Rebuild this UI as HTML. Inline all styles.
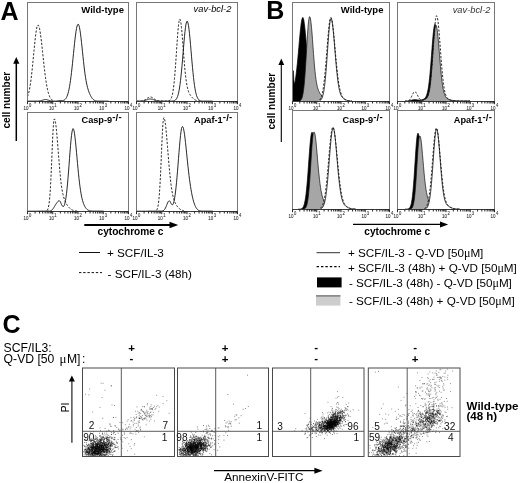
<!DOCTYPE html>
<html><head><meta charset="utf-8"><title>Figure</title><style>html,body{margin:0;padding:0;background:#fff}</style></head><body>
<svg width="520" height="483" viewBox="0 0 520 483" style="display:block;filter:grayscale(1)">
<rect width="520" height="483" fill="#fff"/>
<defs><filter id="sb" x="-5%" y="-5%" width="110%" height="110%"><feGaussianBlur stdDeviation="0.32"/></filter></defs>
<text x="0.5" y="19.7" font-family="Liberation Sans, sans-serif" font-size="25" font-weight="bold" fill="#000">A</text>
<path d="M27.5 96.7 L28.0 95.4 L28.5 93.7 L29.0 91.7 L29.5 89.4 L30.0 86.6 L30.5 83.3 L31.0 79.7 L31.5 75.6 L32.0 71.1 L32.5 66.3 L33.0 61.2 L33.5 56.0 L34.0 50.7 L34.5 45.6 L35.0 40.8 L35.5 36.3 L36.0 32.4 L36.5 29.3 L37.0 26.9 L37.5 25.4 L38.0 25.0 L38.5 25.3 L39.0 26.5 L39.5 28.4 L40.0 31.0 L40.5 34.2 L41.0 38.0 L41.5 42.1 L42.0 46.5 L42.5 51.2 L43.0 55.9 L43.5 60.6 L44.0 65.1 L44.5 69.5 L45.0 73.7 L45.5 77.5 L46.0 81.1 L46.5 84.2 L47.0 87.0 L47.5 89.5 L48.0 91.7 L48.5 93.5 L49.0 95.0 L49.5 96.3 L50.0 97.4 L50.5 98.2 L51.0 98.9 L51.5 99.4 L52.0 99.9 L52.5 100.2 L53.0 100.4 L53.5 100.6 L54.0 100.8" fill="none" stroke="#111" stroke-width="0.9" stroke-dasharray="2.2 1.6" stroke-linejoin="round"/>
<path d="M27.5 101.1 L28.0 101.1 L28.5 101.1 L29.0 101.1 L29.5 101.1 L30.0 101.1 L30.5 101.1 L31.0 101.1 L31.5 101.1 L32.0 101.1 L32.5 101.1 L33.0 101.1 L33.5 101.1 L34.0 101.1 L34.5 101.1 L35.0 101.1 L35.5 101.1 L36.0 101.1 L36.5 101.1 L37.0 101.1 L37.5 101.1 L38.0 101.1 L38.5 101.0 L39.0 101.0 L39.5 100.9 L40.0 100.9 L40.5 100.8 L41.0 100.6 L41.5 100.5 L42.0 100.3 L42.5 100.2 L43.0 100.0 L43.5 99.9 L44.0 99.7 L44.5 99.6 L45.0 99.6 L45.5 99.5 L46.0 99.6 L46.5 99.6 L47.0 99.7 L47.5 99.9 L48.0 100.0 L48.5 100.2 L49.0 100.3 L49.5 100.5 L50.0 100.6 L50.5 100.8 L51.0 100.9 L51.5 100.9 L52.0 101.0 L52.5 101.0 L53.0 101.1 L53.5 101.1 L54.0 101.1 L54.5 101.1 L55.0 101.1 L55.5 101.1 L56.0 101.1 L56.5 101.0 L57.0 101.0 L57.5 100.9 L58.0 100.8 L58.5 100.7 L59.0 100.6 L59.5 100.5 L60.0 100.5 L60.5 100.5 L61.0 100.5 L61.5 100.5 L62.0 100.6 L62.5 100.6 L63.0 100.5 L63.5 100.4 L64.0 100.2 L64.5 99.9 L65.0 99.5 L65.5 99.0 L66.0 98.3 L66.5 97.5 L67.0 96.4 L67.5 95.1 L68.0 93.5 L68.5 91.6 L69.0 89.3 L69.5 86.7 L70.0 83.7 L70.5 80.3 L71.0 76.5 L71.5 72.4 L72.0 68.0 L72.5 63.3 L73.0 58.4 L73.5 53.5 L74.0 48.5 L74.5 43.7 L75.0 39.2 L75.5 35.1 L76.0 31.5 L76.5 28.5 L77.0 26.2 L77.5 24.8 L78.0 24.2 L78.5 24.4 L79.0 25.6 L79.5 27.6 L80.0 30.4 L80.5 33.8 L81.0 37.8 L81.5 42.3 L82.0 47.0 L82.5 51.8 L83.0 56.7 L83.5 61.4 L84.0 65.9 L84.5 70.0 L85.0 73.9 L85.5 77.3 L86.0 80.3 L86.5 83.0 L87.0 85.3 L87.5 87.3 L88.0 89.1 L88.5 90.7 L89.0 92.1 L89.5 93.3 L90.0 94.5 L90.5 95.5 L91.0 96.5 L91.5 97.3 L92.0 98.1 L92.5 98.7 L93.0 99.3 L93.5 99.7 L94.0 100.1 L94.5 100.4 L95.0 100.6 L95.5 100.8 L96.0 100.9 L96.5 101.0 L97.0 101.1 L97.5 101.1 L98.0 101.1 L98.5 101.1 L99.0 101.1 L99.5 101.1 L100.0 101.1 L100.5 101.1 L101.0 101.1 L101.5 101.1 L102.0 101.1 L102.5 101.1 L103.0 101.1 L103.5 101.1 L104.0 101.1 L104.5 101.1 L105.0 101.1 L105.5 101.1 L106.0 101.1 L106.5 101.1 L107.0 101.1 L107.5 101.1 L108.0 101.1 L108.5 101.1" fill="none" stroke="#111" stroke-width="0.9" stroke-linejoin="round"/>
<path d="M136.5 101.1 L137.0 101.1 L137.5 101.1 L138.0 101.1 L138.5 101.1 L139.0 101.1 L139.5 101.1 L140.0 101.1 L140.5 101.1 L141.0 101.0 L141.5 101.0 L142.0 100.9 L142.5 100.8 L143.0 100.7 L143.5 100.5 L144.0 100.3 L144.5 100.1 L145.0 99.8 L145.5 99.5 L146.0 99.2 L146.5 98.8 L147.0 98.5 L147.5 98.1 L148.0 97.8 L148.5 97.5 L149.0 97.2 L149.5 97.1 L150.0 97.0 L150.5 97.0 L151.0 97.0 L151.5 97.2 L152.0 97.4 L152.5 97.7 L153.0 98.0 L153.5 98.4 L154.0 98.7 L154.5 99.1 L155.0 99.4 L155.5 99.8 L156.0 100.0 L156.5 100.3 L157.0 100.5 L157.5 100.6 L158.0 100.8 L158.5 100.9 L159.0 101.0 L159.5 101.0 L160.0 101.1 L160.5 101.1 L161.0 101.1 L161.5 101.1 L162.0 101.1 L162.5 101.1 L163.0 101.1 L163.5 101.1 L164.0 101.1 L164.5 101.1 L165.0 101.1 L165.5 101.1 L166.0 101.1 L166.5 101.1 L167.0 101.1 L167.5 101.1 L168.0 101.0 L168.5 100.9 L169.0 100.8 L169.5 100.5 L170.0 100.2 L170.5 99.6 L171.0 98.8 L171.5 97.7 L172.0 96.1 L172.5 94.1 L173.0 91.3 L173.5 87.9 L174.0 83.7 L174.5 78.6 L175.0 72.7 L175.5 66.1 L176.0 58.9 L176.5 51.4 L177.0 43.9 L177.5 36.8 L178.0 30.5 L178.5 25.2 L179.0 21.5 L179.5 19.4 L180.0 19.1 L180.5 20.5 L181.0 23.4 L181.5 27.7 L182.0 33.0 L182.5 39.1 L183.0 45.7 L183.5 52.3 L184.0 58.8 L184.5 64.8 L185.0 70.3 L185.5 75.1 L186.0 79.3 L186.5 82.7 L187.0 85.6 L187.5 87.9 L188.0 89.9 L188.5 91.5 L189.0 92.7 L189.5 93.8 L190.0 94.7 L190.5 95.4 L191.0 96.1 L191.5 96.8 L192.0 97.3 L192.5 97.8 L193.0 98.3 L193.5 98.8 L194.0 99.2 L194.5 99.5 L195.0 99.8 L195.5 100.1 L196.0 100.3 L196.5 100.5 L197.0 100.7 L197.5 100.8 L198.0 100.9 L198.5 101.0 L199.0 101.0 L199.5 101.1 L200.0 101.1" fill="none" stroke="#111" stroke-width="0.9" stroke-dasharray="2.2 1.6" stroke-linejoin="round"/>
<path d="M136.5 101.1 L137.0 101.1 L137.5 101.1 L138.0 101.1 L138.5 101.1 L139.0 101.1 L139.5 101.1 L140.0 101.1 L140.5 101.1 L141.0 101.1 L141.5 101.1 L142.0 101.0 L142.5 101.0 L143.0 100.9 L143.5 100.8 L144.0 100.7 L144.5 100.6 L145.0 100.5 L145.5 100.3 L146.0 100.1 L146.5 99.9 L147.0 99.7 L147.5 99.6 L148.0 99.4 L148.5 99.2 L149.0 99.1 L149.5 99.0 L150.0 99.0 L150.5 99.0 L151.0 99.0 L151.5 99.1 L152.0 99.2 L152.5 99.3 L153.0 99.5 L153.5 99.7 L154.0 99.9 L154.5 100.1 L155.0 100.3 L155.5 100.4 L156.0 100.6 L156.5 100.7 L157.0 100.8 L157.5 100.9 L158.0 101.0 L158.5 101.0 L159.0 101.0 L159.5 101.1 L160.0 101.1 L160.5 101.1 L161.0 101.1 L161.5 101.1 L162.0 101.1 L162.5 101.1 L163.0 101.1 L163.5 101.1 L164.0 101.1 L164.5 101.1 L165.0 101.1 L165.5 101.1 L166.0 101.1 L166.5 101.1 L167.0 101.1 L167.5 101.1 L168.0 101.1 L168.5 101.1 L169.0 101.1 L169.5 101.1 L170.0 101.1 L170.5 101.1 L171.0 101.1 L171.5 101.1 L172.0 101.1 L172.5 101.0 L173.0 101.0 L173.5 100.9 L174.0 100.8 L174.5 100.6 L175.0 100.3 L175.5 100.0 L176.0 99.4 L176.5 98.8 L177.0 97.8 L177.5 96.7 L178.0 95.1 L178.5 93.2 L179.0 90.9 L179.5 88.0 L180.0 84.6 L180.5 80.6 L181.0 76.1 L181.5 71.1 L182.0 65.7 L182.5 59.9 L183.0 53.8 L183.5 47.8 L184.0 41.9 L184.5 36.4 L185.0 31.4 L185.5 27.3 L186.0 24.1 L186.5 22.0 L187.0 21.2 L187.5 21.5 L188.0 23.1 L188.5 25.7 L189.0 29.3 L189.5 33.7 L190.0 38.9 L190.5 44.4 L191.0 50.3 L191.5 56.2 L192.0 62.0 L192.5 67.5 L193.0 72.7 L193.5 77.5 L194.0 81.7 L194.5 85.5 L195.0 88.7 L195.5 91.3 L196.0 93.6 L196.5 95.4 L197.0 96.8 L197.5 97.9 L198.0 98.8 L198.5 99.5 L199.0 100.0 L199.5 100.3 L200.0 100.6 L200.5 100.8 L201.0 100.9 L201.5 101.0 L202.0 101.0 L202.5 101.1 L203.0 101.1 L203.5 101.1 L204.0 101.1 L204.5 101.1 L205.0 101.1 L205.5 101.1 L206.0 101.1 L206.5 101.1 L207.0 101.1 L207.5 101.1 L208.0 101.1 L208.5 101.1 L209.0 101.1 L209.5 101.1 L210.0 101.1 L210.5 101.1 L211.0 101.1 L211.5 101.1 L212.0 101.1 L212.5 101.1" fill="none" stroke="#111" stroke-width="0.9" stroke-linejoin="round"/>
<path d="M47.0 210.5 L47.5 209.9 L48.0 208.8 L48.5 207.0 L49.0 204.1 L49.5 200.0 L50.0 194.1 L50.5 186.4 L51.0 176.8 L51.5 165.7 L52.0 153.8 L52.5 142.0 L53.0 131.7 L53.5 123.9 L54.0 119.6 L54.5 118.9 L55.0 119.9 L55.5 122.3 L56.0 126.0 L56.5 130.7 L57.0 136.1 L57.5 142.1 L58.0 148.4 L58.5 154.7 L59.0 160.9 L59.5 166.9 L60.0 172.6 L60.5 177.7 L61.0 182.3 L61.5 186.1 L62.0 189.4 L62.5 192.2 L63.0 194.5 L63.5 196.5 L64.0 198.2 L64.5 199.6 L65.0 200.9 L65.5 202.0 L66.0 203.0 L66.5 203.9 L67.0 204.8 L67.5 205.5 L68.0 206.2 L68.5 206.9 L69.0 207.5 L69.5 208.0 L70.0 208.5 L70.5 208.9 L71.0 209.3 L71.5 209.6 L72.0 209.9 L72.5 210.1 L73.0 210.3 L73.5 210.5 L74.0 210.6 L74.5 210.7 L75.0 210.8 L75.5 210.9 L76.0 210.9 L76.5 211.0 L77.0 211.0 L77.5 211.1 L78.0 211.1" fill="none" stroke="#111" stroke-width="0.9" stroke-dasharray="2.2 1.6" stroke-linejoin="round"/>
<path d="M27.5 211.2 L28.0 211.2 L28.5 211.2 L29.0 211.2 L29.5 211.2 L30.0 211.2 L30.5 211.2 L31.0 211.2 L31.5 211.2 L32.0 211.2 L32.5 211.2 L33.0 211.2 L33.5 211.2 L34.0 211.2 L34.5 211.2 L35.0 211.2 L35.5 211.2 L36.0 211.2 L36.5 211.2 L37.0 211.2 L37.5 211.2 L38.0 211.1 L38.5 211.1 L39.0 211.1 L39.5 211.1 L40.0 211.1 L40.5 211.1 L41.0 211.1 L41.5 211.1 L42.0 211.1 L42.5 211.1 L43.0 211.1 L43.5 211.1 L44.0 211.1 L44.5 211.1 L45.0 211.1 L45.5 211.1 L46.0 211.1 L46.5 211.1 L47.0 211.1 L47.5 211.1 L48.0 211.1 L48.5 211.1 L49.0 211.1 L49.5 211.1 L50.0 211.0 L50.5 210.9 L51.0 210.7 L51.5 210.4 L52.0 210.0 L52.5 209.4 L53.0 208.8 L53.5 208.1 L54.0 207.3 L54.5 206.4 L55.0 205.6 L55.5 204.8 L56.0 204.0 L56.5 203.3 L57.0 202.6 L57.5 201.9 L58.0 201.3 L58.5 200.9 L59.0 200.7 L59.5 200.8 L60.0 201.3 L60.5 202.2 L61.0 203.3 L61.5 204.4 L62.0 205.4 L62.5 206.2 L63.0 206.6 L63.5 206.5 L64.0 205.9 L64.5 204.7 L65.0 202.9 L65.5 200.5 L66.0 197.4 L66.5 193.6 L67.0 189.1 L67.5 184.0 L68.0 178.2 L68.5 172.0 L69.0 165.4 L69.5 158.7 L70.0 152.1 L70.5 145.8 L71.0 140.2 L71.5 135.5 L72.0 131.9 L72.5 129.5 L73.0 128.6 L73.5 129.1 L74.0 130.7 L74.5 133.5 L75.0 137.3 L75.5 141.8 L76.0 146.9 L76.5 152.3 L77.0 157.8 L77.5 163.4 L78.0 168.7 L78.5 173.8 L79.0 178.5 L79.5 182.8 L80.0 186.8 L80.5 190.3 L81.0 193.4 L81.5 196.1 L82.0 198.4 L82.5 200.3 L83.0 202.0 L83.5 203.5 L84.0 204.8 L84.5 205.8 L85.0 206.8 L85.5 207.6 L86.0 208.2 L86.5 208.8 L87.0 209.3 L87.5 209.7 L88.0 210.0 L88.5 210.3 L89.0 210.5 L89.5 210.7 L90.0 210.8 L90.5 210.9 L91.0 211.0 L91.5 211.0 L92.0 211.1 L92.5 211.1 L93.0 211.1 L93.5 211.1 L94.0 211.1 L94.5 211.1 L95.0 211.1 L95.5 211.1 L96.0 211.1 L96.5 211.1 L97.0 211.1 L97.5 211.1 L98.0 211.1 L98.5 211.1 L99.0 211.1 L99.5 211.1 L100.0 211.1 L100.5 211.1 L101.0 211.1 L101.5 211.1 L102.0 211.1 L102.5 211.1 L103.0 211.1 L103.5 211.1" fill="none" stroke="#111" stroke-width="0.9" stroke-linejoin="round"/>
<path d="M156.5 210.2 L157.0 209.5 L157.5 208.2 L158.0 206.1 L158.5 203.0 L159.0 198.6 L159.5 192.5 L160.0 184.6 L160.5 175.0 L161.0 164.0 L161.5 152.3 L162.0 140.8 L162.5 130.7 L163.0 122.9 L163.5 118.4 L164.0 117.6 L164.5 118.7 L165.0 121.1 L165.5 124.7 L166.0 129.3 L166.5 134.7 L167.0 140.6 L167.5 146.8 L168.0 153.0 L168.5 159.1 L169.0 164.9 L169.5 170.4 L170.0 175.4 L170.5 180.0 L171.0 184.2 L171.5 188.0 L172.0 191.1 L172.5 193.9 L173.0 196.2 L173.5 198.1 L174.0 199.8 L174.5 201.2 L175.0 202.4 L175.5 203.4 L176.0 204.4 L176.5 205.2 L177.0 206.0 L177.5 206.7 L178.0 207.3 L178.5 207.8 L179.0 208.3 L179.5 208.8 L180.0 209.2 L180.5 209.5 L181.0 209.8 L181.5 210.0 L182.0 210.3 L182.5 210.4 L183.0 210.6 L183.5 210.7 L184.0 210.8" fill="none" stroke="#111" stroke-width="0.9" stroke-dasharray="2.2 1.6" stroke-linejoin="round"/>
<path d="M136.5 211.2 L137.0 211.2 L137.5 211.2 L138.0 211.2 L138.5 211.2 L139.0 211.2 L139.5 211.2 L140.0 211.2 L140.5 211.2 L141.0 211.2 L141.5 211.2 L142.0 211.2 L142.5 211.2 L143.0 211.2 L143.5 211.2 L144.0 211.2 L144.5 211.2 L145.0 211.2 L145.5 211.2 L146.0 211.2 L146.5 211.2 L147.0 211.2 L147.5 211.2 L148.0 211.2 L148.5 211.1 L149.0 211.1 L149.5 211.1 L150.0 211.1 L150.5 211.1 L151.0 211.1 L151.5 211.1 L152.0 211.1 L152.5 211.1 L153.0 211.1 L153.5 211.1 L154.0 211.1 L154.5 211.1 L155.0 211.1 L155.5 211.1 L156.0 211.1 L156.5 211.1 L157.0 211.1 L157.5 211.1 L158.0 211.1 L158.5 211.1 L159.0 211.1 L159.5 211.1 L160.0 211.1 L160.5 211.1 L161.0 211.1 L161.5 211.1 L162.0 211.0 L162.5 210.9 L163.0 210.8 L163.5 210.5 L164.0 210.1 L164.5 209.6 L165.0 208.8 L165.5 207.9 L166.0 206.8 L166.5 205.6 L167.0 204.3 L167.5 203.1 L168.0 202.0 L168.5 201.3 L169.0 200.8 L169.5 200.9 L170.0 201.4 L170.5 202.3 L171.0 203.3 L171.5 204.2 L172.0 204.8 L172.5 204.8 L173.0 204.3 L173.5 203.2 L174.0 201.3 L174.5 198.9 L175.0 195.8 L175.5 192.0 L176.0 187.6 L176.5 182.7 L177.0 177.2 L177.5 171.2 L178.0 165.0 L178.5 158.6 L179.0 152.3 L179.5 146.2 L180.0 140.6 L180.5 135.6 L181.0 131.6 L181.5 128.7 L182.0 127.0 L182.5 126.5 L183.0 127.2 L183.5 128.7 L184.0 131.1 L184.5 134.3 L185.0 138.2 L185.5 142.5 L186.0 147.2 L186.5 152.1 L187.0 157.0 L187.5 161.9 L188.0 166.6 L188.5 171.1 L189.0 175.4 L189.5 179.3 L190.0 182.9 L190.5 186.3 L191.0 189.4 L191.5 192.3 L192.0 194.9 L192.5 197.2 L193.0 199.3 L193.5 201.1 L194.0 202.8 L194.5 204.2 L195.0 205.5 L195.5 206.6 L196.0 207.6 L196.5 208.3 L197.0 209.0 L197.5 209.5 L198.0 209.9 L198.5 210.3 L199.0 210.5 L199.5 210.7 L200.0 210.8 L200.5 210.9 L201.0 211.0 L201.5 211.1 L202.0 211.1 L202.5 211.1 L203.0 211.1 L203.5 211.1 L204.0 211.1 L204.5 211.1 L205.0 211.1 L205.5 211.1 L206.0 211.1 L206.5 211.1 L207.0 211.1 L207.5 211.1 L208.0 211.1 L208.5 211.1 L209.0 211.1 L209.5 211.1 L210.0 211.1 L210.5 211.1 L211.0 211.1 L211.5 211.1 L212.0 211.1 L212.5 211.1" fill="none" stroke="#111" stroke-width="0.9" stroke-linejoin="round"/>
<rect x="27.5" y="2.5" width="101.0" height="99.0" fill="none" stroke="#777" stroke-width="1"/>
<path d="M27.5 101.5 H128.5" stroke="#333" stroke-width="0.9" fill="none"/>
<path d="M27.50 101.5 v2.7M35.10 101.5 v2.0M39.55 101.5 v2.0M42.70 101.5 v2.0M45.15 101.5 v2.0M47.15 101.5 v2.0M48.84 101.5 v2.0M50.30 101.5 v2.0M51.59 101.5 v2.0M52.75 101.5 v2.7M60.35 101.5 v2.0M64.80 101.5 v2.0M67.95 101.5 v2.0M70.40 101.5 v2.0M72.40 101.5 v2.0M74.09 101.5 v2.0M75.55 101.5 v2.0M76.84 101.5 v2.0M78.00 101.5 v2.7M85.60 101.5 v2.0M90.05 101.5 v2.0M93.20 101.5 v2.0M95.65 101.5 v2.0M97.65 101.5 v2.0M99.34 101.5 v2.0M100.80 101.5 v2.0M102.09 101.5 v2.0M103.25 101.5 v2.7M110.85 101.5 v2.0M115.30 101.5 v2.0M118.45 101.5 v2.0M120.90 101.5 v2.0M122.90 101.5 v2.0M124.59 101.5 v2.0M126.05 101.5 v2.0M127.34 101.5 v2.0M128.5 101.5 v2.7" stroke="#111" stroke-width="0.9" fill="none"/>
<text x="23.6" y="109.6" font-family="Liberation Sans, sans-serif" font-size="5.3" textLength="5.0" lengthAdjust="spacingAndGlyphs" fill="#333" stroke="#333" stroke-width="0.1">10</text>
<text x="29.0" y="106.7" font-family="Liberation Sans, sans-serif" font-size="4.8" textLength="2.3" lengthAdjust="spacingAndGlyphs" fill="#333" stroke="#333" stroke-width="0.1">0</text>
<text x="48.9" y="109.6" font-family="Liberation Sans, sans-serif" font-size="5.3" textLength="5.0" lengthAdjust="spacingAndGlyphs" fill="#333" stroke="#333" stroke-width="0.1">10</text>
<text x="54.2" y="106.7" font-family="Liberation Sans, sans-serif" font-size="4.8" textLength="2.3" lengthAdjust="spacingAndGlyphs" fill="#333" stroke="#333" stroke-width="0.1">1</text>
<text x="74.1" y="109.6" font-family="Liberation Sans, sans-serif" font-size="5.3" textLength="5.0" lengthAdjust="spacingAndGlyphs" fill="#333" stroke="#333" stroke-width="0.1">10</text>
<text x="79.5" y="106.7" font-family="Liberation Sans, sans-serif" font-size="4.8" textLength="2.3" lengthAdjust="spacingAndGlyphs" fill="#333" stroke="#333" stroke-width="0.1">2</text>
<text x="99.3" y="109.6" font-family="Liberation Sans, sans-serif" font-size="5.3" textLength="5.0" lengthAdjust="spacingAndGlyphs" fill="#333" stroke="#333" stroke-width="0.1">10</text>
<text x="104.8" y="106.7" font-family="Liberation Sans, sans-serif" font-size="4.8" textLength="2.3" lengthAdjust="spacingAndGlyphs" fill="#333" stroke="#333" stroke-width="0.1">3</text>
<text x="124.6" y="109.6" font-family="Liberation Sans, sans-serif" font-size="5.3" textLength="5.0" lengthAdjust="spacingAndGlyphs" fill="#333" stroke="#333" stroke-width="0.1">10</text>
<text x="130.0" y="106.7" font-family="Liberation Sans, sans-serif" font-size="4.8" textLength="2.3" lengthAdjust="spacingAndGlyphs" fill="#333" stroke="#333" stroke-width="0.1">4</text>
<rect x="136.5" y="2.5" width="101.0" height="99.0" fill="none" stroke="#777" stroke-width="1"/>
<path d="M136.5 101.5 H237.5" stroke="#333" stroke-width="0.9" fill="none"/>
<path d="M136.50 101.5 v2.7M144.10 101.5 v2.0M148.55 101.5 v2.0M151.70 101.5 v2.0M154.15 101.5 v2.0M156.15 101.5 v2.0M157.84 101.5 v2.0M159.30 101.5 v2.0M160.59 101.5 v2.0M161.75 101.5 v2.7M169.35 101.5 v2.0M173.80 101.5 v2.0M176.95 101.5 v2.0M179.40 101.5 v2.0M181.40 101.5 v2.0M183.09 101.5 v2.0M184.55 101.5 v2.0M185.84 101.5 v2.0M187.00 101.5 v2.7M194.60 101.5 v2.0M199.05 101.5 v2.0M202.20 101.5 v2.0M204.65 101.5 v2.0M206.65 101.5 v2.0M208.34 101.5 v2.0M209.80 101.5 v2.0M211.09 101.5 v2.0M212.25 101.5 v2.7M219.85 101.5 v2.0M224.30 101.5 v2.0M227.45 101.5 v2.0M229.90 101.5 v2.0M231.90 101.5 v2.0M233.59 101.5 v2.0M235.05 101.5 v2.0M236.34 101.5 v2.0M237.5 101.5 v2.7" stroke="#111" stroke-width="0.9" fill="none"/>
<text x="132.6" y="109.6" font-family="Liberation Sans, sans-serif" font-size="5.3" textLength="5.0" lengthAdjust="spacingAndGlyphs" fill="#333" stroke="#333" stroke-width="0.1">10</text>
<text x="138.0" y="106.7" font-family="Liberation Sans, sans-serif" font-size="4.8" textLength="2.3" lengthAdjust="spacingAndGlyphs" fill="#333" stroke="#333" stroke-width="0.1">0</text>
<text x="157.8" y="109.6" font-family="Liberation Sans, sans-serif" font-size="5.3" textLength="5.0" lengthAdjust="spacingAndGlyphs" fill="#333" stroke="#333" stroke-width="0.1">10</text>
<text x="163.2" y="106.7" font-family="Liberation Sans, sans-serif" font-size="4.8" textLength="2.3" lengthAdjust="spacingAndGlyphs" fill="#333" stroke="#333" stroke-width="0.1">1</text>
<text x="183.1" y="109.6" font-family="Liberation Sans, sans-serif" font-size="5.3" textLength="5.0" lengthAdjust="spacingAndGlyphs" fill="#333" stroke="#333" stroke-width="0.1">10</text>
<text x="188.5" y="106.7" font-family="Liberation Sans, sans-serif" font-size="4.8" textLength="2.3" lengthAdjust="spacingAndGlyphs" fill="#333" stroke="#333" stroke-width="0.1">2</text>
<text x="208.3" y="109.6" font-family="Liberation Sans, sans-serif" font-size="5.3" textLength="5.0" lengthAdjust="spacingAndGlyphs" fill="#333" stroke="#333" stroke-width="0.1">10</text>
<text x="213.8" y="106.7" font-family="Liberation Sans, sans-serif" font-size="4.8" textLength="2.3" lengthAdjust="spacingAndGlyphs" fill="#333" stroke="#333" stroke-width="0.1">3</text>
<text x="233.6" y="109.6" font-family="Liberation Sans, sans-serif" font-size="5.3" textLength="5.0" lengthAdjust="spacingAndGlyphs" fill="#333" stroke="#333" stroke-width="0.1">10</text>
<text x="239.0" y="106.7" font-family="Liberation Sans, sans-serif" font-size="4.8" textLength="2.3" lengthAdjust="spacingAndGlyphs" fill="#333" stroke="#333" stroke-width="0.1">4</text>
<rect x="27.5" y="112.5" width="101.0" height="99.0" fill="none" stroke="#777" stroke-width="1"/>
<path d="M27.5 211.5 H128.5" stroke="#333" stroke-width="0.9" fill="none"/>
<path d="M27.50 211.5 v2.7M35.10 211.5 v2.0M39.55 211.5 v2.0M42.70 211.5 v2.0M45.15 211.5 v2.0M47.15 211.5 v2.0M48.84 211.5 v2.0M50.30 211.5 v2.0M51.59 211.5 v2.0M52.75 211.5 v2.7M60.35 211.5 v2.0M64.80 211.5 v2.0M67.95 211.5 v2.0M70.40 211.5 v2.0M72.40 211.5 v2.0M74.09 211.5 v2.0M75.55 211.5 v2.0M76.84 211.5 v2.0M78.00 211.5 v2.7M85.60 211.5 v2.0M90.05 211.5 v2.0M93.20 211.5 v2.0M95.65 211.5 v2.0M97.65 211.5 v2.0M99.34 211.5 v2.0M100.80 211.5 v2.0M102.09 211.5 v2.0M103.25 211.5 v2.7M110.85 211.5 v2.0M115.30 211.5 v2.0M118.45 211.5 v2.0M120.90 211.5 v2.0M122.90 211.5 v2.0M124.59 211.5 v2.0M126.05 211.5 v2.0M127.34 211.5 v2.0M128.5 211.5 v2.7" stroke="#111" stroke-width="0.9" fill="none"/>
<text x="23.6" y="219.6" font-family="Liberation Sans, sans-serif" font-size="5.3" textLength="5.0" lengthAdjust="spacingAndGlyphs" fill="#333" stroke="#333" stroke-width="0.1">10</text>
<text x="29.0" y="216.7" font-family="Liberation Sans, sans-serif" font-size="4.8" textLength="2.3" lengthAdjust="spacingAndGlyphs" fill="#333" stroke="#333" stroke-width="0.1">0</text>
<text x="48.9" y="219.6" font-family="Liberation Sans, sans-serif" font-size="5.3" textLength="5.0" lengthAdjust="spacingAndGlyphs" fill="#333" stroke="#333" stroke-width="0.1">10</text>
<text x="54.2" y="216.7" font-family="Liberation Sans, sans-serif" font-size="4.8" textLength="2.3" lengthAdjust="spacingAndGlyphs" fill="#333" stroke="#333" stroke-width="0.1">1</text>
<text x="74.1" y="219.6" font-family="Liberation Sans, sans-serif" font-size="5.3" textLength="5.0" lengthAdjust="spacingAndGlyphs" fill="#333" stroke="#333" stroke-width="0.1">10</text>
<text x="79.5" y="216.7" font-family="Liberation Sans, sans-serif" font-size="4.8" textLength="2.3" lengthAdjust="spacingAndGlyphs" fill="#333" stroke="#333" stroke-width="0.1">2</text>
<text x="99.3" y="219.6" font-family="Liberation Sans, sans-serif" font-size="5.3" textLength="5.0" lengthAdjust="spacingAndGlyphs" fill="#333" stroke="#333" stroke-width="0.1">10</text>
<text x="104.8" y="216.7" font-family="Liberation Sans, sans-serif" font-size="4.8" textLength="2.3" lengthAdjust="spacingAndGlyphs" fill="#333" stroke="#333" stroke-width="0.1">3</text>
<text x="124.6" y="219.6" font-family="Liberation Sans, sans-serif" font-size="5.3" textLength="5.0" lengthAdjust="spacingAndGlyphs" fill="#333" stroke="#333" stroke-width="0.1">10</text>
<text x="130.0" y="216.7" font-family="Liberation Sans, sans-serif" font-size="4.8" textLength="2.3" lengthAdjust="spacingAndGlyphs" fill="#333" stroke="#333" stroke-width="0.1">4</text>
<rect x="136.5" y="112.5" width="101.0" height="99.0" fill="none" stroke="#777" stroke-width="1"/>
<path d="M136.5 211.5 H237.5" stroke="#333" stroke-width="0.9" fill="none"/>
<path d="M136.50 211.5 v2.7M144.10 211.5 v2.0M148.55 211.5 v2.0M151.70 211.5 v2.0M154.15 211.5 v2.0M156.15 211.5 v2.0M157.84 211.5 v2.0M159.30 211.5 v2.0M160.59 211.5 v2.0M161.75 211.5 v2.7M169.35 211.5 v2.0M173.80 211.5 v2.0M176.95 211.5 v2.0M179.40 211.5 v2.0M181.40 211.5 v2.0M183.09 211.5 v2.0M184.55 211.5 v2.0M185.84 211.5 v2.0M187.00 211.5 v2.7M194.60 211.5 v2.0M199.05 211.5 v2.0M202.20 211.5 v2.0M204.65 211.5 v2.0M206.65 211.5 v2.0M208.34 211.5 v2.0M209.80 211.5 v2.0M211.09 211.5 v2.0M212.25 211.5 v2.7M219.85 211.5 v2.0M224.30 211.5 v2.0M227.45 211.5 v2.0M229.90 211.5 v2.0M231.90 211.5 v2.0M233.59 211.5 v2.0M235.05 211.5 v2.0M236.34 211.5 v2.0M237.5 211.5 v2.7" stroke="#111" stroke-width="0.9" fill="none"/>
<text x="132.6" y="219.6" font-family="Liberation Sans, sans-serif" font-size="5.3" textLength="5.0" lengthAdjust="spacingAndGlyphs" fill="#333" stroke="#333" stroke-width="0.1">10</text>
<text x="138.0" y="216.7" font-family="Liberation Sans, sans-serif" font-size="4.8" textLength="2.3" lengthAdjust="spacingAndGlyphs" fill="#333" stroke="#333" stroke-width="0.1">0</text>
<text x="157.8" y="219.6" font-family="Liberation Sans, sans-serif" font-size="5.3" textLength="5.0" lengthAdjust="spacingAndGlyphs" fill="#333" stroke="#333" stroke-width="0.1">10</text>
<text x="163.2" y="216.7" font-family="Liberation Sans, sans-serif" font-size="4.8" textLength="2.3" lengthAdjust="spacingAndGlyphs" fill="#333" stroke="#333" stroke-width="0.1">1</text>
<text x="183.1" y="219.6" font-family="Liberation Sans, sans-serif" font-size="5.3" textLength="5.0" lengthAdjust="spacingAndGlyphs" fill="#333" stroke="#333" stroke-width="0.1">10</text>
<text x="188.5" y="216.7" font-family="Liberation Sans, sans-serif" font-size="4.8" textLength="2.3" lengthAdjust="spacingAndGlyphs" fill="#333" stroke="#333" stroke-width="0.1">2</text>
<text x="208.3" y="219.6" font-family="Liberation Sans, sans-serif" font-size="5.3" textLength="5.0" lengthAdjust="spacingAndGlyphs" fill="#333" stroke="#333" stroke-width="0.1">10</text>
<text x="213.8" y="216.7" font-family="Liberation Sans, sans-serif" font-size="4.8" textLength="2.3" lengthAdjust="spacingAndGlyphs" fill="#333" stroke="#333" stroke-width="0.1">3</text>
<text x="233.6" y="219.6" font-family="Liberation Sans, sans-serif" font-size="5.3" textLength="5.0" lengthAdjust="spacingAndGlyphs" fill="#333" stroke="#333" stroke-width="0.1">10</text>
<text x="239.0" y="216.7" font-family="Liberation Sans, sans-serif" font-size="4.8" textLength="2.3" lengthAdjust="spacingAndGlyphs" fill="#333" stroke="#333" stroke-width="0.1">4</text>
<text x="81.3" y="12.5" font-family="Liberation Sans, sans-serif" font-size="9.5" font-weight="bold" font-style="normal" text-anchor="start" fill="#000">Wild-type</text>
<text x="193.6" y="12.4" font-family="Liberation Sans, sans-serif" font-size="9.3" font-weight="normal" font-style="italic" text-anchor="start" fill="#000">vav-bcl-2</text>
<text x="81.5" y="123" font-family="Liberation Sans, sans-serif" font-size="9.2" font-weight="bold" fill="#000">Casp-9<tspan font-size="9.6" letter-spacing="0.25"><tspan dy="-3.2">-</tspan><tspan dy="1.1">/</tspan><tspan dy="-1.1">-</tspan></tspan></text>
<text x="194.1" y="123" font-family="Liberation Sans, sans-serif" font-size="9.2" font-weight="bold" fill="#000">Apaf-1<tspan font-size="9.6" letter-spacing="0.25"><tspan dy="-3.2">-</tspan><tspan dy="1.1">/</tspan><tspan dy="-1.1">-</tspan></tspan></text>
<path d="M16.3 141 V62" stroke="#000" stroke-width="1.5" fill="none"/>
<path d="M16.3 57 L19.4 63.8 L13.2 63.8 Z" fill="#000"/>
<text transform="translate(9.9 128.6) rotate(-90)" font-family="Liberation Sans, sans-serif" font-size="10.15" font-weight="bold" fill="#000">cell number</text>
<path d="M84.3 225 H172" stroke="#000" stroke-width="1.8" fill="none"/>
<path d="M178.3 225 L169.5 221.7 L169.5 228.3 Z" fill="#000"/>
<text x="97.5" y="235.2" font-family="Liberation Sans, sans-serif" font-size="10.15" font-weight="bold" font-style="normal" text-anchor="start" fill="#000">cytochrome c</text>
<path d="M79 252.5 H100" stroke="#111" stroke-width="1" fill="none"/>
<path d="M79 272.6 H102" stroke="#111" stroke-width="1" stroke-dasharray="2.4 1.8" fill="none"/>
<text x="107" y="256.5" font-family="Liberation Sans, sans-serif" font-size="11.7" font-weight="normal" font-style="normal" text-anchor="start" fill="#000">+ SCF/IL-3</text>
<text x="107.5" y="277.5" font-family="Liberation Sans, sans-serif" font-size="11.7" font-weight="normal" font-style="normal" text-anchor="start" fill="#000">- SCF/IL-3 (48h)</text>
<text x="266.3" y="19" font-family="Liberation Sans, sans-serif" font-size="25" font-weight="bold" fill="#000">B</text>
<path d="M292.8 72.2 L293.3 70.7 L293.8 79.5 L294.3 84.2 L294.8 83.1 L295.3 80.3 L295.8 76.8 L296.3 72.9 L296.8 68.6 L297.3 63.9 L297.8 58.7 L298.3 53.3 L298.8 47.6 L299.3 41.9 L299.8 36.3 L300.3 31.1 L300.8 26.5 L301.3 22.6 L301.8 19.7 L302.3 18.0 L302.8 17.4 L303.3 18.2 L303.8 20.1 L304.3 23.3 L304.8 27.4 L305.3 32.4 L305.8 38.1 L306.3 44.2 L306.8 50.5 L307.3 56.8 L307.8 62.9 L308.3 68.7 L308.8 74.0 L309.3 78.9 L309.8 83.1 L310.3 86.8 L310.8 89.8 L311.3 92.4 L311.8 94.5 L311.8 101.2 L292.8 101.2 Z" fill="#000" stroke="none"/>
<path d="M292.8 72.2 L293.3 70.7 L293.8 79.5 L294.3 84.2 L294.8 83.1 L295.3 80.3 L295.8 76.8 L296.3 72.9 L296.8 68.6 L297.3 63.9 L297.8 58.7 L298.3 53.3 L298.8 47.6 L299.3 41.9 L299.8 36.3 L300.3 31.1 L300.8 26.5 L301.3 22.6 L301.8 19.7 L302.3 18.0 L302.8 17.4 L303.3 18.2 L303.8 20.1 L304.3 23.3 L304.8 27.4 L305.3 32.4 L305.8 38.1 L306.3 44.2 L306.8 50.5 L307.3 56.8 L307.8 62.9 L308.3 68.7 L308.8 74.0 L309.3 78.9 L309.8 83.1 L310.3 86.8 L310.8 89.8 L311.3 92.4 L311.8 94.5" fill="none" stroke="#000" stroke-width="0.7"/>
<path d="M300.0 100.7 L300.5 100.4 L301.0 99.8 L301.5 99.0 L302.0 97.9 L302.5 96.1 L303.0 93.7 L303.5 90.5 L304.0 86.3 L304.5 81.1 L305.0 74.8 L305.5 67.5 L306.0 59.5 L306.5 51.0 L307.0 42.4 L307.5 34.4 L308.0 27.4 L308.5 21.8 L309.0 18.2 L309.5 16.7 L310.0 17.0 L310.5 19.0 L311.0 22.4 L311.5 27.2 L312.0 33.0 L312.5 39.6 L313.0 46.5 L313.5 53.5 L314.0 60.0 L314.5 66.0 L315.0 71.2 L315.5 75.7 L316.0 79.5 L316.5 82.7 L317.0 85.3 L317.5 87.4 L318.0 89.1 L318.5 90.5 L319.0 91.6 L319.5 92.6 L320.0 93.5 L320.5 94.2 L321.0 94.9 L321.5 95.5 L322.0 96.1 L322.5 96.7 L323.0 97.2 L323.5 97.6 L324.0 98.0 L324.5 98.4 L325.0 98.8 L325.5 99.1 L326.0 99.4 L326.5 99.6 L327.0 99.9 L327.5 100.1 L328.0 100.2 L328.5 100.4 L329.0 100.5 L329.5 100.6 L330.0 100.7 L330.5 100.8 L331.0 100.9 L331.5 100.9 L332.0 101.0 L332.5 101.0 L333.0 101.0 L333.5 101.1 L334.0 101.1 L334.5 101.1 L335.0 101.1 L335.5 101.1 L336.0 101.1 L336.5 101.1 L337.0 101.1 L337.5 101.1 L338.0 101.1 L338.5 101.1 L339.0 101.1 L339.5 101.1 L340.0 101.1 L340.5 101.1 L341.0 101.1 L341.5 101.1 L342.0 101.1 L342.5 101.1 L343.0 101.1 L343.5 101.1 L344.0 101.1 L344.5 101.1 L345.0 101.1 L345.5 101.1 L346.0 101.1 L346.0 101.2 L300.0 101.2 Z" fill="#a6a6a6" stroke="none"/>
<path d="M300.0 100.7 L300.5 100.4 L301.0 99.8 L301.5 99.0 L302.0 97.9 L302.5 96.1 L303.0 93.7 L303.5 90.5 L304.0 86.3 L304.5 81.1 L305.0 74.8 L305.5 67.5 L306.0 59.5 L306.5 51.0 L307.0 42.4 L307.5 34.4 L308.0 27.4 L308.5 21.8 L309.0 18.2 L309.5 16.7 L310.0 17.0 L310.5 19.0 L311.0 22.4 L311.5 27.2 L312.0 33.0 L312.5 39.6 L313.0 46.5 L313.5 53.5 L314.0 60.0 L314.5 66.0 L315.0 71.2 L315.5 75.7 L316.0 79.5 L316.5 82.7 L317.0 85.3 L317.5 87.4 L318.0 89.1 L318.5 90.5 L319.0 91.6 L319.5 92.6 L320.0 93.5 L320.5 94.2 L321.0 94.9 L321.5 95.5 L322.0 96.1 L322.5 96.7 L323.0 97.2 L323.5 97.6 L324.0 98.0 L324.5 98.4 L325.0 98.8 L325.5 99.1 L326.0 99.4 L326.5 99.6 L327.0 99.9 L327.5 100.1 L328.0 100.2 L328.5 100.4 L329.0 100.5 L329.5 100.6 L330.0 100.7 L330.5 100.8 L331.0 100.9 L331.5 100.9 L332.0 101.0 L332.5 101.0 L333.0 101.0 L333.5 101.1 L334.0 101.1 L334.5 101.1 L335.0 101.1 L335.5 101.1 L336.0 101.1 L336.5 101.1 L337.0 101.1 L337.5 101.1 L338.0 101.1 L338.5 101.1 L339.0 101.1 L339.5 101.1 L340.0 101.1 L340.5 101.1 L341.0 101.1 L341.5 101.1 L342.0 101.1 L342.5 101.1 L343.0 101.1 L343.5 101.1 L344.0 101.1 L344.5 101.1 L345.0 101.1 L345.5 101.1 L346.0 101.1" fill="none" stroke="#111" stroke-width="0.7"/>
<path d="M320.0 100.6 L320.5 100.2 L321.0 99.8 L321.5 99.1 L322.0 98.1 L322.5 96.8 L323.0 95.1 L323.5 92.8 L324.0 90.0 L324.5 86.4 L325.0 82.2 L325.5 77.1 L326.0 71.4 L326.5 65.0 L327.0 58.2 L327.5 51.1 L328.0 44.0 L328.5 37.2 L329.0 31.0 L329.5 25.8 L330.0 21.8 L330.5 19.3 L331.0 18.4 L331.5 19.0 L332.0 20.9 L332.5 24.1 L333.0 28.3 L333.5 33.4 L334.0 39.1 L334.5 45.1 L335.0 51.3 L335.5 57.4 L336.0 63.2 L336.5 68.7 L337.0 73.6 L337.5 78.1 L338.0 82.0 L338.5 85.4 L339.0 88.2 L339.5 90.6 L340.0 92.5 L340.5 94.0 L341.0 95.2 L341.5 96.2 L342.0 97.0 L342.5 97.6 L343.0 98.2 L343.5 98.6 L344.0 99.0 L344.5 99.3 L345.0 99.6 L345.5 99.8 L346.0 100.0 L346.5 100.2 L347.0 100.3 L347.5 100.5 L348.0 100.6 L348.5 100.7 L349.0 100.8 L349.5 100.9 L350.0 100.9 L350.5 101.0 L351.0 101.0 L351.5 101.0 L352.0 101.1 L352.0 101.2 L320.0 101.2 Z" fill="#fff" stroke="none"/>
<path d="M320.0 100.6 L320.5 100.2 L321.0 99.8 L321.5 99.1 L322.0 98.1 L322.5 96.8 L323.0 95.1 L323.5 92.8 L324.0 90.0 L324.5 86.4 L325.0 82.2 L325.5 77.1 L326.0 71.4 L326.5 65.0 L327.0 58.2 L327.5 51.1 L328.0 44.0 L328.5 37.2 L329.0 31.0 L329.5 25.8 L330.0 21.8 L330.5 19.3 L331.0 18.4 L331.5 19.0 L332.0 20.9 L332.5 24.1 L333.0 28.3 L333.5 33.4 L334.0 39.1 L334.5 45.1 L335.0 51.3 L335.5 57.4 L336.0 63.2 L336.5 68.7 L337.0 73.6 L337.5 78.1 L338.0 82.0 L338.5 85.4 L339.0 88.2 L339.5 90.6 L340.0 92.5 L340.5 94.0 L341.0 95.2 L341.5 96.2 L342.0 97.0 L342.5 97.6 L343.0 98.2 L343.5 98.6 L344.0 99.0 L344.5 99.3 L345.0 99.6 L345.5 99.8 L346.0 100.0 L346.5 100.2 L347.0 100.3 L347.5 100.5 L348.0 100.6 L348.5 100.7 L349.0 100.8 L349.5 100.9 L350.0 100.9 L350.5 101.0 L351.0 101.0 L351.5 101.0 L352.0 101.1" fill="none" stroke="#111" stroke-width="0.8" stroke-linejoin="round"/>
<path d="M319.4 100.0 L319.9 99.5 L320.4 98.8 L320.9 97.8 L321.4 96.6 L321.9 95.0 L322.4 92.9 L322.9 90.4 L323.4 87.3 L323.9 83.7 L324.4 79.4 L324.9 74.6 L325.4 69.1 L325.9 63.2 L326.4 57.0 L326.9 50.5 L327.4 44.0 L327.9 37.8 L328.4 32.0 L328.9 27.0 L329.4 22.8 L329.9 19.7 L330.4 17.9 L330.9 17.4 L331.4 18.1 L331.9 20.0 L332.4 22.8 L332.9 26.5 L333.4 31.0 L333.9 36.0 L334.4 41.4 L334.9 47.0 L335.4 52.6 L335.9 58.1 L336.4 63.4 L336.9 68.3 L337.4 72.9 L337.9 77.1 L338.4 80.9 L338.9 84.2 L339.4 87.0 L339.9 89.4 L340.4 91.5 L340.9 93.1 L341.4 94.5 L341.9 95.7 L342.4 96.6 L342.9 97.4 L343.4 98.0 L343.9 98.5 L344.4 98.9 L344.9 99.3 L345.4 99.6 L345.9 99.9 L346.4 100.1 L346.9 100.3 L347.4 100.4 L347.9 100.6 L348.4 100.7 L348.9 100.8 L349.4 100.8 L349.9 100.9 L350.4 101.0 L350.9 101.0 L351.4 101.0 L351.9 101.1" fill="none" stroke="#111" stroke-width="0.9" stroke-dasharray="2.2 1.6" stroke-linejoin="round"/>
<path d="M405.0 101.1 L405.5 101.1 L406.0 101.1 L406.5 101.0 L407.0 101.0 L407.5 101.0 L408.0 100.9 L408.5 100.8 L409.0 100.7 L409.5 100.6 L410.0 100.5 L410.5 100.4 L411.0 100.3 L411.5 100.2 L412.0 100.0 L412.5 99.9 L413.0 99.8 L413.5 99.7 L414.0 99.7 L414.5 99.6 L415.0 99.6 L415.5 99.7 L416.0 99.7 L416.5 99.7 L417.0 99.8 L417.5 99.9 L418.0 99.9 L418.5 100.0 L419.0 100.0 L419.5 100.0 L420.0 100.0 L420.5 100.0 L421.0 100.0 L421.5 99.9 L422.0 99.8 L422.5 99.6 L423.0 99.4 L423.5 99.2 L424.0 98.9 L424.5 98.5 L425.0 98.0 L425.5 97.4 L426.0 96.6 L426.5 95.4 L427.0 94.0 L427.5 92.1 L428.0 89.8 L428.5 86.8 L429.0 83.1 L429.5 78.8 L430.0 73.7 L430.5 68.0 L431.0 61.8 L431.5 55.2 L432.0 48.6 L432.5 42.1 L433.0 36.2 L433.5 31.2 L434.0 27.4 L434.5 25.0 L435.0 24.2 L435.5 25.0 L436.0 27.4 L436.5 31.3 L437.0 36.3 L437.5 42.3 L438.0 48.7 L438.5 55.4 L439.0 62.0 L439.5 68.2 L440.0 73.9 L440.5 78.9 L441.0 83.2 L441.5 86.9 L442.0 89.8 L442.5 92.1 L443.0 94.0 L443.5 95.4 L444.0 96.5 L444.5 97.3 L445.0 97.9 L445.5 98.4 L446.0 98.7 L446.5 99.0 L447.0 99.3 L447.5 99.5 L448.0 99.7 L448.5 99.8 L449.0 100.0 L449.5 100.1 L450.0 100.2 L450.5 100.3 L451.0 100.4 L451.5 100.5 L452.0 100.6 L452.5 100.7 L453.0 100.7 L453.5 100.8 L454.0 100.8 L454.5 100.9 L455.0 100.9 L455.5 101.0 L456.0 101.0 L456.5 101.0 L457.0 101.0 L457.5 101.1 L458.0 101.1 L458.5 101.1 L459.0 101.1 L459.5 101.1 L460.0 101.1 L460.5 101.1 L461.0 101.1 L461.5 101.1 L462.0 101.1 L462.5 101.1 L463.0 101.1 L463.5 101.1 L464.0 101.1 L464.5 101.1 L465.0 101.1 L465.5 101.1 L466.0 101.1 L466.5 101.1 L467.0 101.1 L467.5 101.1 L468.0 101.1 L468.5 101.1 L469.0 101.1 L469.5 101.1 L470.0 101.1 L470.0 101.2 L405.0 101.2 Z" fill="#000" stroke="none"/>
<path d="M405.0 101.1 L405.5 101.1 L406.0 101.1 L406.5 101.0 L407.0 101.0 L407.5 101.0 L408.0 100.9 L408.5 100.8 L409.0 100.7 L409.5 100.6 L410.0 100.5 L410.5 100.4 L411.0 100.3 L411.5 100.2 L412.0 100.0 L412.5 99.9 L413.0 99.8 L413.5 99.7 L414.0 99.7 L414.5 99.6 L415.0 99.6 L415.5 99.7 L416.0 99.7 L416.5 99.7 L417.0 99.8 L417.5 99.9 L418.0 99.9 L418.5 100.0 L419.0 100.0 L419.5 100.0 L420.0 100.0 L420.5 100.0 L421.0 100.0 L421.5 99.9 L422.0 99.8 L422.5 99.6 L423.0 99.4 L423.5 99.2 L424.0 98.9 L424.5 98.5 L425.0 98.0 L425.5 97.4 L426.0 96.6 L426.5 95.4 L427.0 94.0 L427.5 92.1 L428.0 89.8 L428.5 86.8 L429.0 83.1 L429.5 78.8 L430.0 73.7 L430.5 68.0 L431.0 61.8 L431.5 55.2 L432.0 48.6 L432.5 42.1 L433.0 36.2 L433.5 31.2 L434.0 27.4 L434.5 25.0 L435.0 24.2 L435.5 25.0 L436.0 27.4 L436.5 31.3 L437.0 36.3 L437.5 42.3 L438.0 48.7 L438.5 55.4 L439.0 62.0 L439.5 68.2 L440.0 73.9 L440.5 78.9 L441.0 83.2 L441.5 86.9 L442.0 89.8 L442.5 92.1 L443.0 94.0 L443.5 95.4 L444.0 96.5 L444.5 97.3 L445.0 97.9 L445.5 98.4 L446.0 98.7 L446.5 99.0 L447.0 99.3 L447.5 99.5 L448.0 99.7 L448.5 99.8 L449.0 100.0 L449.5 100.1 L450.0 100.2 L450.5 100.3 L451.0 100.4 L451.5 100.5 L452.0 100.6 L452.5 100.7 L453.0 100.7 L453.5 100.8 L454.0 100.8 L454.5 100.9 L455.0 100.9 L455.5 101.0 L456.0 101.0 L456.5 101.0 L457.0 101.0 L457.5 101.1 L458.0 101.1 L458.5 101.1 L459.0 101.1 L459.5 101.1 L460.0 101.1 L460.5 101.1 L461.0 101.1 L461.5 101.1 L462.0 101.1 L462.5 101.1 L463.0 101.1 L463.5 101.1 L464.0 101.1 L464.5 101.1 L465.0 101.1 L465.5 101.1 L466.0 101.1 L466.5 101.1 L467.0 101.1 L467.5 101.1 L468.0 101.1 L468.5 101.1 L469.0 101.1 L469.5 101.1 L470.0 101.1" fill="none" stroke="#000" stroke-width="0.7"/>
<path d="M415.0 101.1 L415.5 101.1 L416.0 101.0 L416.5 101.0 L417.0 101.0 L417.5 101.0 L418.0 100.9 L418.5 100.9 L419.0 100.8 L419.5 100.8 L420.0 100.7 L420.5 100.6 L421.0 100.5 L421.5 100.4 L422.0 100.3 L422.5 100.2 L423.0 100.1 L423.5 99.9 L424.0 99.7 L424.5 99.5 L425.0 99.3 L425.5 99.0 L426.0 98.7 L426.5 98.2 L427.0 97.7 L427.5 96.9 L428.0 95.8 L428.5 94.4 L429.0 92.5 L429.5 90.1 L430.0 86.9 L430.5 82.9 L431.0 78.1 L431.5 72.4 L432.0 66.0 L432.5 59.0 L433.0 51.8 L433.5 44.7 L434.0 38.1 L434.5 32.5 L435.0 28.3 L435.5 25.8 L436.0 25.2 L436.5 26.2 L437.0 28.6 L437.5 32.2 L438.0 36.9 L438.5 42.3 L439.0 48.3 L439.5 54.5 L440.0 60.6 L440.5 66.5 L441.0 72.0 L441.5 77.0 L442.0 81.3 L442.5 85.0 L443.0 88.1 L443.5 90.7 L444.0 92.7 L444.5 94.3 L445.0 95.6 L445.5 96.6 L446.0 97.3 L446.5 97.9 L447.0 98.4 L447.5 98.7 L448.0 99.0 L448.5 99.3 L449.0 99.5 L449.5 99.7 L450.0 99.8 L450.5 100.0 L451.0 100.1 L451.5 100.2 L452.0 100.3 L452.5 100.4 L453.0 100.5 L453.5 100.6 L454.0 100.7 L454.5 100.7 L455.0 100.8 L455.5 100.8 L456.0 100.9 L456.5 100.9 L457.0 101.0 L457.5 101.0 L458.0 101.0 L458.5 101.0 L459.0 101.1 L459.5 101.1 L460.0 101.1 L460.5 101.1 L461.0 101.1 L461.5 101.1 L462.0 101.1 L462.5 101.1 L463.0 101.1 L463.5 101.1 L464.0 101.1 L464.5 101.1 L465.0 101.1 L465.5 101.1 L466.0 101.1 L466.5 101.1 L467.0 101.1 L467.5 101.1 L468.0 101.1 L468.5 101.1 L469.0 101.1 L469.5 101.1 L470.0 101.1 L470.0 101.2 L415.0 101.2 Z" fill="#a6a6a6" stroke="none"/>
<path d="M415.0 101.1 L415.5 101.1 L416.0 101.0 L416.5 101.0 L417.0 101.0 L417.5 101.0 L418.0 100.9 L418.5 100.9 L419.0 100.8 L419.5 100.8 L420.0 100.7 L420.5 100.6 L421.0 100.5 L421.5 100.4 L422.0 100.3 L422.5 100.2 L423.0 100.1 L423.5 99.9 L424.0 99.7 L424.5 99.5 L425.0 99.3 L425.5 99.0 L426.0 98.7 L426.5 98.2 L427.0 97.7 L427.5 96.9 L428.0 95.8 L428.5 94.4 L429.0 92.5 L429.5 90.1 L430.0 86.9 L430.5 82.9 L431.0 78.1 L431.5 72.4 L432.0 66.0 L432.5 59.0 L433.0 51.8 L433.5 44.7 L434.0 38.1 L434.5 32.5 L435.0 28.3 L435.5 25.8 L436.0 25.2 L436.5 26.2 L437.0 28.6 L437.5 32.2 L438.0 36.9 L438.5 42.3 L439.0 48.3 L439.5 54.5 L440.0 60.6 L440.5 66.5 L441.0 72.0 L441.5 77.0 L442.0 81.3 L442.5 85.0 L443.0 88.1 L443.5 90.7 L444.0 92.7 L444.5 94.3 L445.0 95.6 L445.5 96.6 L446.0 97.3 L446.5 97.9 L447.0 98.4 L447.5 98.7 L448.0 99.0 L448.5 99.3 L449.0 99.5 L449.5 99.7 L450.0 99.8 L450.5 100.0 L451.0 100.1 L451.5 100.2 L452.0 100.3 L452.5 100.4 L453.0 100.5 L453.5 100.6 L454.0 100.7 L454.5 100.7 L455.0 100.8 L455.5 100.8 L456.0 100.9 L456.5 100.9 L457.0 101.0 L457.5 101.0 L458.0 101.0 L458.5 101.0 L459.0 101.1 L459.5 101.1 L460.0 101.1 L460.5 101.1 L461.0 101.1 L461.5 101.1 L462.0 101.1 L462.5 101.1 L463.0 101.1 L463.5 101.1 L464.0 101.1 L464.5 101.1 L465.0 101.1 L465.5 101.1 L466.0 101.1 L466.5 101.1 L467.0 101.1 L467.5 101.1 L468.0 101.1 L468.5 101.1 L469.0 101.1 L469.5 101.1 L470.0 101.1" fill="none" stroke="#111" stroke-width="0.7"/>
<path d="M405.0 101.1 L405.5 101.1 L406.0 101.1 L406.5 101.1 L407.0 101.0 L407.5 100.9 L408.0 100.8 L408.5 100.6 L409.0 100.3 L409.5 99.9 L410.0 99.3 L410.5 98.6 L411.0 97.7 L411.5 96.7 L412.0 95.6 L412.5 94.5 L413.0 93.5 L413.5 92.6 L414.0 92.0 L414.5 91.6 L415.0 91.6 L415.5 92.0 L416.0 92.5 L416.5 93.3 L417.0 94.2 L417.5 95.2 L418.0 96.2 L418.5 97.1 L419.0 98.0 L419.5 98.7 L420.0 99.2 L420.5 99.6 L421.0 99.9 L421.5 100.1 L422.0 100.1 L422.5 100.2 L423.0 100.1 L423.5 100.0 L424.0 99.9 L424.5 99.7 L425.0 99.4 L425.5 99.1 L426.0 98.7 L426.5 98.2 L427.0 97.5 L427.5 96.5 L428.0 95.3 L428.5 93.6 L429.0 91.5 L429.5 88.8 L430.0 85.5 L430.5 81.4 L431.0 76.5 L431.5 70.9 L432.0 64.7 L432.5 57.8 L433.0 50.6 L433.5 43.3 L434.0 36.3 L434.5 29.7 L435.0 24.1 L435.5 19.8 L436.0 16.9 L436.5 15.7 L437.0 16.2 L437.5 18.1 L438.0 21.4 L438.5 25.8 L439.0 31.3 L439.5 37.4 L440.0 44.0 L440.5 50.7 L441.0 57.3 L441.5 63.7 L442.0 69.6 L442.5 75.0 L443.0 79.7 L443.5 83.8 L444.0 87.2 L444.5 90.1 L445.0 92.4 L445.5 94.2 L446.0 95.7 L446.5 96.8 L447.0 97.7 L447.5 98.3 L448.0 98.8 L448.5 99.2 L449.0 99.5 L449.5 99.8 L450.0 100.0 L450.5 100.1 L451.0 100.2 L451.5 100.4 L452.0 100.5 L452.5 100.5 L453.0 100.6 L453.5 100.7 L454.0 100.8 L454.5 100.8 L455.0 100.9 L455.5 100.9 L456.0 100.9 L456.5 101.0 L457.0 101.0 L457.5 101.0 L458.0 101.0 L458.5 101.1 L459.0 101.1 L459.5 101.1 L460.0 101.1 L460.5 101.1 L461.0 101.1 L461.5 101.1 L462.0 101.1 L462.5 101.1 L463.0 101.1 L463.5 101.1 L464.0 101.1 L464.5 101.1 L465.0 101.1 L465.5 101.1 L466.0 101.1 L466.5 101.1 L467.0 101.1 L467.5 101.1 L468.0 101.1 L468.5 101.1 L469.0 101.1 L469.5 101.1 L470.0 101.1" fill="none" stroke="#111" stroke-width="0.9" stroke-dasharray="2.2 1.6" stroke-linejoin="round"/>
<path d="M298.0 209.1 L298.5 209.1 L299.0 209.1 L299.5 209.1 L300.0 209.0 L300.5 209.0 L301.0 208.9 L301.5 208.7 L302.0 208.4 L302.5 207.9 L303.0 207.3 L303.5 206.4 L304.0 205.1 L304.5 203.3 L305.0 201.0 L305.5 198.1 L306.0 194.4 L306.5 189.9 L307.0 184.7 L307.5 178.8 L308.0 172.2 L308.5 165.3 L309.0 158.2 L309.5 151.4 L310.0 145.1 L310.5 139.7 L311.0 135.6 L311.5 133.0 L312.0 132.2 L312.5 132.7 L313.0 134.5 L313.5 137.4 L314.0 141.2 L314.5 145.8 L315.0 151.0 L315.5 156.6 L316.0 162.4 L316.5 168.3 L317.0 173.9 L317.5 179.2 L318.0 184.2 L318.5 188.6 L319.0 192.5 L319.5 195.9 L320.0 198.7 L320.5 201.1 L321.0 203.0 L321.5 204.6 L322.0 205.8 L322.5 206.7 L323.0 207.4 L323.5 207.9 L324.0 208.3 L324.5 208.6 L325.0 208.8 L325.5 208.9 L326.0 209.0 L326.5 209.0 L327.0 209.1 L327.5 209.1 L328.0 209.1 L328.5 209.1 L329.0 209.1 L329.5 209.1 L330.0 209.1 L330.5 209.1 L331.0 209.1 L331.5 209.1 L332.0 209.1 L332.5 209.1 L333.0 209.1 L333.5 209.1 L334.0 209.1 L334.5 209.1 L335.0 209.1 L335.0 209.2 L298.0 209.2 Z" fill="#000" stroke="none"/>
<path d="M298.0 209.1 L298.5 209.1 L299.0 209.1 L299.5 209.1 L300.0 209.0 L300.5 209.0 L301.0 208.9 L301.5 208.7 L302.0 208.4 L302.5 207.9 L303.0 207.3 L303.5 206.4 L304.0 205.1 L304.5 203.3 L305.0 201.0 L305.5 198.1 L306.0 194.4 L306.5 189.9 L307.0 184.7 L307.5 178.8 L308.0 172.2 L308.5 165.3 L309.0 158.2 L309.5 151.4 L310.0 145.1 L310.5 139.7 L311.0 135.6 L311.5 133.0 L312.0 132.2 L312.5 132.7 L313.0 134.5 L313.5 137.4 L314.0 141.2 L314.5 145.8 L315.0 151.0 L315.5 156.6 L316.0 162.4 L316.5 168.3 L317.0 173.9 L317.5 179.2 L318.0 184.2 L318.5 188.6 L319.0 192.5 L319.5 195.9 L320.0 198.7 L320.5 201.1 L321.0 203.0 L321.5 204.6 L322.0 205.8 L322.5 206.7 L323.0 207.4 L323.5 207.9 L324.0 208.3 L324.5 208.6 L325.0 208.8 L325.5 208.9 L326.0 209.0 L326.5 209.0 L327.0 209.1 L327.5 209.1 L328.0 209.1 L328.5 209.1 L329.0 209.1 L329.5 209.1 L330.0 209.1 L330.5 209.1 L331.0 209.1 L331.5 209.1 L332.0 209.1 L332.5 209.1 L333.0 209.1 L333.5 209.1 L334.0 209.1 L334.5 209.1 L335.0 209.1" fill="none" stroke="#000" stroke-width="0.7"/>
<path d="M302.0 209.1 L302.5 209.1 L303.0 209.1 L303.5 209.0 L304.0 208.9 L304.5 208.8 L305.0 208.5 L305.5 208.0 L306.0 207.2 L306.5 206.1 L307.0 204.5 L307.5 202.1 L308.0 199.0 L308.5 194.9 L309.0 189.8 L309.5 183.7 L310.0 176.7 L310.5 169.0 L311.0 160.9 L311.5 153.0 L312.0 145.7 L312.5 139.6 L313.0 135.1 L313.5 132.7 L314.0 131.9 L314.5 132.5 L315.0 134.4 L315.5 137.6 L316.0 141.9 L316.5 147.1 L317.0 152.8 L317.5 158.6 L318.0 164.4 L318.5 169.9 L319.0 175.0 L319.5 179.6 L320.0 183.7 L320.5 187.3 L321.0 190.4 L321.5 193.0 L322.0 195.2 L322.5 197.0 L323.0 198.6 L323.5 199.9 L324.0 201.0 L324.5 201.9 L325.0 202.8 L325.5 203.5 L326.0 204.2 L326.5 204.8 L327.0 205.3 L327.5 205.8 L328.0 206.2 L328.5 206.6 L329.0 206.9 L329.5 207.3 L330.0 207.5 L330.5 207.8 L331.0 208.0 L331.5 208.2 L332.0 208.3 L332.5 208.5 L333.0 208.6 L333.5 208.7 L334.0 208.8 L334.5 208.8 L335.0 208.9 L335.5 209.0 L336.0 209.0 L336.5 209.0 L337.0 209.1 L337.5 209.1 L338.0 209.1 L338.5 209.1 L339.0 209.1 L339.5 209.1 L340.0 209.1 L340.5 209.1 L341.0 209.1 L341.5 209.1 L342.0 209.1 L342.5 209.1 L343.0 209.1 L343.5 209.1 L344.0 209.1 L344.5 209.1 L345.0 209.1 L345.0 209.2 L302.0 209.2 Z" fill="#a6a6a6" stroke="none"/>
<path d="M302.0 209.1 L302.5 209.1 L303.0 209.1 L303.5 209.0 L304.0 208.9 L304.5 208.8 L305.0 208.5 L305.5 208.0 L306.0 207.2 L306.5 206.1 L307.0 204.5 L307.5 202.1 L308.0 199.0 L308.5 194.9 L309.0 189.8 L309.5 183.7 L310.0 176.7 L310.5 169.0 L311.0 160.9 L311.5 153.0 L312.0 145.7 L312.5 139.6 L313.0 135.1 L313.5 132.7 L314.0 131.9 L314.5 132.5 L315.0 134.4 L315.5 137.6 L316.0 141.9 L316.5 147.1 L317.0 152.8 L317.5 158.6 L318.0 164.4 L318.5 169.9 L319.0 175.0 L319.5 179.6 L320.0 183.7 L320.5 187.3 L321.0 190.4 L321.5 193.0 L322.0 195.2 L322.5 197.0 L323.0 198.6 L323.5 199.9 L324.0 201.0 L324.5 201.9 L325.0 202.8 L325.5 203.5 L326.0 204.2 L326.5 204.8 L327.0 205.3 L327.5 205.8 L328.0 206.2 L328.5 206.6 L329.0 206.9 L329.5 207.3 L330.0 207.5 L330.5 207.8 L331.0 208.0 L331.5 208.2 L332.0 208.3 L332.5 208.5 L333.0 208.6 L333.5 208.7 L334.0 208.8 L334.5 208.8 L335.0 208.9 L335.5 209.0 L336.0 209.0 L336.5 209.0 L337.0 209.1 L337.5 209.1 L338.0 209.1 L338.5 209.1 L339.0 209.1 L339.5 209.1 L340.0 209.1 L340.5 209.1 L341.0 209.1 L341.5 209.1 L342.0 209.1 L342.5 209.1 L343.0 209.1 L343.5 209.1 L344.0 209.1 L344.5 209.1 L345.0 209.1" fill="none" stroke="#111" stroke-width="0.7"/>
<path d="M321.0 208.6 L321.5 208.4 L322.0 208.0 L322.5 207.5 L323.0 206.8 L323.5 205.8 L324.0 204.5 L324.5 202.9 L325.0 200.8 L325.5 198.2 L326.0 195.0 L326.5 191.2 L327.0 186.8 L327.5 181.8 L328.0 176.2 L328.5 170.2 L329.0 163.9 L329.5 157.4 L330.0 151.1 L330.5 145.0 L331.0 139.6 L331.5 135.0 L332.0 131.4 L332.5 129.1 L333.0 128.1 L333.5 128.4 L334.0 130.0 L334.5 132.8 L335.0 136.7 L335.5 141.4 L336.0 146.7 L336.5 152.5 L337.0 158.4 L337.5 164.3 L338.0 169.9 L338.5 175.3 L339.0 180.2 L339.5 184.5 L340.0 188.4 L340.5 191.8 L341.0 194.7 L341.5 197.2 L342.0 199.2 L342.5 200.9 L343.0 202.2 L343.5 203.3 L344.0 204.2 L344.5 204.9 L345.0 205.5 L345.5 206.0 L346.0 206.4 L346.5 206.7 L347.0 207.1 L347.5 207.3 L348.0 207.6 L348.5 207.8 L349.0 208.0 L349.5 208.2 L350.0 208.4 L350.5 208.5 L351.0 208.6 L351.5 208.7 L352.0 208.8 L352.5 208.9 L353.0 208.9 L353.5 209.0 L354.0 209.0 L354.5 209.0 L355.0 209.1 L355.5 209.1 L356.0 209.1 L356.0 209.2 L321.0 209.2 Z" fill="#fff" stroke="none"/>
<path d="M321.0 208.6 L321.5 208.4 L322.0 208.0 L322.5 207.5 L323.0 206.8 L323.5 205.8 L324.0 204.5 L324.5 202.9 L325.0 200.8 L325.5 198.2 L326.0 195.0 L326.5 191.2 L327.0 186.8 L327.5 181.8 L328.0 176.2 L328.5 170.2 L329.0 163.9 L329.5 157.4 L330.0 151.1 L330.5 145.0 L331.0 139.6 L331.5 135.0 L332.0 131.4 L332.5 129.1 L333.0 128.1 L333.5 128.4 L334.0 130.0 L334.5 132.8 L335.0 136.7 L335.5 141.4 L336.0 146.7 L336.5 152.5 L337.0 158.4 L337.5 164.3 L338.0 169.9 L338.5 175.3 L339.0 180.2 L339.5 184.5 L340.0 188.4 L340.5 191.8 L341.0 194.7 L341.5 197.2 L342.0 199.2 L342.5 200.9 L343.0 202.2 L343.5 203.3 L344.0 204.2 L344.5 204.9 L345.0 205.5 L345.5 206.0 L346.0 206.4 L346.5 206.7 L347.0 207.1 L347.5 207.3 L348.0 207.6 L348.5 207.8 L349.0 208.0 L349.5 208.2 L350.0 208.4 L350.5 208.5 L351.0 208.6 L351.5 208.7 L352.0 208.8 L352.5 208.9 L353.0 208.9 L353.5 209.0 L354.0 209.0 L354.5 209.0 L355.0 209.1 L355.5 209.1 L356.0 209.1" fill="none" stroke="#111" stroke-width="0.8" stroke-linejoin="round"/>
<path d="M320.4 208.2 L320.9 207.8 L321.4 207.2 L321.9 206.5 L322.4 205.5 L322.9 204.3 L323.4 202.8 L323.9 200.9 L324.4 198.6 L324.9 195.8 L325.4 192.5 L325.9 188.7 L326.4 184.4 L326.9 179.6 L327.4 174.4 L327.9 168.8 L328.4 163.0 L328.9 157.0 L329.4 151.2 L329.9 145.6 L330.4 140.5 L330.9 135.9 L331.4 132.2 L331.9 129.4 L332.4 127.7 L332.9 127.0 L333.4 127.5 L333.9 129.1 L334.4 131.6 L334.9 135.1 L335.4 139.2 L335.9 143.9 L336.4 149.0 L336.9 154.4 L337.4 159.8 L337.9 165.1 L338.4 170.2 L338.9 175.0 L339.4 179.5 L339.9 183.6 L340.4 187.3 L340.9 190.6 L341.4 193.5 L341.9 196.0 L342.4 198.2 L342.9 199.9 L343.4 201.4 L343.9 202.7 L344.4 203.7 L344.9 204.5 L345.4 205.2 L345.9 205.8 L346.4 206.3 L346.9 206.7 L347.4 207.1 L347.9 207.4 L348.4 207.7 L348.9 207.9 L349.4 208.1 L349.9 208.3 L350.4 208.4 L350.9 208.6 L351.4 208.7 L351.9 208.8 L352.4 208.8 L352.9 208.9 L353.4 209.0 L353.9 209.0 L354.4 209.0 L354.9 209.1 L355.4 209.1 L355.9 209.1" fill="none" stroke="#111" stroke-width="0.9" stroke-dasharray="2.2 1.6" stroke-linejoin="round"/>
<path d="M405.0 209.1 L405.5 209.1 L406.0 209.1 L406.5 209.1 L407.0 209.1 L407.5 209.0 L408.0 208.9 L408.5 208.8 L409.0 208.5 L409.5 208.0 L410.0 207.3 L410.5 206.2 L411.0 204.7 L411.5 202.5 L412.0 199.6 L412.5 195.7 L413.0 190.9 L413.5 185.1 L414.0 178.4 L414.5 170.9 L415.0 163.1 L415.5 155.2 L416.0 147.8 L416.5 141.5 L417.0 136.7 L417.5 133.9 L418.0 133.2 L418.5 134.0 L419.0 136.0 L419.5 139.0 L420.0 142.9 L420.5 147.6 L421.0 152.9 L421.5 158.5 L422.0 164.2 L422.5 169.9 L423.0 175.4 L423.5 180.6 L424.0 185.4 L424.5 189.7 L425.0 193.4 L425.5 196.6 L426.0 199.4 L426.5 201.6 L427.0 203.4 L427.5 204.9 L428.0 206.0 L428.5 206.9 L429.0 207.5 L429.5 208.0 L430.0 208.4 L430.5 208.6 L431.0 208.8 L431.5 208.9 L432.0 209.0 L432.5 209.1 L433.0 209.1 L433.5 209.1 L434.0 209.1 L434.5 209.1 L435.0 209.1 L435.5 209.1 L436.0 209.1 L436.5 209.1 L437.0 209.1 L437.5 209.1 L438.0 209.1 L438.5 209.1 L439.0 209.1 L439.5 209.1 L440.0 209.1 L440.0 209.2 L405.0 209.2 Z" fill="#000" stroke="none"/>
<path d="M405.0 209.1 L405.5 209.1 L406.0 209.1 L406.5 209.1 L407.0 209.1 L407.5 209.0 L408.0 208.9 L408.5 208.8 L409.0 208.5 L409.5 208.0 L410.0 207.3 L410.5 206.2 L411.0 204.7 L411.5 202.5 L412.0 199.6 L412.5 195.7 L413.0 190.9 L413.5 185.1 L414.0 178.4 L414.5 170.9 L415.0 163.1 L415.5 155.2 L416.0 147.8 L416.5 141.5 L417.0 136.7 L417.5 133.9 L418.0 133.2 L418.5 134.0 L419.0 136.0 L419.5 139.0 L420.0 142.9 L420.5 147.6 L421.0 152.9 L421.5 158.5 L422.0 164.2 L422.5 169.9 L423.0 175.4 L423.5 180.6 L424.0 185.4 L424.5 189.7 L425.0 193.4 L425.5 196.6 L426.0 199.4 L426.5 201.6 L427.0 203.4 L427.5 204.9 L428.0 206.0 L428.5 206.9 L429.0 207.5 L429.5 208.0 L430.0 208.4 L430.5 208.6 L431.0 208.8 L431.5 208.9 L432.0 209.0 L432.5 209.1 L433.0 209.1 L433.5 209.1 L434.0 209.1 L434.5 209.1 L435.0 209.1 L435.5 209.1 L436.0 209.1 L436.5 209.1 L437.0 209.1 L437.5 209.1 L438.0 209.1 L438.5 209.1 L439.0 209.1 L439.5 209.1 L440.0 209.1" fill="none" stroke="#000" stroke-width="0.7"/>
<path d="M409.0 209.1 L409.5 209.1 L410.0 209.1 L410.5 209.0 L411.0 208.8 L411.5 208.5 L412.0 208.0 L412.5 207.2 L413.0 205.9 L413.5 204.1 L414.0 201.5 L414.5 197.9 L415.0 193.2 L415.5 187.4 L416.0 180.5 L416.5 172.7 L417.0 164.5 L417.5 156.4 L418.0 148.9 L418.5 142.7 L419.0 138.4 L419.5 136.3 L420.0 136.0 L420.5 137.2 L421.0 139.9 L421.5 143.9 L422.0 149.0 L422.5 154.7 L423.0 160.6 L423.5 166.5 L424.0 172.1 L424.5 177.2 L425.0 181.9 L425.5 185.9 L426.0 189.4 L426.5 192.4 L427.0 194.8 L427.5 196.9 L428.0 198.5 L428.5 200.0 L429.0 201.1 L429.5 202.2 L430.0 203.0 L430.5 203.8 L431.0 204.5 L431.5 205.1 L432.0 205.6 L432.5 206.1 L433.0 206.5 L433.5 206.9 L434.0 207.3 L434.5 207.5 L435.0 207.8 L435.5 208.0 L436.0 208.2 L436.5 208.4 L437.0 208.5 L437.5 208.7 L438.0 208.8 L438.5 208.8 L439.0 208.9 L439.5 209.0 L440.0 209.0 L440.5 209.0 L441.0 209.1 L441.5 209.1 L442.0 209.1 L442.5 209.1 L443.0 209.1 L443.5 209.1 L444.0 209.1 L444.5 209.1 L445.0 209.1 L445.5 209.1 L446.0 209.1 L446.5 209.1 L447.0 209.1 L447.5 209.1 L448.0 209.1 L448.0 209.2 L409.0 209.2 Z" fill="#a6a6a6" stroke="none"/>
<path d="M409.0 209.1 L409.5 209.1 L410.0 209.1 L410.5 209.0 L411.0 208.8 L411.5 208.5 L412.0 208.0 L412.5 207.2 L413.0 205.9 L413.5 204.1 L414.0 201.5 L414.5 197.9 L415.0 193.2 L415.5 187.4 L416.0 180.5 L416.5 172.7 L417.0 164.5 L417.5 156.4 L418.0 148.9 L418.5 142.7 L419.0 138.4 L419.5 136.3 L420.0 136.0 L420.5 137.2 L421.0 139.9 L421.5 143.9 L422.0 149.0 L422.5 154.7 L423.0 160.6 L423.5 166.5 L424.0 172.1 L424.5 177.2 L425.0 181.9 L425.5 185.9 L426.0 189.4 L426.5 192.4 L427.0 194.8 L427.5 196.9 L428.0 198.5 L428.5 200.0 L429.0 201.1 L429.5 202.2 L430.0 203.0 L430.5 203.8 L431.0 204.5 L431.5 205.1 L432.0 205.6 L432.5 206.1 L433.0 206.5 L433.5 206.9 L434.0 207.3 L434.5 207.5 L435.0 207.8 L435.5 208.0 L436.0 208.2 L436.5 208.4 L437.0 208.5 L437.5 208.7 L438.0 208.8 L438.5 208.8 L439.0 208.9 L439.5 209.0 L440.0 209.0 L440.5 209.0 L441.0 209.1 L441.5 209.1 L442.0 209.1 L442.5 209.1 L443.0 209.1 L443.5 209.1 L444.0 209.1 L444.5 209.1 L445.0 209.1 L445.5 209.1 L446.0 209.1 L446.5 209.1 L447.0 209.1 L447.5 209.1 L448.0 209.1" fill="none" stroke="#111" stroke-width="0.7"/>
<path d="M425.0 208.9 L425.5 208.8 L426.0 208.5 L426.5 208.2 L427.0 207.7 L427.5 206.9 L428.0 205.9 L428.5 204.5 L429.0 202.6 L429.5 200.1 L430.0 197.0 L430.5 193.1 L431.0 188.5 L431.5 183.2 L432.0 177.1 L432.5 170.5 L433.0 163.5 L433.5 156.3 L434.0 149.4 L434.5 143.0 L435.0 137.5 L435.5 133.2 L436.0 130.3 L436.5 129.0 L437.0 129.4 L437.5 131.4 L438.0 134.8 L438.5 139.4 L439.0 144.9 L439.5 151.1 L440.0 157.6 L440.5 164.1 L441.0 170.4 L441.5 176.3 L442.0 181.6 L442.5 186.3 L443.0 190.3 L443.5 193.7 L444.0 196.6 L444.5 198.9 L445.0 200.7 L445.5 202.2 L446.0 203.3 L446.5 204.2 L447.0 204.8 L447.5 205.4 L448.0 205.8 L448.5 206.2 L449.0 206.6 L449.5 206.9 L450.0 207.2 L450.5 207.4 L451.0 207.6 L451.5 207.8 L452.0 208.0 L452.5 208.2 L453.0 208.4 L453.5 208.5 L454.0 208.6 L454.5 208.7 L455.0 208.8 L455.5 208.9 L456.0 208.9 L456.5 209.0 L457.0 209.0 L457.5 209.0 L458.0 209.1 L458.5 209.1 L459.0 209.1 L459.5 209.1 L460.0 209.1 L460.0 209.2 L425.0 209.2 Z" fill="#fff" stroke="none"/>
<path d="M425.0 208.9 L425.5 208.8 L426.0 208.5 L426.5 208.2 L427.0 207.7 L427.5 206.9 L428.0 205.9 L428.5 204.5 L429.0 202.6 L429.5 200.1 L430.0 197.0 L430.5 193.1 L431.0 188.5 L431.5 183.2 L432.0 177.1 L432.5 170.5 L433.0 163.5 L433.5 156.3 L434.0 149.4 L434.5 143.0 L435.0 137.5 L435.5 133.2 L436.0 130.3 L436.5 129.0 L437.0 129.4 L437.5 131.4 L438.0 134.8 L438.5 139.4 L439.0 144.9 L439.5 151.1 L440.0 157.6 L440.5 164.1 L441.0 170.4 L441.5 176.3 L442.0 181.6 L442.5 186.3 L443.0 190.3 L443.5 193.7 L444.0 196.6 L444.5 198.9 L445.0 200.7 L445.5 202.2 L446.0 203.3 L446.5 204.2 L447.0 204.8 L447.5 205.4 L448.0 205.8 L448.5 206.2 L449.0 206.6 L449.5 206.9 L450.0 207.2 L450.5 207.4 L451.0 207.6 L451.5 207.8 L452.0 208.0 L452.5 208.2 L453.0 208.4 L453.5 208.5 L454.0 208.6 L454.5 208.7 L455.0 208.8 L455.5 208.9 L456.0 208.9 L456.5 209.0 L457.0 209.0 L457.5 209.0 L458.0 209.1 L458.5 209.1 L459.0 209.1 L459.5 209.1 L460.0 209.1" fill="none" stroke="#111" stroke-width="0.8" stroke-linejoin="round"/>
<path d="M424.4 208.6 L424.9 208.3 L425.4 207.9 L425.9 207.4 L426.4 206.6 L426.9 205.6 L427.4 204.2 L427.9 202.5 L428.4 200.3 L428.9 197.6 L429.4 194.3 L429.9 190.4 L430.4 185.9 L430.9 180.7 L431.4 175.1 L431.9 169.0 L432.4 162.6 L432.9 156.1 L433.4 149.8 L433.9 143.9 L434.4 138.6 L434.9 134.2 L435.4 130.8 L435.9 128.7 L436.4 128.0 L436.9 128.6 L437.4 130.4 L437.9 133.4 L438.4 137.4 L438.9 142.3 L439.4 147.7 L439.9 153.4 L440.4 159.3 L440.9 165.2 L441.4 170.8 L441.9 176.1 L442.4 180.9 L442.9 185.2 L443.4 189.1 L443.9 192.4 L444.4 195.3 L444.9 197.7 L445.4 199.7 L445.9 201.3 L446.4 202.6 L446.9 203.6 L447.4 204.5 L447.9 205.2 L448.4 205.7 L448.9 206.2 L449.4 206.6 L449.9 207.0 L450.4 207.3 L450.9 207.5 L451.4 207.8 L451.9 208.0 L452.4 208.2 L452.9 208.3 L453.4 208.5 L453.9 208.6 L454.4 208.7 L454.9 208.8 L455.4 208.9 L455.9 208.9 L456.4 209.0 L456.9 209.0 L457.4 209.0 L457.9 209.1 L458.4 209.1 L458.9 209.1 L459.4 209.1 L459.9 209.1" fill="none" stroke="#111" stroke-width="0.9" stroke-dasharray="2.2 1.6" stroke-linejoin="round"/>
<rect x="292.5" y="2.5" width="97.0" height="99.0" fill="none" stroke="#777" stroke-width="1"/>
<path d="M292.5 101.5 H389.5" stroke="#333" stroke-width="0.9" fill="none"/>
<path d="M292.50 101.5 v2.7M299.80 101.5 v2.0M304.07 101.5 v2.0M307.10 101.5 v2.0M309.45 101.5 v2.0M311.37 101.5 v2.0M312.99 101.5 v2.0M314.40 101.5 v2.0M315.64 101.5 v2.0M316.75 101.5 v2.7M324.05 101.5 v2.0M328.32 101.5 v2.0M331.35 101.5 v2.0M333.70 101.5 v2.0M335.62 101.5 v2.0M337.24 101.5 v2.0M338.65 101.5 v2.0M339.89 101.5 v2.0M341.00 101.5 v2.7M348.30 101.5 v2.0M352.57 101.5 v2.0M355.60 101.5 v2.0M357.95 101.5 v2.0M359.87 101.5 v2.0M361.49 101.5 v2.0M362.90 101.5 v2.0M364.14 101.5 v2.0M365.25 101.5 v2.7M372.55 101.5 v2.0M376.82 101.5 v2.0M379.85 101.5 v2.0M382.20 101.5 v2.0M384.12 101.5 v2.0M385.74 101.5 v2.0M387.15 101.5 v2.0M388.39 101.5 v2.0M389.5 101.5 v2.7" stroke="#111" stroke-width="0.9" fill="none"/>
<text x="288.6" y="109.6" font-family="Liberation Sans, sans-serif" font-size="5.3" textLength="5.0" lengthAdjust="spacingAndGlyphs" fill="#333" stroke="#333" stroke-width="0.1">10</text>
<text x="294.0" y="106.7" font-family="Liberation Sans, sans-serif" font-size="4.8" textLength="2.3" lengthAdjust="spacingAndGlyphs" fill="#333" stroke="#333" stroke-width="0.1">0</text>
<text x="312.9" y="109.6" font-family="Liberation Sans, sans-serif" font-size="5.3" textLength="5.0" lengthAdjust="spacingAndGlyphs" fill="#333" stroke="#333" stroke-width="0.1">10</text>
<text x="318.2" y="106.7" font-family="Liberation Sans, sans-serif" font-size="4.8" textLength="2.3" lengthAdjust="spacingAndGlyphs" fill="#333" stroke="#333" stroke-width="0.1">1</text>
<text x="337.1" y="109.6" font-family="Liberation Sans, sans-serif" font-size="5.3" textLength="5.0" lengthAdjust="spacingAndGlyphs" fill="#333" stroke="#333" stroke-width="0.1">10</text>
<text x="342.5" y="106.7" font-family="Liberation Sans, sans-serif" font-size="4.8" textLength="2.3" lengthAdjust="spacingAndGlyphs" fill="#333" stroke="#333" stroke-width="0.1">2</text>
<text x="361.4" y="109.6" font-family="Liberation Sans, sans-serif" font-size="5.3" textLength="5.0" lengthAdjust="spacingAndGlyphs" fill="#333" stroke="#333" stroke-width="0.1">10</text>
<text x="366.8" y="106.7" font-family="Liberation Sans, sans-serif" font-size="4.8" textLength="2.3" lengthAdjust="spacingAndGlyphs" fill="#333" stroke="#333" stroke-width="0.1">3</text>
<text x="385.6" y="109.6" font-family="Liberation Sans, sans-serif" font-size="5.3" textLength="5.0" lengthAdjust="spacingAndGlyphs" fill="#333" stroke="#333" stroke-width="0.1">10</text>
<text x="391.0" y="106.7" font-family="Liberation Sans, sans-serif" font-size="4.8" textLength="2.3" lengthAdjust="spacingAndGlyphs" fill="#333" stroke="#333" stroke-width="0.1">4</text>
<rect x="397.5" y="2.5" width="97.0" height="99.0" fill="none" stroke="#777" stroke-width="1"/>
<path d="M397.5 101.5 H494.5" stroke="#333" stroke-width="0.9" fill="none"/>
<path d="M397.50 101.5 v2.7M404.80 101.5 v2.0M409.07 101.5 v2.0M412.10 101.5 v2.0M414.45 101.5 v2.0M416.37 101.5 v2.0M417.99 101.5 v2.0M419.40 101.5 v2.0M420.64 101.5 v2.0M421.75 101.5 v2.7M429.05 101.5 v2.0M433.32 101.5 v2.0M436.35 101.5 v2.0M438.70 101.5 v2.0M440.62 101.5 v2.0M442.24 101.5 v2.0M443.65 101.5 v2.0M444.89 101.5 v2.0M446.00 101.5 v2.7M453.30 101.5 v2.0M457.57 101.5 v2.0M460.60 101.5 v2.0M462.95 101.5 v2.0M464.87 101.5 v2.0M466.49 101.5 v2.0M467.90 101.5 v2.0M469.14 101.5 v2.0M470.25 101.5 v2.7M477.55 101.5 v2.0M481.82 101.5 v2.0M484.85 101.5 v2.0M487.20 101.5 v2.0M489.12 101.5 v2.0M490.74 101.5 v2.0M492.15 101.5 v2.0M493.39 101.5 v2.0M494.5 101.5 v2.7" stroke="#111" stroke-width="0.9" fill="none"/>
<text x="393.6" y="109.6" font-family="Liberation Sans, sans-serif" font-size="5.3" textLength="5.0" lengthAdjust="spacingAndGlyphs" fill="#333" stroke="#333" stroke-width="0.1">10</text>
<text x="399.0" y="106.7" font-family="Liberation Sans, sans-serif" font-size="4.8" textLength="2.3" lengthAdjust="spacingAndGlyphs" fill="#333" stroke="#333" stroke-width="0.1">0</text>
<text x="417.9" y="109.6" font-family="Liberation Sans, sans-serif" font-size="5.3" textLength="5.0" lengthAdjust="spacingAndGlyphs" fill="#333" stroke="#333" stroke-width="0.1">10</text>
<text x="423.2" y="106.7" font-family="Liberation Sans, sans-serif" font-size="4.8" textLength="2.3" lengthAdjust="spacingAndGlyphs" fill="#333" stroke="#333" stroke-width="0.1">1</text>
<text x="442.1" y="109.6" font-family="Liberation Sans, sans-serif" font-size="5.3" textLength="5.0" lengthAdjust="spacingAndGlyphs" fill="#333" stroke="#333" stroke-width="0.1">10</text>
<text x="447.5" y="106.7" font-family="Liberation Sans, sans-serif" font-size="4.8" textLength="2.3" lengthAdjust="spacingAndGlyphs" fill="#333" stroke="#333" stroke-width="0.1">2</text>
<text x="466.4" y="109.6" font-family="Liberation Sans, sans-serif" font-size="5.3" textLength="5.0" lengthAdjust="spacingAndGlyphs" fill="#333" stroke="#333" stroke-width="0.1">10</text>
<text x="471.8" y="106.7" font-family="Liberation Sans, sans-serif" font-size="4.8" textLength="2.3" lengthAdjust="spacingAndGlyphs" fill="#333" stroke="#333" stroke-width="0.1">3</text>
<text x="490.6" y="109.6" font-family="Liberation Sans, sans-serif" font-size="5.3" textLength="5.0" lengthAdjust="spacingAndGlyphs" fill="#333" stroke="#333" stroke-width="0.1">10</text>
<text x="496.0" y="106.7" font-family="Liberation Sans, sans-serif" font-size="4.8" textLength="2.3" lengthAdjust="spacingAndGlyphs" fill="#333" stroke="#333" stroke-width="0.1">4</text>
<rect x="292.5" y="110.5" width="97.0" height="99.0" fill="none" stroke="#777" stroke-width="1"/>
<path d="M292.5 209.5 H389.5" stroke="#333" stroke-width="0.9" fill="none"/>
<path d="M292.50 209.5 v2.7M299.80 209.5 v2.0M304.07 209.5 v2.0M307.10 209.5 v2.0M309.45 209.5 v2.0M311.37 209.5 v2.0M312.99 209.5 v2.0M314.40 209.5 v2.0M315.64 209.5 v2.0M316.75 209.5 v2.7M324.05 209.5 v2.0M328.32 209.5 v2.0M331.35 209.5 v2.0M333.70 209.5 v2.0M335.62 209.5 v2.0M337.24 209.5 v2.0M338.65 209.5 v2.0M339.89 209.5 v2.0M341.00 209.5 v2.7M348.30 209.5 v2.0M352.57 209.5 v2.0M355.60 209.5 v2.0M357.95 209.5 v2.0M359.87 209.5 v2.0M361.49 209.5 v2.0M362.90 209.5 v2.0M364.14 209.5 v2.0M365.25 209.5 v2.7M372.55 209.5 v2.0M376.82 209.5 v2.0M379.85 209.5 v2.0M382.20 209.5 v2.0M384.12 209.5 v2.0M385.74 209.5 v2.0M387.15 209.5 v2.0M388.39 209.5 v2.0M389.5 209.5 v2.7" stroke="#111" stroke-width="0.9" fill="none"/>
<text x="288.6" y="217.6" font-family="Liberation Sans, sans-serif" font-size="5.3" textLength="5.0" lengthAdjust="spacingAndGlyphs" fill="#333" stroke="#333" stroke-width="0.1">10</text>
<text x="294.0" y="214.7" font-family="Liberation Sans, sans-serif" font-size="4.8" textLength="2.3" lengthAdjust="spacingAndGlyphs" fill="#333" stroke="#333" stroke-width="0.1">0</text>
<text x="312.9" y="217.6" font-family="Liberation Sans, sans-serif" font-size="5.3" textLength="5.0" lengthAdjust="spacingAndGlyphs" fill="#333" stroke="#333" stroke-width="0.1">10</text>
<text x="318.2" y="214.7" font-family="Liberation Sans, sans-serif" font-size="4.8" textLength="2.3" lengthAdjust="spacingAndGlyphs" fill="#333" stroke="#333" stroke-width="0.1">1</text>
<text x="337.1" y="217.6" font-family="Liberation Sans, sans-serif" font-size="5.3" textLength="5.0" lengthAdjust="spacingAndGlyphs" fill="#333" stroke="#333" stroke-width="0.1">10</text>
<text x="342.5" y="214.7" font-family="Liberation Sans, sans-serif" font-size="4.8" textLength="2.3" lengthAdjust="spacingAndGlyphs" fill="#333" stroke="#333" stroke-width="0.1">2</text>
<text x="361.4" y="217.6" font-family="Liberation Sans, sans-serif" font-size="5.3" textLength="5.0" lengthAdjust="spacingAndGlyphs" fill="#333" stroke="#333" stroke-width="0.1">10</text>
<text x="366.8" y="214.7" font-family="Liberation Sans, sans-serif" font-size="4.8" textLength="2.3" lengthAdjust="spacingAndGlyphs" fill="#333" stroke="#333" stroke-width="0.1">3</text>
<text x="385.6" y="217.6" font-family="Liberation Sans, sans-serif" font-size="5.3" textLength="5.0" lengthAdjust="spacingAndGlyphs" fill="#333" stroke="#333" stroke-width="0.1">10</text>
<text x="391.0" y="214.7" font-family="Liberation Sans, sans-serif" font-size="4.8" textLength="2.3" lengthAdjust="spacingAndGlyphs" fill="#333" stroke="#333" stroke-width="0.1">4</text>
<rect x="397.5" y="110.5" width="97.0" height="99.0" fill="none" stroke="#777" stroke-width="1"/>
<path d="M397.5 209.5 H494.5" stroke="#333" stroke-width="0.9" fill="none"/>
<path d="M397.50 209.5 v2.7M404.80 209.5 v2.0M409.07 209.5 v2.0M412.10 209.5 v2.0M414.45 209.5 v2.0M416.37 209.5 v2.0M417.99 209.5 v2.0M419.40 209.5 v2.0M420.64 209.5 v2.0M421.75 209.5 v2.7M429.05 209.5 v2.0M433.32 209.5 v2.0M436.35 209.5 v2.0M438.70 209.5 v2.0M440.62 209.5 v2.0M442.24 209.5 v2.0M443.65 209.5 v2.0M444.89 209.5 v2.0M446.00 209.5 v2.7M453.30 209.5 v2.0M457.57 209.5 v2.0M460.60 209.5 v2.0M462.95 209.5 v2.0M464.87 209.5 v2.0M466.49 209.5 v2.0M467.90 209.5 v2.0M469.14 209.5 v2.0M470.25 209.5 v2.7M477.55 209.5 v2.0M481.82 209.5 v2.0M484.85 209.5 v2.0M487.20 209.5 v2.0M489.12 209.5 v2.0M490.74 209.5 v2.0M492.15 209.5 v2.0M493.39 209.5 v2.0M494.5 209.5 v2.7" stroke="#111" stroke-width="0.9" fill="none"/>
<text x="393.6" y="217.6" font-family="Liberation Sans, sans-serif" font-size="5.3" textLength="5.0" lengthAdjust="spacingAndGlyphs" fill="#333" stroke="#333" stroke-width="0.1">10</text>
<text x="399.0" y="214.7" font-family="Liberation Sans, sans-serif" font-size="4.8" textLength="2.3" lengthAdjust="spacingAndGlyphs" fill="#333" stroke="#333" stroke-width="0.1">0</text>
<text x="417.9" y="217.6" font-family="Liberation Sans, sans-serif" font-size="5.3" textLength="5.0" lengthAdjust="spacingAndGlyphs" fill="#333" stroke="#333" stroke-width="0.1">10</text>
<text x="423.2" y="214.7" font-family="Liberation Sans, sans-serif" font-size="4.8" textLength="2.3" lengthAdjust="spacingAndGlyphs" fill="#333" stroke="#333" stroke-width="0.1">1</text>
<text x="442.1" y="217.6" font-family="Liberation Sans, sans-serif" font-size="5.3" textLength="5.0" lengthAdjust="spacingAndGlyphs" fill="#333" stroke="#333" stroke-width="0.1">10</text>
<text x="447.5" y="214.7" font-family="Liberation Sans, sans-serif" font-size="4.8" textLength="2.3" lengthAdjust="spacingAndGlyphs" fill="#333" stroke="#333" stroke-width="0.1">2</text>
<text x="466.4" y="217.6" font-family="Liberation Sans, sans-serif" font-size="5.3" textLength="5.0" lengthAdjust="spacingAndGlyphs" fill="#333" stroke="#333" stroke-width="0.1">10</text>
<text x="471.8" y="214.7" font-family="Liberation Sans, sans-serif" font-size="4.8" textLength="2.3" lengthAdjust="spacingAndGlyphs" fill="#333" stroke="#333" stroke-width="0.1">3</text>
<text x="490.6" y="217.6" font-family="Liberation Sans, sans-serif" font-size="5.3" textLength="5.0" lengthAdjust="spacingAndGlyphs" fill="#333" stroke="#333" stroke-width="0.1">10</text>
<text x="496.0" y="214.7" font-family="Liberation Sans, sans-serif" font-size="4.8" textLength="2.3" lengthAdjust="spacingAndGlyphs" fill="#333" stroke="#333" stroke-width="0.1">4</text>
<text x="340.8" y="12.8" font-family="Liberation Sans, sans-serif" font-size="9.5" font-weight="bold" font-style="normal" text-anchor="start" fill="#000">Wild-type</text>
<text x="452.7" y="13.2" font-family="Liberation Sans, sans-serif" font-size="9.3" font-weight="normal" font-style="italic" text-anchor="start" fill="#333">vav-bcl-2</text>
<text x="342.5" y="122.9" font-family="Liberation Sans, sans-serif" font-size="9.2" font-weight="bold" fill="#000">Casp-9<tspan font-size="9.6" letter-spacing="0.25"><tspan dy="-3.2">-</tspan><tspan dy="1.1">/</tspan><tspan dy="-1.1">-</tspan></tspan></text>
<text x="453.8" y="122.7" font-family="Liberation Sans, sans-serif" font-size="9.2" font-weight="bold" fill="#000">Apaf-1<tspan font-size="9.6" letter-spacing="0.25"><tspan dy="-3.2">-</tspan><tspan dy="1.1">/</tspan><tspan dy="-1.1">-</tspan></tspan></text>
<path d="M281.3 142 V63" stroke="#000" stroke-width="1.1" fill="none"/>
<path d="M281.3 58.4 L284.2 65 L278.4 65 Z" fill="#000"/>
<text transform="translate(275 129.6) rotate(-90)" font-family="Liberation Sans, sans-serif" font-size="10.15" font-weight="bold" fill="#000">cell number</text>
<path d="M353 224.4 H442" stroke="#000" stroke-width="1.3" fill="none"/>
<path d="M448.2 224.4 L440 221.4 L440 227.4 Z" fill="#000"/>
<text x="364.3" y="235.3" font-family="Liberation Sans, sans-serif" font-size="10.15" font-weight="bold" font-style="normal" text-anchor="start" fill="#000">cytochrome c</text>
<path d="M316.5 252.7 H340" stroke="#333" stroke-width="1" fill="none"/>
<path d="M316.6 266.6 H340" stroke="#000" stroke-width="1.2" stroke-dasharray="2.4 2.0" fill="none"/>
<rect x="317" y="277.4" width="24.6" height="10" fill="#000"/>
<rect x="316" y="295.4" width="24.4" height="10.2" fill="#cdcdcd"/>
<path d="M316 295.9 H340.4" stroke="#666" stroke-width="1.2" fill="none"/>
<text x="348.0" y="257.1" font-family="Liberation Sans, sans-serif" font-size="11.7" font-weight="normal" font-style="normal" text-anchor="start" fill="#000">+ SCF/IL-3 - Q-VD [50<tspan font-family="Liberation Serif, DejaVu Serif, serif" font-size="12">μ</tspan>M]</text>
<text x="348.0" y="271.9" font-family="Liberation Sans, sans-serif" font-size="11.7" font-weight="normal" font-style="normal" text-anchor="start" fill="#000">+ SCF/IL-3 (48h) + Q-VD [50<tspan font-family="Liberation Serif, DejaVu Serif, serif" font-size="12">μ</tspan>M]</text>
<text x="348.9" y="286.7" font-family="Liberation Sans, sans-serif" font-size="11.7" font-weight="normal" font-style="normal" text-anchor="start" fill="#000">- SCF/IL-3 (48h) - Q-VD [50<tspan font-family="Liberation Serif, DejaVu Serif, serif" font-size="12">μ</tspan>M]</text>
<text x="348.9" y="305.0" font-family="Liberation Sans, sans-serif" font-size="11.7" font-weight="normal" font-style="normal" text-anchor="start" fill="#000">- SCF/IL-3 (48h) + Q-VD [50<tspan font-family="Liberation Serif, DejaVu Serif, serif" font-size="12">μ</tspan>M]</text>
<text x="2.5" y="332.7" font-family="Liberation Sans, sans-serif" font-size="25" font-weight="bold" fill="#000">C</text>
<text x="3.6" y="351.7" font-family="Liberation Sans, sans-serif" font-size="12.2" font-weight="normal" font-style="normal" text-anchor="start" fill="#000">SCF/IL3:</text>
<text x="3.6" y="363.3" font-family="Liberation Sans, sans-serif" font-size="12.2" font-weight="normal" font-style="normal" text-anchor="start" fill="#000">Q-VD [50 <tspan dx="1.6" font-family="Liberation Serif, DejaVu Serif, serif" font-size="13">μ</tspan><tspan dx="0.6">M]</tspan><tspan dx="1.6">:</tspan></text>
<text x="131.5" y="352.0" font-family="Liberation Sans, sans-serif" font-size="11.5" font-weight="bold" font-style="normal" text-anchor="middle" fill="#000">+</text>
<text x="131.5" y="361.5" font-family="Liberation Sans, sans-serif" font-size="11.5" font-weight="bold" font-style="normal" text-anchor="middle" fill="#000">-</text>
<text x="225" y="352.0" font-family="Liberation Sans, sans-serif" font-size="11.5" font-weight="bold" font-style="normal" text-anchor="middle" fill="#000">+</text>
<text x="225" y="363.4" font-family="Liberation Sans, sans-serif" font-size="11.5" font-weight="bold" font-style="normal" text-anchor="middle" fill="#000">+</text>
<text x="316.1" y="351.2" font-family="Liberation Sans, sans-serif" font-size="11.5" font-weight="bold" font-style="normal" text-anchor="middle" fill="#000">-</text>
<text x="316.1" y="361.5" font-family="Liberation Sans, sans-serif" font-size="11.5" font-weight="bold" font-style="normal" text-anchor="middle" fill="#000">-</text>
<text x="415.2" y="351.2" font-family="Liberation Sans, sans-serif" font-size="11.5" font-weight="bold" font-style="normal" text-anchor="middle" fill="#000">-</text>
<text x="415.2" y="363.4" font-family="Liberation Sans, sans-serif" font-size="11.5" font-weight="bold" font-style="normal" text-anchor="middle" fill="#000">+</text>
<path d="M107.9 440.6h0.90M95.1 452.2h0.90M98.0 449.4h0.90M99.6 445.9h0.90M90.6 447.6h0.90M96.1 445.3h0.90M85.9 455.2h0.90M106.0 449.5h0.90M102.6 449.3h0.90M91.9 447.5h0.90M93.3 442.0h0.90M100.9 447.2h0.90M94.9 447.6h0.90M97.5 453.6h0.90M86.7 451.2h0.90M100.1 444.1h0.90M101.2 455.6h0.90M100.5 450.8h0.90M85.7 450.1h0.90M112.3 452.5h0.90M99.4 450.5h0.90M93.9 447.7h0.90M114.8 451.1h0.90M98.1 451.2h0.90M87.5 453.1h0.90M93.3 446.5h0.90M103.0 441.4h0.90M94.3 449.1h0.90M90.4 446.1h0.90M103.1 441.1h0.90M85.6 452.4h0.90M100.5 445.6h0.90M108.5 446.7h0.90M108.3 440.2h0.90M104.1 448.4h0.90M98.8 455.7h0.90M104.5 454.6h0.90M89.8 444.8h0.90M85.6 453.7h0.90M98.2 443.0h0.90M115.0 447.1h0.90M90.3 441.6h0.90M111.7 445.7h0.90M101.4 453.7h0.90M97.2 445.9h0.90M99.2 448.0h0.90M98.0 452.7h0.90M96.2 451.7h0.90M87.4 452.6h0.90M101.1 447.6h0.90M95.7 446.2h0.90M106.6 447.5h0.90M95.8 451.9h0.90M83.4 452.0h0.90M96.4 448.2h0.90M107.6 439.7h0.90M95.5 451.5h0.90M91.7 452.2h0.90M87.7 445.6h0.90M89.1 451.7h0.90M109.7 449.1h0.90M95.1 448.6h0.90M97.1 445.7h0.90M110.6 452.6h0.90M108.5 446.0h0.90M97.5 442.1h0.90M103.6 449.2h0.90M99.9 441.6h0.90M101.2 440.2h0.90M98.3 442.5h0.90M92.7 455.4h0.90M96.6 450.5h0.90M90.7 443.7h0.90M96.9 453.4h0.90M107.3 447.1h0.90M110.1 449.2h0.90M104.4 452.6h0.90M99.3 442.4h0.90M101.3 444.6h0.90M96.8 447.3h0.90M96.1 446.9h0.90M91.2 446.6h0.90M94.6 442.7h0.90M113.4 443.0h0.90M104.4 448.4h0.90M97.2 454.8h0.90M92.5 445.8h0.90M92.6 454.0h0.90M103.0 454.9h0.90M100.9 449.4h0.90M87.6 453.2h0.90M99.6 444.2h0.90M91.9 446.4h0.90M108.9 448.5h0.90M100.2 452.4h0.90M110.2 445.9h0.90M95.9 450.6h0.90M99.0 446.4h0.90M105.0 446.1h0.90M104.5 454.9h0.90M96.7 443.1h0.90M99.7 453.7h0.90M93.4 447.2h0.90M92.1 448.3h0.90M110.4 445.8h0.90M96.8 454.8h0.90M91.4 450.7h0.90M103.7 451.5h0.90M98.9 449.7h0.90M97.0 449.0h0.90M104.4 450.3h0.90M101.5 448.9h0.90M100.8 449.7h0.90M106.6 452.1h0.90M100.0 449.4h0.90M94.6 453.9h0.90M94.7 452.3h0.90M99.7 450.0h0.90M91.3 455.0h0.90M96.9 445.6h0.90M87.2 450.0h0.90M99.7 446.8h0.90M100.9 447.4h0.90M95.7 454.9h0.90M86.0 442.7h0.90M90.0 455.1h0.90M92.9 447.8h0.90M96.7 452.5h0.90M85.8 450.5h0.90M96.8 446.8h0.90M84.7 453.1h0.90M100.5 442.3h0.90M107.0 450.4h0.90M106.7 437.3h0.90M83.5 445.4h0.90M101.5 443.5h0.90M104.3 441.5h0.90M106.8 452.2h0.90M86.6 440.4h0.90M100.2 447.2h0.90M108.8 439.6h0.90M101.1 448.3h0.90M107.6 451.5h0.90M93.3 452.3h0.90M101.7 447.6h0.90M89.8 451.2h0.90M89.5 445.4h0.90M91.2 449.5h0.90M98.6 447.7h0.90M97.0 449.4h0.90M100.7 437.7h0.90M92.2 454.5h0.90M94.7 444.4h0.90M107.9 455.3h0.90M103.2 451.6h0.90M87.8 451.2h0.90M102.6 448.1h0.90M89.0 437.3h0.90M95.7 436.7h0.90M102.5 455.2h0.90M108.1 450.6h0.90M98.8 449.6h0.90M86.1 448.1h0.90M102.2 445.8h0.90M107.1 449.9h0.90M104.5 444.4h0.90M90.7 448.0h0.90M111.9 443.0h0.90M101.8 446.8h0.90M104.8 448.0h0.90M97.6 446.1h0.90M85.0 451.7h0.90M104.6 446.1h0.90M89.1 454.9h0.90M95.0 449.9h0.90M104.2 449.5h0.90M97.4 442.5h0.90M101.7 443.0h0.90M92.6 445.7h0.90M92.8 440.7h0.90M86.9 445.4h0.90M92.9 443.9h0.90M101.1 446.0h0.90M96.0 451.0h0.90M96.9 437.7h0.90M94.9 453.9h0.90M94.7 453.7h0.90M99.5 453.0h0.90M95.9 448.9h0.90M101.1 445.8h0.90M97.1 444.2h0.90M110.2 445.4h0.90M95.5 448.5h0.90M88.7 447.9h0.90M97.8 449.1h0.90M102.7 448.0h0.90M91.5 448.9h0.90M94.8 443.0h0.90M102.8 447.6h0.90M95.1 453.3h0.90M104.8 447.3h0.90M99.1 444.7h0.90M107.2 449.4h0.90M104.7 443.8h0.90M94.9 449.4h0.90M94.6 452.1h0.90M96.7 441.2h0.90M97.8 452.2h0.90M106.0 444.4h0.90M96.3 445.5h0.90M102.8 447.2h0.90M105.4 442.6h0.90M92.5 448.3h0.90M93.2 440.4h0.90M88.3 454.2h0.90M96.2 448.8h0.90M97.1 452.5h0.90M100.6 447.7h0.90M96.6 445.3h0.90M106.3 451.1h0.90M95.7 453.6h0.90M95.2 443.4h0.90M103.2 450.3h0.90M105.3 443.2h0.90M104.9 450.9h0.90M85.3 453.9h0.90M101.4 451.0h0.90M112.1 455.6h0.90M98.0 448.8h0.90M93.2 448.4h0.90M94.5 451.5h0.90M102.9 449.4h0.90M99.5 454.1h0.90M107.8 446.5h0.90M92.2 450.2h0.90M99.8 442.3h0.90M106.5 452.3h0.90M93.9 451.2h0.90M92.2 444.2h0.90M104.9 449.1h0.90M95.3 455.0h0.90M85.6 454.9h0.90M95.0 447.1h0.90M105.7 453.9h0.90M95.1 444.8h0.90M101.7 449.8h0.90M88.9 449.5h0.90M106.2 452.6h0.90M102.1 450.4h0.90M99.2 453.6h0.90M107.3 447.4h0.90M89.9 449.1h0.90M92.8 445.7h0.90M104.5 445.5h0.90M111.5 446.5h0.90M98.6 451.3h0.90M108.3 441.9h0.90M91.5 445.9h0.90M100.6 449.8h0.90M96.7 450.3h0.90M99.1 447.7h0.90M102.5 442.4h0.90M96.8 448.4h0.90M108.4 447.8h0.90M86.7 452.1h0.90M93.3 451.5h0.90M88.7 451.0h0.90M109.5 451.6h0.90M96.0 438.9h0.90M91.5 451.2h0.90M94.0 452.6h0.90M114.9 434.5h0.90M92.3 448.1h0.90M90.9 447.7h0.90M97.7 443.3h0.90M96.2 441.2h0.90M92.0 453.4h0.90M89.1 451.3h0.90M100.2 443.5h0.90M98.6 452.6h0.90M85.7 452.5h0.90M104.5 442.6h0.90M103.2 447.3h0.90M95.1 447.8h0.90M101.5 454.0h0.90M87.7 451.4h0.90M93.2 431.7h0.90M87.2 452.2h0.90M100.7 448.9h0.90M87.8 453.6h0.90M95.2 445.2h0.90M95.5 446.5h0.90M112.2 449.4h0.90M88.5 447.8h0.90M87.9 453.4h0.90M91.7 447.5h0.90M99.6 445.5h0.90M106.3 455.1h0.90M108.5 442.9h0.90M92.0 449.9h0.90M115.8 441.2h0.90M110.8 442.1h0.90M95.8 448.7h0.90M97.9 451.3h0.90M98.2 449.2h0.90M96.2 444.0h0.90M95.2 447.1h0.90M91.5 449.8h0.90M103.4 450.8h0.90M104.3 445.5h0.90M94.8 451.8h0.90M97.6 444.4h0.90M94.8 455.2h0.90M99.3 451.6h0.90M100.1 444.7h0.90M89.4 439.9h0.90M103.5 452.0h0.90M87.0 454.8h0.90M100.3 453.2h0.90M110.4 445.1h0.90M99.2 453.3h0.90M86.7 451.4h0.90M105.5 445.1h0.90M97.9 450.1h0.90M100.8 446.2h0.90M100.5 437.6h0.90M97.1 448.9h0.90M96.2 451.9h0.90M89.6 448.1h0.90M85.8 450.2h0.90M98.6 452.9h0.90M97.9 453.4h0.90M100.3 447.7h0.90M93.8 442.2h0.90M100.1 452.2h0.90M101.5 442.8h0.90M90.9 450.1h0.90M84.9 449.7h0.90M106.0 450.2h0.90M102.5 451.4h0.90M109.7 448.2h0.90M104.1 443.6h0.90M98.6 452.7h0.90M100.5 440.4h0.90M87.3 452.3h0.90M102.0 451.3h0.90M100.2 452.6h0.90M86.0 452.8h0.90M110.6 454.6h0.90M104.0 451.3h0.90M93.6 447.7h0.90M104.3 445.7h0.90M106.8 445.5h0.90M92.3 452.6h0.90M97.4 451.1h0.90M106.8 454.8h0.90M93.6 446.6h0.90M93.4 451.1h0.90M101.3 448.3h0.90M92.5 449.7h0.90M87.7 452.2h0.90M99.1 446.9h0.90M93.6 454.0h0.90M94.6 448.8h0.90M84.9 447.0h0.90M95.8 444.8h0.90M93.3 452.2h0.90M94.0 447.6h0.90M93.5 453.3h0.90M103.4 445.0h0.90M98.0 452.3h0.90M101.1 447.2h0.90M97.4 439.0h0.90M90.7 448.1h0.90M99.0 441.0h0.90M101.5 451.8h0.90M101.1 451.5h0.90M95.0 450.6h0.90M93.7 448.0h0.90M103.5 448.0h0.90M111.1 438.7h0.90M92.9 454.1h0.90M99.0 441.7h0.90M93.4 446.0h0.90M105.2 452.1h0.90M99.7 445.5h0.90M105.5 447.3h0.90M94.5 453.4h0.90M90.3 450.7h0.90M96.0 447.2h0.90M102.2 446.8h0.90M111.2 444.5h0.90M95.1 449.2h0.90M102.2 454.1h0.90M97.1 447.8h0.90M96.6 453.6h0.90M88.7 454.1h0.90M92.1 454.2h0.90M102.1 445.7h0.90M107.7 452.6h0.90M100.4 454.0h0.90M94.5 439.5h0.90M97.8 454.4h0.90M103.0 451.6h0.90M100.6 454.1h0.90M94.5 453.9h0.90M99.8 450.7h0.90M88.4 449.9h0.90M103.1 446.2h0.90M105.3 444.5h0.90M90.6 455.2h0.90M100.8 448.4h0.90M88.6 446.7h0.90M105.2 446.4h0.90M103.4 445.4h0.90M103.7 444.2h0.90M94.2 449.4h0.90M90.9 445.4h0.90M96.7 449.6h0.90M95.7 450.8h0.90M98.6 448.5h0.90M94.6 453.9h0.90M102.7 446.3h0.90M103.6 443.4h0.90M94.2 450.6h0.90M88.3 454.7h0.90M103.1 448.3h0.90M106.3 447.9h0.90M96.5 449.7h0.90M105.9 439.1h0.90M101.3 448.6h0.90M92.3 453.1h0.90M102.9 452.3h0.90M88.8 453.3h0.90M101.3 452.3h0.90M109.2 451.5h0.90M98.4 447.6h0.90M89.3 446.0h0.90M84.8 452.9h0.90M88.6 452.6h0.90M109.0 445.3h0.90M95.2 448.2h0.90M91.7 455.3h0.90M87.1 449.1h0.90M90.4 452.6h0.90M94.8 448.8h0.90M89.7 455.3h0.90M110.3 446.9h0.90M92.2 450.6h0.90M91.6 450.0h0.90M99.3 447.1h0.90M109.7 449.9h0.90M108.3 449.0h0.90M94.4 451.0h0.90M96.9 444.4h0.90M100.9 446.6h0.90M99.5 448.6h0.90M92.5 455.3h0.90M87.5 449.4h0.90M99.5 450.2h0.90M86.1 444.4h0.90M106.6 443.9h0.90M89.3 449.2h0.90M96.5 452.8h0.90M95.2 453.3h0.90M97.3 451.0h0.90M104.6 447.5h0.90M87.3 452.5h0.90M83.4 451.4h0.90M99.3 446.6h0.90M97.9 453.3h0.90M101.4 455.1h0.90M102.3 451.9h0.90M95.9 448.5h0.90M101.8 443.4h0.90M88.4 444.0h0.90M100.7 455.4h0.90M91.9 451.5h0.90M90.4 453.7h0.90M102.8 449.6h0.90M101.5 447.3h0.90M90.5 453.9h0.90M101.0 451.6h0.90M104.5 444.8h0.90M91.3 446.7h0.90M93.6 442.8h0.90M117.2 447.2h0.90M101.6 449.4h0.90M105.5 450.8h0.90M100.5 443.1h0.90M105.8 450.6h0.90M101.9 447.5h0.90M103.6 449.0h0.90M98.0 448.5h0.90M104.1 439.1h0.90M93.9 454.7h0.90M93.4 449.4h0.90M108.9 451.3h0.90M100.3 452.8h0.90M93.8 453.8h0.90M96.2 448.0h0.90M93.2 448.2h0.90M113.9 451.4h0.90M103.1 444.7h0.90M108.6 451.0h0.90M96.6 440.6h0.90M93.4 449.7h0.90M105.7 445.6h0.90M109.6 445.7h0.90M101.9 448.1h0.90M97.6 449.6h0.90M106.6 449.6h0.90M93.9 447.3h0.90M102.6 446.2h0.90M91.5 448.2h0.90M91.2 452.6h0.90M100.5 445.0h0.90M101.5 452.0h0.90M104.6 428.4h0.90M97.1 453.5h0.90M98.8 451.5h0.90M88.2 448.5h0.90M104.0 455.7h0.90M107.4 450.8h0.90M109.1 449.1h0.90M96.1 451.1h0.90M107.5 440.3h0.90M97.5 444.1h0.90M106.7 449.1h0.90M95.3 447.8h0.90M102.9 443.0h0.90M88.7 446.0h0.90M102.4 448.6h0.90M96.0 454.2h0.90M95.6 446.6h0.90M99.5 441.1h0.90M100.0 451.4h0.90M93.8 441.1h0.90M99.8 439.9h0.90M103.9 448.5h0.90M102.8 450.7h0.90M103.1 449.3h0.90M91.6 449.3h0.90M84.2 442.5h0.90M103.6 435.1h0.90M97.5 453.5h0.90M106.5 447.0h0.90M96.1 448.1h0.90M99.6 441.9h0.90M89.3 449.4h0.90M94.2 452.1h0.90M95.5 447.9h0.90M103.5 443.0h0.90M99.9 450.4h0.90M103.5 445.9h0.90M90.3 451.6h0.90M92.1 453.2h0.90M101.2 446.5h0.90M102.9 454.9h0.90M95.2 443.4h0.90M103.8 451.9h0.90M95.9 447.9h0.90M99.0 452.9h0.90M106.2 444.3h0.90M94.1 452.2h0.90M98.1 446.7h0.90M110.5 448.6h0.90M103.3 448.9h0.90M94.2 452.9h0.90M114.1 450.8h0.90M90.3 452.1h0.90M109.8 446.7h0.90M100.3 448.6h0.90M91.3 438.8h0.90M88.6 452.5h0.90M99.7 446.9h0.90M97.5 446.5h0.90M93.3 452.2h0.90M88.6 448.8h0.90M97.5 444.5h0.90M98.6 450.2h0.90M97.4 451.6h0.90M95.9 444.0h0.90M91.6 454.9h0.90M96.6 445.7h0.90M102.0 450.8h0.90M93.9 453.4h0.90M89.4 449.3h0.90M106.1 450.1h0.90M100.6 449.4h0.90M96.2 446.6h0.90M101.2 445.3h0.90M107.7 451.6h0.90M88.8 440.1h0.90M95.9 453.8h0.90M105.2 451.2h0.90M88.8 450.7h0.90M98.5 453.4h0.90M92.1 453.9h0.90M98.1 444.9h0.90M85.2 449.6h0.90M100.8 449.5h0.90M92.0 445.1h0.90M96.5 450.9h0.90M101.9 449.2h0.90M105.8 446.5h0.90M103.9 444.5h0.90M101.2 446.8h0.90M97.2 453.9h0.90M107.3 444.9h0.90M100.1 451.5h0.90M107.9 448.6h0.90M94.0 451.9h0.90M90.0 447.6h0.90M105.9 445.0h0.90M110.6 437.9h0.90M99.4 440.9h0.90M104.1 447.3h0.90M95.6 453.7h0.90M95.8 449.1h0.90M106.7 441.6h0.90M96.7 444.6h0.90M99.5 436.3h0.90M88.9 452.3h0.90M95.0 450.9h0.90M109.8 452.7h0.90M98.6 453.3h0.90M106.0 454.3h0.90M92.8 452.1h0.90M104.4 445.0h0.90M102.5 443.8h0.90M93.4 451.9h0.90M92.3 446.4h0.90M101.3 442.7h0.90M100.2 450.1h0.90M105.8 451.4h0.90M91.4 451.2h0.90M90.9 444.8h0.90M97.1 439.3h0.90M111.6 441.8h0.90M95.6 451.5h0.90M88.8 454.0h0.90M112.6 443.7h0.90M97.9 446.6h0.90M97.3 453.6h0.90M89.3 450.0h0.90M91.3 453.5h0.90M106.2 440.7h0.90M93.5 444.3h0.90M90.9 443.3h0.90M94.5 451.7h0.90M111.1 451.2h0.90M102.7 449.1h0.90M102.2 455.1h0.90M92.3 453.6h0.90M104.2 452.1h0.90M107.7 442.0h0.90M94.0 441.1h0.90M91.8 453.1h0.90M88.3 451.8h0.90M95.6 449.5h0.90M98.3 452.9h0.90M99.8 454.4h0.90M100.3 440.2h0.90M99.4 455.1h0.90M99.4 448.8h0.90M103.7 445.6h0.90M97.6 448.1h0.90M91.7 451.4h0.90M107.5 450.2h0.90M93.4 447.3h0.90M92.4 450.7h0.90M95.0 442.3h0.90M91.1 454.0h0.90M92.5 446.7h0.90M103.5 454.7h0.90M100.1 454.7h0.90M105.9 449.2h0.90M101.1 451.7h0.90M93.1 446.1h0.90M93.9 450.2h0.90M104.1 452.2h0.90M97.0 447.1h0.90M94.5 449.7h0.90M104.6 449.5h0.90M94.4 439.3h0.90M94.6 451.0h0.90M85.3 448.8h0.90M103.2 454.1h0.90M99.6 449.3h0.90M98.0 448.9h0.90M94.5 450.1h0.90M92.6 453.3h0.90M97.7 453.8h0.90M97.9 452.3h0.90M98.4 453.9h0.90M95.0 451.9h0.90M98.6 444.7h0.90M95.4 438.9h0.90M91.6 449.2h0.90M101.2 442.8h0.90M102.1 444.4h0.90M102.1 443.9h0.90M95.8 447.2h0.90M96.9 451.1h0.90M90.3 454.1h0.90M102.4 445.8h0.90M93.6 447.0h0.90M92.5 443.2h0.90M106.0 452.7h0.90M97.2 448.2h0.90M90.3 450.3h0.90M86.9 451.1h0.90M97.1 451.7h0.90M88.7 440.8h0.90M95.9 449.0h0.90M106.8 451.9h0.90M89.5 450.9h0.90M98.5 450.6h0.90M108.7 444.0h0.90M102.4 449.8h0.90M103.3 449.8h0.90M91.2 448.3h0.90M97.2 447.9h0.90M106.3 439.5h0.90M112.8 448.8h0.90M83.9 449.4h0.90M102.5 447.1h0.90M110.9 442.9h0.90M91.7 445.3h0.90M99.7 449.1h0.90M107.7 443.9h0.90M93.1 447.8h0.90M99.7 445.1h0.90M95.8 445.8h0.90M99.1 445.9h0.90M97.2 451.7h0.90M99.7 435.7h0.90M112.3 443.4h0.90M101.7 445.6h0.90M96.4 453.5h0.90M100.4 452.1h0.90M104.6 446.0h0.90M86.7 450.8h0.90M89.5 452.3h0.90M100.1 443.0h0.90M95.7 444.8h0.90M93.2 450.9h0.90M92.4 450.8h0.90M94.0 451.7h0.90M92.8 455.6h0.90M92.8 443.7h0.90M107.4 445.5h0.90M99.5 447.2h0.90M92.2 447.5h0.90M106.6 447.3h0.90M100.4 446.9h0.90M100.3 449.8h0.90M105.4 453.9h0.90M108.3 443.8h0.90M89.0 452.1h0.90M90.6 446.8h0.90M84.7 451.9h0.90M104.1 455.2h0.90M93.0 445.3h0.90M91.5 447.5h0.90M90.9 447.8h0.90M101.6 445.0h0.90M97.9 452.6h0.90M93.0 448.2h0.90M107.0 447.2h0.90M85.2 439.2h0.90M89.3 453.7h0.90M117.7 446.8h0.90M95.7 451.7h0.90M91.3 444.2h0.90M93.6 453.7h0.90M100.4 440.4h0.90M102.3 445.5h0.90M102.3 449.8h0.90M94.4 446.7h0.90M101.7 453.5h0.90M106.5 440.6h0.90M106.0 448.4h0.90M95.5 447.2h0.90M103.2 446.8h0.90M93.4 446.5h0.90M97.0 448.8h0.90M94.2 447.0h0.90M99.5 450.8h0.90M94.9 445.7h0.90M102.8 446.4h0.90M108.2 437.5h0.90M107.4 446.8h0.90M93.1 452.6h0.90M92.2 448.7h0.90M91.4 453.4h0.90M98.7 451.1h0.90M97.9 441.4h0.90M99.2 449.3h0.90M97.1 443.9h0.90M98.5 448.0h0.90M94.2 455.4h0.90M110.2 445.7h0.90M104.4 444.8h0.90M92.8 455.3h0.90M95.4 455.3h0.90M98.8 451.4h0.90M108.0 449.5h0.90M105.7 448.9h0.90M101.7 437.8h0.90M104.7 444.8h0.90M106.8 449.7h0.90M102.8 447.1h0.90M98.0 440.8h0.90M95.6 446.6h0.90M85.7 454.5h0.90M99.2 455.5h0.90M113.2 451.6h0.90M94.5 452.2h0.90M93.5 451.4h0.90M107.6 453.5h0.90M100.6 454.9h0.90M94.4 450.7h0.90M112.5 454.6h0.90M105.1 455.1h0.90M103.0 447.2h0.90M92.7 448.2h0.90M100.5 446.3h0.90M98.5 443.6h0.90M100.2 439.9h0.90M104.0 441.9h0.90M105.9 447.2h0.90M95.0 439.2h0.90M99.4 439.7h0.90M88.0 448.2h0.90M103.6 450.9h0.90M101.7 445.4h0.90M92.8 452.8h0.90M89.9 454.4h0.90M98.1 443.6h0.90M99.6 448.2h0.90M88.1 444.6h0.90M97.9 449.0h0.90M104.9 445.6h0.90M105.5 447.4h0.90M103.7 443.9h0.90M96.6 449.7h0.90M93.1 444.7h0.90M92.0 443.0h0.90M101.1 445.7h0.90M116.0 447.5h0.90M106.4 442.6h0.90M106.2 438.6h0.90M105.8 442.4h0.90M85.9 452.3h0.90M94.5 445.4h0.90M92.2 444.4h0.90M106.6 437.5h0.90M91.6 447.5h0.90M97.0 446.8h0.90M102.5 450.0h0.90M93.8 449.4h0.90M92.1 448.1h0.90M102.4 443.2h0.90M91.1 451.3h0.90M102.8 439.3h0.90M97.0 445.8h0.90M103.1 447.7h0.90M108.2 444.4h0.90M91.8 448.1h0.90M91.6 450.7h0.90M99.6 445.4h0.90M91.7 455.1h0.90M97.8 451.9h0.90M101.3 455.0h0.90M94.3 448.5h0.90M104.6 454.7h0.90M109.1 450.7h0.90M107.6 447.7h0.90M103.7 446.6h0.90M101.0 449.2h0.90M91.7 442.9h0.90M97.7 446.7h0.90M106.6 454.1h0.90M94.2 448.1h0.90M97.1 444.5h0.90M99.6 444.6h0.90M106.0 452.0h0.90M109.9 444.4h0.90M105.6 434.8h0.90M100.9 452.5h0.90M95.4 448.2h0.90M115.4 445.7h0.90M104.3 452.9h0.90M101.3 449.8h0.90M88.1 447.5h0.90M100.9 441.7h0.90M93.8 455.1h0.90M95.3 452.4h0.90M96.9 446.2h0.90M84.4 446.3h0.90M88.7 444.8h0.90M97.9 451.3h0.90M86.5 446.6h0.90M87.0 447.7h0.90M92.4 452.8h0.90M87.9 453.0h0.90M102.5 448.9h0.90M90.3 450.7h0.90M99.6 438.8h0.90M105.6 450.5h0.90M96.3 445.0h0.90M94.2 450.1h0.90M97.1 454.4h0.90M97.4 453.3h0.90M103.6 449.7h0.90M104.1 444.7h0.90M88.2 447.6h0.90M95.0 450.8h0.90M101.0 446.8h0.90M107.1 449.0h0.90M104.0 439.4h0.90M96.9 450.6h0.90M109.5 448.0h0.90M90.9 440.9h0.90M90.1 447.2h0.90M99.5 452.8h0.90M108.7 453.2h0.90M98.3 450.2h0.90M103.3 449.5h0.90M86.8 454.6h0.90M91.7 453.9h0.90M88.3 449.3h0.90M91.2 453.0h0.90M93.7 451.5h0.90M98.3 451.9h0.90M97.4 455.2h0.90M85.8 449.4h0.90M96.0 448.7h0.90M103.0 443.0h0.90M101.4 439.5h0.90M99.1 450.2h0.90M100.9 444.8h0.90M104.5 448.2h0.90M107.2 445.5h0.90M108.7 442.7h0.90M95.6 450.5h0.90M105.1 438.1h0.90M108.1 443.9h0.90M110.3 449.7h0.90M96.1 449.6h0.90M100.8 442.4h0.90M95.9 443.8h0.90M98.6 450.5h0.90M95.4 446.4h0.90M109.4 452.1h0.90M95.2 449.1h0.90M103.1 441.9h0.90M102.5 450.1h0.90M100.3 448.6h0.90M100.6 447.1h0.90M98.1 448.0h0.90M87.3 445.3h0.90M104.5 451.7h0.90M100.1 440.9h0.90M98.8 454.9h0.90M103.8 449.8h0.90M105.2 449.8h0.90M88.8 452.9h0.90M97.4 451.5h0.90M93.6 448.0h0.90M91.2 451.4h0.90M95.8 438.2h0.90M91.0 449.6h0.90M95.0 451.2h0.90M98.6 446.5h0.90M98.9 445.3h0.90M100.1 448.8h0.90M115.1 447.6h0.90M95.5 453.9h0.90M99.0 447.4h0.90M87.7 448.6h0.90M100.0 445.4h0.90M105.7 446.0h0.90M105.0 443.0h0.90M94.0 452.9h0.90M95.1 448.5h0.90M103.8 439.0h0.90M94.9 444.2h0.90M101.8 440.2h0.90M91.4 453.3h0.90M106.8 444.1h0.90M106.5 450.5h0.90M99.1 443.5h0.90M92.8 453.0h0.90M98.8 455.2h0.90M99.5 450.7h0.90M98.9 447.0h0.90M97.1 444.0h0.90M107.1 444.6h0.90M83.7 454.8h0.90M84.0 446.2h0.90M90.9 446.3h0.90M84.2 450.7h0.90M103.4 452.3h0.90M97.2 446.1h0.90M93.7 444.5h0.90M93.4 452.3h0.90M99.1 449.6h0.90M99.6 450.5h0.90M98.8 445.3h0.90M92.9 452.0h0.90M102.6 448.5h0.90M109.2 452.8h0.90M90.6 443.6h0.90M87.6 448.5h0.90M100.5 440.4h0.90M88.2 455.5h0.90M110.3 444.0h0.90M86.1 451.6h0.90M112.0 444.0h0.90M97.7 440.2h0.90M100.2 454.8h0.90M101.6 450.3h0.90M113.4 444.3h0.90M105.0 449.6h0.90M109.5 454.5h0.90M97.1 443.2h0.90M84.7 449.5h0.90M102.3 445.4h0.90M86.6 446.1h0.90M94.6 438.0h0.90M98.8 447.5h0.90M91.7 447.5h0.90M101.3 445.4h0.90M89.5 449.5h0.90M99.8 450.6h0.90M95.0 453.7h0.90M95.2 446.7h0.90M111.8 445.8h0.90M96.6 444.4h0.90M88.5 448.4h0.90M97.5 451.2h0.90M91.5 449.4h0.90M97.6 448.5h0.90M98.9 449.0h0.90M96.1 443.6h0.90M98.0 448.5h0.90M93.3 449.4h0.90M103.8 443.2h0.90M97.8 450.7h0.90M95.1 441.5h0.90M103.0 437.4h0.90M105.7 447.6h0.90M97.3 446.9h0.90M87.8 454.8h0.90M90.2 450.0h0.90M100.0 454.8h0.90M99.9 442.1h0.90M101.4 439.3h0.90M101.5 450.8h0.90M95.0 446.1h0.90M98.3 447.5h0.90M102.9 447.8h0.90M103.5 450.5h0.90M102.1 443.3h0.90M106.9 452.1h0.90M95.4 453.7h0.90M96.8 445.4h0.90M111.1 445.1h0.90M101.5 451.5h0.90M88.5 450.0h0.90M108.7 446.8h0.90M105.6 448.9h0.90M106.0 447.0h0.90M98.3 446.7h0.90M95.1 435.8h0.90M97.8 454.3h0.90M92.1 449.5h0.90M108.4 445.2h0.90M95.4 451.0h0.90M91.4 443.4h0.90M93.0 446.6h0.90M109.2 440.6h0.90M101.5 444.7h0.90M98.1 447.5h0.90M105.6 436.3h0.90M100.0 439.4h0.90M96.5 439.9h0.90M111.7 437.8h0.90M92.6 446.4h0.90M101.1 449.3h0.90M111.0 434.5h0.90M102.8 439.3h0.90M112.9 439.4h0.90M113.8 439.9h0.90M90.0 433.0h0.90M117.7 433.1h0.90M114.5 439.3h0.90M109.0 437.7h0.90M115.2 426.0h0.90M107.2 437.3h0.90M100.3 446.1h0.90M123.6 437.6h0.90M109.4 440.4h0.90M120.4 439.3h0.90M105.5 438.4h0.90M110.6 426.4h0.90M93.9 441.4h0.90M96.0 452.0h0.90M96.1 454.8h0.90M117.0 443.1h0.90M86.1 451.3h0.90M87.4 449.5h0.90M89.9 446.1h0.90M106.3 438.0h0.90M113.5 444.3h0.90M104.7 455.6h0.90M108.7 430.6h0.90M111.2 443.2h0.90M109.8 424.1h0.90M121.2 445.5h0.90M103.0 450.8h0.90M110.5 444.4h0.90M103.1 440.8h0.90M107.3 434.9h0.90M109.2 442.5h0.90M103.7 438.0h0.90M116.4 443.0h0.90M107.8 443.1h0.90M116.3 442.4h0.90M107.7 443.6h0.90M106.3 445.2h0.90M112.8 433.8h0.90M102.3 418.2h0.90M121.4 440.0h0.90M111.9 438.1h0.90M101.3 439.0h0.90M107.0 439.5h0.90M102.1 433.1h0.90M92.8 444.3h0.90M122.0 435.3h0.90M102.2 437.4h0.90M103.6 440.6h0.90M109.0 442.9h0.90M129.8 432.2h0.90M113.2 430.5h0.90M113.7 437.3h0.90M101.3 438.7h0.90M114.4 444.5h0.90M110.9 432.6h0.90M106.3 433.1h0.90M106.1 438.3h0.90M100.0 430.7h0.90M110.7 443.0h0.90M92.7 442.7h0.90M107.7 439.2h0.90M102.5 436.9h0.90M108.9 441.5h0.90M109.9 443.7h0.90M94.0 452.3h0.90M114.4 437.5h0.90M114.1 439.3h0.90M96.3 453.9h0.90M100.7 436.3h0.90M99.7 449.4h0.90M105.4 449.9h0.90M117.6 439.5h0.90M108.4 435.5h0.90M130.8 439.7h0.90M104.4 438.2h0.90M92.7 444.8h0.90M101.9 434.2h0.90M124.0 434.1h0.90M106.9 438.8h0.90M108.7 437.8h0.90M102.0 433.9h0.90M97.2 446.4h0.90M105.4 444.2h0.90M102.6 452.8h0.90M101.1 445.6h0.90M107.7 438.9h0.90M90.0 443.2h0.90M119.3 430.6h0.90M90.6 441.5h0.90M108.0 430.2h0.90M101.7 449.3h0.90M97.5 454.9h0.90M110.3 442.2h0.90M107.0 441.7h0.90M105.4 447.0h0.90M101.7 438.6h0.90M96.6 442.2h0.90M104.2 433.1h0.90M99.2 443.3h0.90M106.1 443.7h0.90M113.0 432.7h0.90M95.7 454.5h0.90M98.7 444.6h0.90M100.9 449.8h0.90M93.2 441.1h0.90M98.9 439.4h0.90M102.6 436.6h0.90M103.3 442.8h0.90M88.7 450.2h0.90M109.6 436.6h0.90M106.0 431.1h0.90M99.1 433.3h0.90M95.1 448.1h0.90M90.8 439.3h0.90M123.8 432.9h0.90M118.1 429.1h0.90M106.8 436.8h0.90M100.2 453.9h0.90M114.2 432.4h0.90M107.9 444.1h0.90M116.3 427.6h0.90M102.0 449.9h0.90M114.3 447.7h0.90M106.6 449.7h0.90M110.7 437.1h0.90M97.3 444.4h0.90M111.1 434.5h0.90M103.2 448.1h0.90M93.3 443.7h0.90M111.0 441.1h0.90M106.9 441.6h0.90M104.2 443.0h0.90M111.4 450.6h0.90M103.2 437.3h0.90M122.4 429.1h0.90M99.6 447.9h0.90M99.4 435.8h0.90M88.7 447.9h0.90M98.4 444.9h0.90" stroke="#000" stroke-width="0.9" stroke-opacity="0.6" fill="none" filter="url(#sb)"/>
<path d="M162.5 396.4h1.00M127.7 419.7h1.00M145.7 411.9h1.00M146.2 410.2h1.00M154.6 409.4h1.00M143.9 419.1h1.00M145.7 424.8h1.00M156.1 406.7h1.00M143.5 418.6h1.00M153.9 421.1h1.00M144.0 413.5h1.00M143.7 406.4h1.00M133.9 420.6h1.00M137.8 413.1h1.00M145.5 415.5h1.00M148.8 417.2h1.00M153.1 407.5h1.00M149.9 412.5h1.00M152.6 414.9h1.00M141.8 410.8h1.00M154.0 406.2h1.00M142.4 420.1h1.00M143.8 414.0h1.00M134.4 423.4h1.00M135.5 418.1h1.00M146.9 403.4h1.00M146.5 416.7h1.00M134.6 429.3h1.00M140.9 409.4h1.00M136.5 406.9h1.00M138.3 423.0h1.00M150.1 415.5h1.00M146.4 420.1h1.00M145.2 414.1h1.00M151.8 408.3h1.00M141.2 418.7h1.00M150.7 404.8h1.00M145.4 418.7h1.00M144.8 417.8h1.00M158.2 411.2h1.00M144.0 406.9h1.00M139.0 412.6h1.00M140.5 410.1h1.00M149.0 416.0h1.00M130.4 417.8h1.00M149.2 409.2h1.00M143.0 411.6h1.00M133.7 419.6h1.00M138.9 420.8h1.00M152.0 409.7h1.00M139.9 427.1h1.00M162.6 403.6h1.00M137.7 421.2h1.00M149.8 417.1h1.00M125.6 428.7h1.00M140.8 410.0h1.00M142.5 419.0h1.00M151.3 414.8h1.00M148.8 416.1h1.00M141.9 415.5h1.00M156.1 395.3h1.00M150.2 409.1h1.00M139.3 418.3h1.00M151.0 416.7h1.00M122.4 429.9h1.00M138.7 415.4h1.00M155.3 408.4h1.00M140.7 417.6h1.00M147.8 415.8h1.00M134.1 418.4h1.00M146.9 404.9h1.00M144.6 412.2h1.00M143.3 412.5h1.00M151.6 408.6h1.00M158.8 407.1h1.00M152.9 412.4h1.00M132.9 425.9h1.00M147.4 411.6h1.00M146.7 412.8h1.00M133.3 417.4h1.00M130.5 421.1h1.00M137.4 411.4h1.00M140.2 413.3h1.00M144.8 415.6h1.00M138.9 418.3h1.00M150.4 419.3h1.00M142.1 406.6h1.00M144.1 418.2h1.00M148.6 413.6h1.00M135.1 411.3h1.00M135.9 427.5h1.00M146.3 416.7h1.00M151.4 409.5h1.00M166.4 400.7h1.00M128.4 426.5h1.00M140.1 416.5h1.00M136.2 417.2h1.00M146.9 413.2h1.00M136.1 417.0h1.00M146.5 414.9h1.00M150.3 406.4h1.00M135.7 414.5h1.00M148.9 421.1h1.00M157.3 405.7h1.00M150.7 408.6h1.00M137.8 430.7h1.00M168.7 413.3h1.00M138.6 417.2h1.00M148.7 414.9h1.00M139.3 413.9h1.00M141.3 417.0h1.00M139.5 418.4h1.00M150.3 412.0h1.00M138.6 418.5h1.00M137.8 425.0h1.00M141.8 419.5h1.00M142.4 411.5h1.00M130.4 427.0h1.00M149.2 407.9h1.00M139.3 418.6h1.00M129.7 428.9h1.00M125.0 429.5h1.00M137.6 426.1h1.00M122.2 422.7h1.00M136.4 430.5h1.00M120.5 430.0h1.00M136.0 431.3h1.00M132.9 424.4h1.00M124.9 424.7h1.00M124.9 438.4h1.00M126.7 421.1h1.00M135.0 431.8h1.00M130.8 433.4h1.00M127.1 429.0h1.00M140.2 429.6h1.00M128.9 424.3h1.00M128.2 427.4h1.00M143.8 436.8h1.00M135.4 434.3h1.00M129.5 433.6h1.00M136.2 423.3h1.00M132.4 433.9h1.00M139.3 428.0h1.00M126.4 427.8h1.00M136.4 431.2h1.00M138.7 422.5h1.00M138.1 432.4h1.00M132.5 422.1h1.00M131.2 420.5h1.00M140.0 430.0h1.00M113.9 446.2h1.00M117.9 448.9h1.00M133.6 445.0h1.00M134.1 443.6h1.00M119.9 437.9h1.00M122.3 441.9h1.00M127.1 450.8h1.00M134.2 454.2h1.00M126.6 437.4h1.00M121.8 448.2h1.00M129.6 446.4h1.00M128.3 443.8h1.00M130.8 448.7h1.00M112.8 417.4h1.00M102.6 383.3h1.00M109.1 424.1h1.00M100.7 383.2h1.00M85.1 394.3h1.00M113.0 417.6h1.00M115.3 417.4h1.00M119.4 422.4h1.00M110.7 386.2h1.00M110.9 385.5h1.00M118.4 429.7h1.00M92.1 411.9h1.00M99.5 427.8h1.00M114.0 405.5h1.00M111.5 405.0h1.00M89.1 389.1h1.00M88.3 394.9h1.00M99.6 407.4h1.00M110.2 426.1h1.00M114.3 425.7h1.00M104.4 390.2h1.00M101.6 397.5h1.00" stroke="#000" stroke-width="1.0" stroke-opacity="0.42" fill="none" filter="url(#sb)"/>
<path d="M199.9 442.6h0.90M191.7 449.6h0.90M185.0 450.2h0.90M193.2 446.1h0.90M191.0 450.3h0.90M185.8 448.7h0.90M196.5 447.9h0.90M194.8 450.3h0.90M190.0 455.4h0.90M191.4 444.4h0.90M190.2 454.4h0.90M209.2 438.6h0.90M190.0 450.1h0.90M194.2 440.0h0.90M186.6 450.4h0.90M184.7 450.7h0.90M193.4 452.7h0.90M189.4 447.8h0.90M188.9 446.6h0.90M192.4 448.8h0.90M196.9 442.8h0.90M206.8 446.9h0.90M206.0 443.3h0.90M192.0 446.5h0.90M204.9 444.2h0.90M201.3 438.4h0.90M187.0 447.6h0.90M190.2 452.2h0.90M193.2 452.4h0.90M205.1 442.6h0.90M192.5 451.7h0.90M191.3 450.7h0.90M203.3 448.8h0.90M189.5 445.8h0.90M190.8 448.2h0.90M195.5 445.4h0.90M191.7 444.6h0.90M183.7 451.9h0.90M197.1 447.3h0.90M181.3 449.9h0.90M199.2 442.8h0.90M190.6 446.5h0.90M191.3 442.5h0.90M197.2 455.2h0.90M185.1 445.6h0.90M182.4 445.7h0.90M195.0 451.0h0.90M200.0 439.4h0.90M188.9 445.6h0.90M194.9 453.8h0.90M188.9 448.2h0.90M190.5 449.4h0.90M187.5 441.7h0.90M194.9 444.2h0.90M199.6 440.7h0.90M193.1 451.1h0.90M196.8 452.2h0.90M182.8 455.5h0.90M193.5 441.0h0.90M188.9 440.9h0.90M194.5 448.0h0.90M196.4 440.3h0.90M197.3 452.2h0.90M191.0 444.6h0.90M201.1 438.2h0.90M193.4 454.3h0.90M191.6 452.8h0.90M191.0 445.4h0.90M190.4 442.6h0.90M187.4 453.0h0.90M197.8 450.9h0.90M194.3 445.8h0.90M186.4 444.8h0.90M201.6 448.0h0.90M198.8 439.8h0.90M197.9 444.9h0.90M200.3 448.7h0.90M204.3 443.0h0.90M193.8 445.3h0.90M201.5 439.3h0.90M191.1 447.4h0.90M187.0 450.8h0.90M195.8 454.9h0.90M189.7 446.9h0.90M195.1 444.6h0.90M204.5 441.9h0.90M195.6 446.8h0.90M199.6 444.5h0.90M205.3 438.0h0.90M205.5 444.3h0.90M195.7 452.6h0.90M186.9 446.4h0.90M207.7 443.3h0.90M186.4 452.3h0.90M180.2 451.7h0.90M180.2 454.9h0.90M200.9 444.9h0.90M189.0 443.5h0.90M194.6 453.8h0.90M199.3 438.9h0.90M194.7 450.7h0.90M195.8 448.8h0.90M200.8 440.3h0.90M191.1 447.9h0.90M195.7 449.1h0.90M193.5 453.9h0.90M198.6 440.8h0.90M199.3 445.1h0.90M189.8 447.5h0.90M197.1 447.1h0.90M184.2 454.4h0.90M192.4 445.1h0.90M186.7 449.4h0.90M188.3 444.6h0.90M199.5 444.2h0.90M210.0 447.3h0.90M193.2 444.3h0.90M192.2 448.2h0.90M191.4 449.9h0.90M193.6 452.0h0.90M199.4 444.4h0.90M204.6 445.9h0.90M196.9 445.1h0.90M189.6 446.7h0.90M198.3 445.8h0.90M190.3 453.8h0.90M180.8 451.4h0.90M200.2 443.1h0.90M206.5 443.3h0.90M205.5 451.6h0.90M193.1 454.0h0.90M188.8 451.2h0.90M200.6 453.4h0.90M190.9 449.9h0.90M202.4 443.7h0.90M186.7 447.8h0.90M195.7 444.8h0.90M194.0 445.8h0.90M196.3 450.3h0.90M193.6 450.8h0.90M192.5 441.7h0.90M193.2 455.3h0.90M182.8 448.3h0.90M192.6 455.5h0.90M195.3 446.6h0.90M201.1 448.5h0.90M195.8 448.1h0.90M197.7 451.6h0.90M191.7 448.1h0.90M192.9 444.1h0.90M192.6 445.7h0.90M198.4 444.0h0.90M188.2 446.5h0.90M201.8 455.2h0.90M181.4 449.0h0.90M195.5 452.7h0.90M192.3 449.7h0.90M197.0 448.6h0.90M195.9 451.8h0.90M209.5 445.0h0.90M183.1 451.8h0.90M187.3 447.3h0.90M194.2 449.1h0.90M187.4 447.0h0.90M188.3 449.6h0.90M180.5 448.3h0.90M187.0 450.2h0.90M203.3 443.9h0.90M187.4 450.1h0.90M210.9 438.6h0.90M198.8 441.8h0.90M190.9 448.5h0.90M197.6 443.7h0.90M200.4 446.3h0.90M185.3 452.4h0.90M183.3 455.6h0.90M201.0 439.5h0.90M185.3 447.9h0.90M196.6 440.5h0.90M198.5 448.0h0.90M182.2 453.9h0.90M193.0 436.4h0.90M195.0 442.2h0.90M204.3 450.2h0.90M191.6 445.4h0.90M195.5 445.5h0.90M196.2 448.4h0.90M192.0 450.0h0.90M205.6 446.7h0.90M200.5 447.4h0.90M204.8 446.7h0.90M197.6 451.8h0.90M201.6 446.3h0.90M188.3 454.6h0.90M187.7 447.2h0.90M198.0 441.1h0.90M191.9 449.5h0.90M191.1 450.7h0.90M193.0 445.2h0.90M182.7 453.4h0.90M190.6 439.6h0.90M204.0 441.1h0.90M194.6 443.8h0.90M187.1 453.2h0.90M189.1 449.9h0.90M182.8 454.2h0.90M180.5 451.4h0.90M191.9 438.0h0.90M196.1 441.7h0.90M192.9 449.8h0.90M199.0 443.1h0.90M196.9 446.6h0.90M184.5 449.7h0.90M186.6 448.8h0.90M193.6 444.2h0.90M199.4 450.1h0.90M199.2 442.5h0.90M185.0 454.9h0.90M180.6 455.1h0.90M205.2 438.9h0.90M192.0 450.7h0.90M199.3 443.9h0.90M192.8 446.7h0.90M183.7 451.8h0.90M204.7 448.8h0.90M195.4 444.7h0.90M202.7 442.9h0.90M193.2 437.3h0.90M188.4 455.2h0.90M191.0 443.9h0.90M200.6 446.8h0.90M189.1 451.3h0.90M191.4 440.6h0.90M201.2 445.1h0.90M183.5 448.5h0.90M190.5 448.6h0.90M196.0 451.1h0.90M200.0 446.0h0.90M193.4 450.0h0.90M188.8 451.0h0.90M193.7 438.8h0.90M188.3 447.9h0.90M199.2 453.7h0.90M192.3 439.3h0.90M191.3 447.0h0.90M197.4 441.8h0.90M198.4 438.1h0.90M186.0 455.1h0.90M196.2 445.0h0.90M192.4 449.0h0.90M191.9 450.2h0.90M194.4 448.9h0.90M201.0 444.0h0.90M190.2 443.6h0.90M189.8 445.7h0.90M184.4 450.5h0.90M190.1 443.5h0.90M186.9 450.6h0.90M190.7 447.3h0.90M196.0 445.2h0.90M200.1 438.0h0.90M191.2 448.0h0.90M204.3 436.4h0.90M200.4 445.5h0.90M198.0 442.4h0.90M197.2 445.6h0.90M194.6 448.5h0.90M188.4 447.5h0.90M192.0 445.6h0.90M195.5 451.1h0.90M192.9 443.4h0.90M204.3 444.2h0.90M206.8 441.3h0.90M200.4 444.8h0.90M178.9 450.1h0.90M194.4 451.1h0.90M196.1 448.7h0.90M203.4 444.2h0.90M212.2 445.8h0.90M195.5 446.7h0.90M204.6 448.7h0.90M201.6 445.2h0.90M193.7 443.5h0.90M197.0 440.0h0.90M193.8 440.7h0.90M204.6 443.9h0.90M188.5 454.6h0.90M191.9 440.9h0.90M201.6 448.4h0.90M198.4 439.0h0.90M190.3 449.8h0.90M189.4 449.3h0.90M195.1 438.0h0.90M187.6 446.9h0.90M184.8 446.5h0.90M199.5 443.2h0.90M201.1 449.5h0.90M195.3 448.8h0.90M203.2 447.3h0.90M184.3 448.1h0.90M188.3 443.0h0.90M196.2 454.7h0.90M209.2 445.9h0.90M193.9 448.1h0.90M200.3 445.7h0.90M192.1 434.2h0.90M183.3 448.9h0.90M193.3 446.1h0.90M186.6 449.4h0.90M198.0 451.4h0.90M199.9 442.4h0.90M196.6 445.0h0.90M191.7 448.4h0.90M198.0 443.7h0.90M187.6 453.2h0.90M195.7 445.9h0.90M192.0 444.9h0.90M192.6 449.1h0.90M190.2 437.0h0.90M190.0 448.8h0.90M196.1 439.2h0.90M204.3 448.4h0.90M197.0 446.4h0.90M193.0 441.8h0.90M183.7 442.7h0.90M191.9 450.4h0.90M189.5 448.5h0.90M198.0 444.7h0.90M199.3 448.4h0.90M202.5 446.2h0.90M194.5 448.0h0.90M180.5 453.9h0.90M185.5 446.2h0.90M195.2 444.7h0.90M183.1 450.6h0.90M190.0 442.7h0.90M194.9 449.0h0.90M190.5 451.0h0.90M192.3 447.8h0.90M209.9 443.2h0.90M194.7 450.2h0.90M208.1 444.6h0.90M196.5 449.7h0.90M190.9 454.0h0.90M198.5 448.5h0.90M192.4 452.1h0.90M194.6 450.9h0.90M194.3 442.9h0.90M189.2 448.2h0.90M201.3 444.6h0.90M196.3 451.8h0.90M190.0 446.3h0.90M187.1 451.9h0.90M194.0 448.2h0.90M191.0 448.6h0.90M188.7 450.6h0.90M204.2 438.3h0.90M194.1 451.4h0.90M200.7 447.8h0.90M203.1 442.9h0.90M196.6 447.5h0.90M196.8 443.8h0.90M195.3 442.6h0.90M197.5 439.4h0.90M195.7 442.3h0.90M197.4 447.5h0.90M194.8 448.1h0.90M191.0 450.7h0.90M188.6 444.5h0.90M189.7 450.6h0.90M196.3 450.7h0.90M204.1 448.2h0.90M185.9 447.6h0.90M191.1 453.1h0.90M191.9 445.1h0.90M199.7 443.5h0.90M189.9 445.7h0.90M193.8 442.9h0.90M191.8 446.7h0.90M196.6 446.2h0.90M190.8 452.8h0.90M200.0 454.3h0.90M192.1 446.6h0.90M204.0 439.2h0.90M189.6 449.4h0.90M193.8 451.3h0.90M189.8 446.3h0.90M194.2 447.6h0.90M181.5 453.1h0.90M203.1 445.3h0.90M199.8 450.6h0.90M193.8 452.5h0.90M190.4 447.3h0.90M194.0 439.7h0.90M192.7 439.6h0.90M191.0 449.7h0.90M191.6 446.4h0.90M195.9 447.1h0.90M190.4 448.4h0.90M190.6 447.1h0.90M189.1 445.4h0.90M193.1 453.4h0.90M181.8 444.4h0.90M187.5 451.0h0.90M197.7 450.6h0.90M194.5 436.1h0.90M194.7 451.5h0.90M185.0 455.0h0.90M194.1 441.8h0.90M209.4 453.6h0.90M200.8 442.8h0.90M195.0 454.7h0.90M188.4 442.5h0.90M186.9 440.6h0.90M203.4 439.2h0.90M196.4 450.2h0.90M185.4 445.7h0.90M195.8 436.1h0.90M198.5 444.3h0.90M180.9 455.1h0.90M186.7 443.7h0.90M202.5 450.1h0.90M200.0 446.2h0.90M185.4 451.6h0.90M193.3 447.2h0.90M197.3 440.7h0.90M196.1 447.3h0.90M188.6 455.2h0.90M194.8 453.9h0.90M198.2 446.4h0.90M196.0 444.4h0.90M185.5 446.7h0.90M207.9 438.4h0.90M197.5 452.6h0.90M182.7 449.8h0.90M192.6 451.3h0.90M189.6 450.9h0.90M193.8 448.9h0.90M210.4 442.9h0.90M193.1 443.2h0.90M196.2 447.0h0.90M193.7 434.4h0.90M192.9 442.4h0.90M191.8 454.1h0.90M202.6 443.8h0.90M195.2 441.9h0.90M202.4 439.9h0.90M199.3 442.2h0.90M187.1 449.4h0.90M193.4 455.2h0.90M193.7 454.8h0.90M189.7 445.5h0.90M197.8 448.8h0.90M192.5 448.0h0.90M187.4 447.4h0.90M206.7 450.9h0.90M206.0 451.2h0.90M193.0 445.3h0.90M187.8 453.0h0.90M190.3 450.8h0.90M186.8 445.2h0.90M188.4 451.3h0.90M187.5 450.7h0.90M194.8 445.7h0.90M198.8 453.7h0.90M193.5 439.4h0.90M186.9 448.7h0.90M196.7 448.9h0.90M204.7 437.3h0.90M197.0 450.7h0.90M192.5 451.5h0.90M213.8 444.6h0.90M196.2 447.6h0.90M191.0 452.4h0.90M199.1 444.0h0.90M190.3 452.4h0.90M191.0 447.6h0.90M199.6 442.9h0.90M189.1 447.8h0.90M183.5 450.4h0.90M198.3 445.2h0.90M200.8 448.5h0.90M190.9 447.2h0.90M203.4 450.1h0.90M194.9 445.5h0.90M199.4 445.4h0.90M193.2 448.2h0.90M189.7 449.4h0.90M189.2 446.9h0.90M193.6 452.4h0.90M194.5 445.8h0.90M180.0 450.0h0.90M192.0 443.1h0.90M198.8 446.8h0.90M189.8 449.8h0.90M190.6 440.0h0.90M186.0 448.7h0.90M184.5 450.6h0.90M193.2 443.1h0.90M195.1 451.3h0.90M190.9 449.6h0.90M184.7 449.6h0.90M194.5 447.6h0.90M190.8 441.7h0.90M191.5 446.6h0.90M191.6 444.4h0.90M193.0 452.0h0.90M197.3 446.1h0.90M196.5 446.6h0.90M204.6 440.4h0.90M202.2 441.6h0.90M193.6 447.7h0.90M184.8 448.8h0.90M194.2 437.4h0.90M189.9 449.2h0.90M204.9 445.8h0.90M182.0 447.1h0.90M188.4 442.9h0.90M203.4 442.4h0.90M192.1 443.8h0.90M202.1 453.7h0.90M197.2 443.8h0.90M190.9 449.8h0.90M195.3 436.4h0.90M187.7 449.2h0.90M188.4 441.2h0.90M207.8 442.2h0.90M193.0 449.3h0.90M197.1 448.7h0.90M188.9 455.4h0.90M203.4 446.0h0.90M185.8 445.9h0.90M189.6 449.0h0.90M185.6 445.9h0.90M184.0 450.7h0.90M190.8 446.4h0.90M189.9 447.7h0.90M192.1 445.9h0.90M185.1 444.2h0.90M190.9 447.1h0.90M194.6 449.9h0.90M188.1 451.5h0.90M193.6 448.3h0.90M190.8 445.6h0.90M202.5 449.3h0.90M199.9 450.8h0.90M199.1 451.4h0.90M198.5 441.2h0.90M191.1 453.1h0.90M202.1 443.2h0.90M196.8 451.7h0.90M190.5 449.3h0.90M197.0 448.5h0.90M187.9 453.7h0.90M203.0 438.0h0.90M195.0 446.5h0.90M182.0 441.3h0.90M191.9 452.8h0.90M192.0 453.9h0.90M199.4 453.0h0.90M196.4 438.6h0.90M199.8 443.9h0.90M196.4 444.7h0.90M185.5 445.9h0.90M200.5 443.9h0.90M200.2 441.2h0.90M189.4 448.2h0.90M189.8 445.4h0.90M188.1 449.0h0.90M199.9 444.0h0.90M193.9 440.6h0.90M192.8 445.1h0.90M185.1 450.0h0.90M189.0 453.8h0.90M189.3 452.7h0.90M187.6 450.3h0.90M179.0 452.2h0.90M183.2 451.4h0.90M190.9 449.5h0.90M194.9 445.3h0.90M189.3 447.7h0.90M190.3 444.7h0.90M196.0 454.9h0.90M191.1 443.7h0.90M197.6 436.3h0.90M186.1 445.4h0.90M195.4 448.7h0.90M186.4 455.0h0.90M201.1 444.5h0.90M195.7 440.1h0.90M199.3 443.7h0.90M197.6 455.3h0.90M184.7 450.5h0.90M191.2 437.2h0.90M205.0 450.1h0.90M204.7 442.6h0.90M187.5 448.8h0.90M195.0 442.8h0.90M192.2 447.8h0.90M199.9 448.0h0.90M190.8 445.0h0.90M204.5 441.0h0.90M191.7 443.2h0.90M199.9 450.8h0.90M191.5 454.0h0.90M191.5 452.1h0.90M191.7 450.8h0.90M198.0 449.2h0.90M206.5 448.0h0.90M194.8 450.1h0.90M187.8 445.7h0.90M185.5 453.8h0.90M198.9 451.5h0.90M193.4 447.1h0.90M190.5 447.5h0.90M200.3 446.6h0.90M193.4 439.6h0.90M188.9 447.4h0.90M199.8 448.8h0.90M194.5 443.2h0.90M189.7 449.0h0.90M193.6 444.7h0.90M211.2 454.8h0.90M187.2 452.9h0.90M201.0 446.7h0.90M190.3 443.1h0.90M199.6 450.4h0.90M195.5 445.3h0.90M195.7 447.8h0.90M195.0 453.9h0.90M194.6 450.2h0.90M197.0 443.8h0.90M196.9 447.4h0.90M184.4 452.8h0.90M196.7 446.9h0.90M201.9 443.8h0.90M198.8 444.1h0.90M195.1 447.6h0.90M197.8 447.1h0.90M197.7 445.7h0.90M200.2 437.1h0.90M189.2 454.7h0.90M189.3 442.4h0.90M191.1 451.7h0.90M189.0 442.3h0.90M191.0 450.5h0.90M193.7 454.9h0.90M204.7 445.2h0.90M188.6 447.9h0.90M192.0 452.4h0.90M200.4 443.8h0.90M191.3 453.0h0.90M198.5 438.1h0.90M197.5 449.1h0.90M185.9 442.0h0.90M185.7 442.9h0.90M196.0 451.3h0.90M191.3 446.5h0.90M195.0 449.6h0.90M187.1 443.8h0.90M196.8 445.0h0.90M185.9 442.7h0.90M190.8 450.1h0.90M192.8 449.8h0.90M186.7 454.8h0.90M191.2 448.5h0.90M191.4 447.0h0.90M183.9 452.0h0.90M181.3 452.1h0.90M200.2 441.4h0.90M191.9 449.1h0.90M193.7 451.1h0.90M191.1 453.9h0.90M204.8 445.7h0.90M192.7 450.0h0.90M180.0 449.2h0.90M195.0 443.0h0.90M188.4 453.8h0.90M195.2 444.4h0.90M194.2 452.0h0.90M200.3 441.0h0.90M199.5 453.1h0.90M189.2 445.2h0.90M203.1 444.6h0.90M210.9 439.1h0.90M190.2 450.0h0.90M202.5 449.0h0.90M195.7 446.4h0.90M196.4 446.6h0.90M184.1 448.5h0.90M186.0 448.3h0.90M200.6 438.9h0.90M193.5 445.3h0.90M192.1 454.1h0.90M203.9 439.6h0.90M203.7 449.2h0.90M199.6 448.6h0.90M187.0 450.5h0.90M195.0 451.3h0.90M203.9 445.2h0.90M178.4 449.8h0.90M184.2 455.0h0.90M189.9 453.8h0.90M202.3 450.2h0.90M190.0 435.9h0.90M197.5 448.3h0.90M194.8 447.2h0.90M194.2 447.4h0.90M199.5 439.9h0.90M218.3 439.6h0.90M198.3 450.1h0.90M202.9 445.6h0.90M192.1 452.3h0.90M206.7 448.9h0.90M197.6 455.1h0.90M194.7 447.2h0.90M191.3 450.9h0.90M186.1 444.5h0.90M191.0 451.5h0.90M187.8 452.1h0.90M182.9 446.8h0.90M208.8 449.2h0.90M195.2 443.4h0.90M201.6 448.3h0.90M199.0 450.9h0.90M183.6 450.5h0.90M193.6 447.3h0.90M189.8 455.0h0.90M187.9 449.2h0.90M190.1 442.0h0.90M193.3 444.1h0.90M194.0 447.1h0.90M195.5 449.7h0.90M191.9 449.0h0.90M193.0 445.8h0.90M202.3 445.0h0.90M207.3 439.6h0.90M199.3 440.6h0.90M194.8 454.4h0.90M195.9 446.0h0.90M199.1 443.0h0.90M200.8 445.9h0.90M202.9 446.8h0.90M199.2 438.1h0.90M196.5 447.0h0.90M191.9 449.0h0.90M184.4 454.5h0.90M201.2 445.9h0.90M198.2 447.2h0.90M188.1 450.8h0.90M196.4 453.8h0.90M193.8 455.5h0.90M191.8 451.6h0.90M205.8 444.1h0.90M192.2 451.2h0.90M208.4 437.8h0.90M192.8 448.4h0.90M187.5 447.1h0.90M194.0 446.6h0.90M213.6 449.7h0.90M191.7 446.4h0.90M194.4 440.6h0.90M197.6 446.4h0.90M192.3 447.3h0.90M204.4 448.0h0.90M195.0 455.6h0.90M197.9 444.9h0.90M190.6 445.2h0.90M191.8 450.0h0.90M195.7 447.8h0.90M202.0 447.4h0.90M191.3 441.2h0.90M192.7 446.4h0.90M187.8 452.1h0.90M182.8 454.1h0.90M194.1 447.0h0.90M190.4 444.1h0.90M196.3 449.3h0.90M202.0 448.4h0.90M198.4 444.2h0.90M187.9 451.0h0.90M197.8 453.0h0.90M195.6 447.6h0.90M192.4 449.9h0.90M187.9 449.7h0.90M192.5 447.3h0.90M195.5 439.0h0.90M190.3 446.4h0.90M182.7 448.7h0.90M203.3 445.7h0.90M193.2 448.1h0.90M191.6 452.0h0.90M198.2 449.2h0.90M196.6 442.6h0.90M189.1 439.5h0.90M188.3 446.9h0.90M188.9 448.0h0.90M197.8 443.5h0.90M191.1 445.2h0.90M196.9 446.8h0.90M180.8 453.9h0.90M189.0 447.0h0.90M188.0 442.7h0.90M190.1 449.1h0.90M189.0 446.2h0.90M203.5 442.5h0.90M196.8 450.2h0.90M191.3 452.9h0.90M185.7 455.1h0.90M195.3 448.2h0.90M187.2 448.3h0.90M190.8 449.4h0.90M201.0 449.3h0.90M200.4 446.9h0.90M197.4 446.0h0.90M181.3 450.6h0.90M189.1 448.6h0.90M199.7 441.1h0.90M201.3 443.5h0.90M192.6 446.9h0.90M201.3 449.0h0.90M190.2 448.4h0.90M186.4 453.5h0.90M205.3 448.8h0.90M190.2 446.8h0.90M184.1 449.3h0.90M196.8 441.2h0.90M181.6 449.6h0.90M191.3 446.5h0.90M197.4 451.2h0.90M195.6 447.9h0.90M196.6 447.8h0.90M189.1 440.2h0.90M197.2 452.4h0.90M194.7 452.1h0.90M190.1 444.6h0.90M197.6 449.1h0.90M197.0 442.8h0.90M195.6 449.4h0.90M201.4 439.4h0.90M210.6 447.6h0.90M195.9 448.9h0.90M189.8 446.6h0.90M185.0 452.7h0.90M198.7 449.8h0.90M178.8 447.5h0.90M207.0 448.6h0.90M201.3 448.5h0.90M187.7 445.0h0.90M194.7 439.1h0.90M187.4 450.6h0.90M200.6 450.8h0.90M188.0 454.4h0.90M195.0 447.6h0.90M190.0 443.0h0.90M202.0 439.7h0.90M193.6 443.2h0.90M204.6 445.3h0.90M197.7 442.4h0.90M186.7 447.1h0.90M183.9 448.1h0.90M179.2 454.3h0.90M194.1 449.5h0.90M184.9 444.1h0.90M188.4 448.4h0.90M195.9 441.5h0.90M184.6 444.5h0.90M186.3 442.6h0.90M190.0 449.2h0.90M192.7 442.1h0.90M193.2 450.0h0.90M185.6 449.6h0.90M201.4 444.9h0.90M197.6 445.1h0.90M196.0 446.8h0.90M187.0 449.4h0.90M188.8 444.5h0.90M184.9 452.9h0.90M182.1 455.0h0.90M189.0 447.2h0.90M187.2 445.5h0.90M185.5 453.4h0.90M182.5 446.2h0.90M194.2 443.9h0.90M190.6 450.9h0.90M182.6 452.8h0.90M208.0 445.1h0.90M180.2 450.4h0.90M194.3 447.0h0.90M182.8 443.1h0.90M195.6 452.6h0.90M200.7 447.0h0.90M191.6 446.1h0.90M188.6 451.7h0.90M203.9 446.6h0.90M191.9 446.5h0.90M192.4 450.3h0.90M191.6 447.5h0.90M186.6 446.6h0.90M193.6 443.1h0.90M206.9 449.2h0.90M204.3 446.5h0.90M194.2 445.4h0.90M197.6 446.8h0.90M199.4 448.8h0.90M187.7 447.5h0.90M202.8 443.2h0.90M193.9 445.5h0.90M179.3 449.8h0.90M197.8 447.6h0.90M185.1 446.7h0.90M194.7 446.4h0.90M197.0 444.9h0.90M189.1 444.9h0.90M197.6 453.5h0.90M204.9 450.5h0.90M178.9 450.2h0.90M191.9 447.9h0.90M192.3 450.9h0.90M208.6 445.9h0.90M202.6 451.8h0.90M196.0 445.3h0.90M192.3 448.4h0.90M179.4 452.2h0.90M182.5 448.4h0.90M190.3 447.9h0.90M191.8 442.1h0.90M190.8 450.9h0.90M191.0 441.8h0.90M196.8 444.3h0.90M189.1 452.3h0.90M189.7 448.6h0.90M182.6 442.4h0.90M203.1 449.4h0.90M197.6 447.9h0.90M197.7 445.1h0.90M179.2 453.9h0.90M186.4 442.2h0.90M200.4 445.7h0.90M185.7 448.2h0.90M189.9 451.8h0.90M194.5 452.6h0.90M201.9 444.8h0.90M197.4 447.2h0.90M187.1 447.5h0.90M181.3 447.0h0.90M183.5 454.4h0.90M193.1 442.9h0.90M185.9 443.0h0.90M199.3 452.1h0.90M185.6 453.7h0.90M190.2 448.1h0.90M192.7 450.0h0.90M199.8 450.4h0.90M182.5 449.4h0.90M195.0 451.9h0.90M190.7 444.6h0.90M196.0 453.6h0.90M180.4 448.8h0.90M194.7 443.5h0.90M186.2 448.7h0.90M190.2 444.4h0.90M187.5 451.5h0.90M205.8 442.7h0.90M191.1 443.5h0.90M208.9 445.9h0.90M189.1 451.1h0.90M191.3 449.9h0.90M203.0 444.7h0.90M190.8 450.4h0.90M200.5 444.9h0.90M189.9 448.3h0.90M186.2 445.4h0.90M189.8 445.9h0.90M200.6 447.6h0.90M196.2 448.1h0.90M203.1 448.1h0.90M191.7 450.5h0.90M190.7 452.1h0.90M183.4 447.3h0.90M190.2 447.7h0.90M187.9 447.7h0.90M192.7 450.1h0.90M186.9 451.7h0.90M187.2 448.4h0.90M192.2 452.3h0.90M198.4 443.4h0.90M189.1 445.8h0.90M190.0 452.2h0.90M199.7 445.2h0.90M203.3 447.6h0.90M188.0 442.6h0.90M190.4 447.2h0.90M178.9 449.3h0.90M182.9 453.7h0.90M194.1 451.8h0.90M202.2 444.4h0.90M202.7 437.3h0.90M195.5 439.4h0.90M188.3 446.5h0.90M196.3 446.7h0.90M182.4 450.9h0.90M190.4 444.1h0.90M186.7 455.6h0.90M191.3 444.6h0.90M203.8 447.0h0.90M206.9 440.6h0.90M193.0 444.6h0.90M195.0 445.8h0.90M181.6 452.6h0.90M186.2 445.0h0.90M203.6 445.1h0.90M201.2 446.0h0.90M200.0 449.2h0.90M195.5 446.0h0.90M202.5 440.2h0.90M191.3 449.2h0.90M210.8 438.0h0.90M186.0 448.1h0.90M197.3 450.0h0.90M190.7 450.0h0.90M202.8 443.5h0.90M192.4 451.8h0.90M190.1 448.0h0.90M190.6 448.6h0.90M200.2 450.1h0.90M189.6 442.9h0.90M188.4 444.4h0.90M197.0 447.7h0.90M192.4 453.3h0.90M186.3 444.2h0.90M193.5 444.5h0.90M193.5 441.9h0.90M196.4 437.8h0.90M192.5 446.1h0.90M180.6 453.1h0.90M193.9 451.2h0.90M192.7 447.5h0.90M193.9 452.2h0.90M194.6 442.3h0.90M191.4 449.8h0.90M197.6 438.6h0.90M191.5 450.3h0.90M201.4 442.2h0.90M186.8 454.4h0.90M187.9 454.1h0.90M209.6 434.5h0.90M190.2 446.7h0.90M195.3 455.6h0.90M197.1 452.7h0.90M189.6 448.4h0.90M194.8 447.5h0.90M190.2 439.9h0.90M208.2 445.4h0.90M201.3 445.3h0.90M194.8 447.2h0.90M197.2 445.0h0.90M194.0 439.5h0.90M185.9 451.6h0.90M203.2 450.9h0.90M186.0 443.7h0.90M197.5 444.0h0.90M196.5 453.4h0.90M200.2 447.9h0.90M203.1 445.0h0.90M196.7 445.7h0.90M188.4 446.3h0.90M191.3 449.8h0.90M197.7 448.3h0.90M191.9 453.0h0.90M190.8 449.8h0.90M192.1 448.0h0.90M189.8 447.2h0.90M200.3 454.9h0.90M191.6 452.8h0.90M192.8 445.8h0.90M185.2 443.5h0.90M179.9 449.6h0.90M202.4 454.6h0.90M203.0 452.7h0.90M188.7 447.2h0.90M198.4 445.4h0.90M195.0 446.8h0.90M181.9 443.7h0.90M202.8 448.6h0.90M192.5 447.7h0.90M198.9 448.1h0.90M205.9 447.8h0.90M186.5 443.7h0.90M201.3 443.9h0.90M190.4 445.3h0.90M196.7 443.6h0.90M193.1 448.7h0.90M207.5 437.6h0.90M195.4 445.5h0.90M200.4 445.6h0.90M198.6 447.0h0.90M195.8 450.2h0.90M191.0 447.5h0.90M196.3 447.4h0.90M198.0 440.6h0.90M199.9 446.4h0.90M198.6 449.8h0.90M195.7 455.6h0.90M196.8 442.8h0.90M182.4 441.0h0.90M193.3 448.0h0.90M187.2 446.2h0.90M193.5 450.9h0.90M182.8 449.3h0.90M185.1 449.8h0.90M198.5 442.2h0.90M196.6 445.8h0.90M201.3 445.6h0.90M199.4 440.1h0.90M198.3 447.0h0.90M196.8 440.8h0.90M196.6 449.2h0.90M201.9 443.3h0.90M184.7 455.2h0.90M190.8 444.6h0.90M201.7 447.3h0.90M200.7 448.5h0.90M192.4 443.8h0.90M190.8 447.4h0.90M199.4 445.6h0.90M194.2 452.1h0.90M186.2 451.3h0.90M200.7 442.7h0.90M189.9 446.3h0.90M196.1 450.0h0.90M181.9 450.6h0.90M196.5 446.2h0.90M206.3 446.4h0.90M191.0 451.0h0.90M193.4 437.1h0.90M194.6 446.6h0.90M193.5 446.3h0.90M199.2 440.5h0.90M201.3 447.6h0.90M194.1 442.3h0.90M203.8 440.4h0.90M194.7 451.1h0.90M196.4 444.5h0.90M205.3 439.5h0.90M200.8 440.4h0.90M194.3 451.0h0.90M203.1 449.7h0.90M196.7 443.8h0.90M189.4 448.7h0.90M193.4 444.8h0.90M181.9 449.5h0.90M195.3 447.9h0.90M205.0 447.8h0.90M187.9 452.5h0.90M200.1 440.6h0.90M194.4 446.7h0.90M205.4 441.9h0.90M191.2 448.5h0.90M214.2 440.5h0.90M206.8 432.0h0.90M201.0 444.8h0.90M188.3 451.8h0.90M184.0 444.8h0.90M197.6 450.1h0.90M192.2 438.3h0.90M204.0 436.6h0.90M210.7 446.7h0.90M204.7 429.5h0.90M195.1 444.7h0.90M207.4 432.3h0.90M195.6 449.2h0.90M200.5 447.6h0.90M191.3 438.9h0.90M210.8 431.2h0.90M206.8 433.1h0.90M206.0 432.8h0.90M187.5 444.8h0.90M204.4 448.8h0.90M190.3 449.2h0.90M201.2 442.6h0.90M197.5 429.2h0.90M206.4 428.2h0.90M200.3 446.7h0.90M205.3 447.6h0.90M195.5 439.0h0.90M188.2 444.6h0.90M208.7 426.4h0.90M205.5 445.2h0.90M206.0 426.1h0.90M205.3 436.3h0.90M184.3 442.2h0.90M192.8 443.6h0.90M205.9 440.1h0.90M208.4 441.0h0.90M200.6 431.5h0.90M202.9 431.9h0.90M188.5 443.5h0.90M198.9 446.3h0.90M186.8 444.1h0.90M207.6 437.1h0.90M205.9 445.9h0.90M205.7 439.4h0.90M194.9 440.3h0.90M194.5 449.6h0.90M198.1 437.7h0.90M197.1 437.9h0.90M203.0 431.1h0.90M207.7 434.8h0.90M189.7 437.6h0.90M207.7 441.1h0.90M185.6 453.0h0.90M208.8 445.2h0.90M181.3 453.3h0.90M203.0 438.9h0.90M179.7 454.1h0.90M207.0 445.4h0.90M209.4 428.6h0.90M202.6 450.9h0.90M207.7 442.7h0.90M217.3 450.3h0.90M180.2 448.4h0.90M199.7 442.8h0.90M188.7 446.2h0.90M199.3 450.1h0.90M225.4 432.7h0.90M217.8 436.8h0.90M203.6 437.0h0.90M194.5 447.4h0.90M203.2 438.2h0.90M205.3 445.2h0.90M201.8 449.3h0.90M212.0 431.0h0.90M181.9 450.7h0.90M211.4 431.3h0.90M197.5 447.2h0.90M209.6 433.6h0.90M202.7 450.1h0.90M197.6 450.2h0.90M192.5 443.9h0.90M204.3 445.0h0.90M205.9 445.9h0.90M228.0 430.2h0.90M207.9 425.3h0.90M200.2 444.1h0.90M187.8 446.9h0.90M200.5 442.1h0.90M196.9 427.0h0.90M184.9 451.4h0.90M196.1 436.6h0.90M207.5 430.2h0.90M193.9 442.1h0.90M185.3 450.3h0.90M210.3 444.9h0.90M211.4 430.3h0.90M190.8 432.2h0.90M199.0 438.1h0.90M203.1 425.5h0.90M201.7 435.2h0.90M190.5 440.8h0.90M197.7 445.6h0.90M198.9 442.6h0.90M197.8 439.2h0.90M206.0 429.7h0.90M193.5 452.0h0.90M207.0 446.3h0.90M198.3 442.9h0.90M181.6 453.2h0.90M204.2 435.3h0.90M195.3 432.5h0.90M189.8 451.2h0.90M205.7 433.7h0.90M213.7 432.3h0.90M205.1 449.1h0.90M192.8 435.5h0.90" stroke="#000" stroke-width="0.9" stroke-opacity="0.6" fill="none" filter="url(#sb)"/>
<path d="M247.8 406.5h1.00M235.6 414.9h1.00M236.2 415.1h1.00M229.2 423.2h1.00M213.8 431.7h1.00M227.5 427.7h1.00M217.7 428.0h1.00M218.6 427.8h1.00M224.8 425.7h1.00M224.1 420.5h1.00M238.3 417.8h1.00M242.7 409.3h1.00M230.7 421.8h1.00M240.6 415.7h1.00M230.0 423.3h1.00M228.7 421.2h1.00M234.2 416.3h1.00M225.5 423.1h1.00M235.7 419.7h1.00M228.2 423.9h1.00M225.0 426.8h1.00M227.9 426.6h1.00M244.9 408.5h1.00M238.8 423.2h1.00M230.8 426.2h1.00M234.6 419.9h1.00M226.5 426.7h1.00M226.7 422.1h1.00M230.2 424.1h1.00M214.3 428.7h1.00M211.9 442.8h1.00M227.0 435.5h1.00M212.7 438.8h1.00M214.2 443.4h1.00M212.1 435.7h1.00M219.3 447.0h1.00M214.6 435.6h1.00M218.1 443.4h1.00M219.1 435.8h1.00M223.5 440.1h1.00M210.2 435.6h1.00M223.4 435.4h1.00M227.3 394.5h1.00M247.0 375.2h1.00M233.0 404.2h1.00" stroke="#000" stroke-width="1.0" stroke-opacity="0.45" fill="none" filter="url(#sb)"/>
<path d="M333.1 420.8h0.90M327.1 427.2h0.90M323.3 424.4h0.90M329.8 419.8h0.90M334.8 416.7h0.90M331.2 422.9h0.90M324.2 425.8h0.90M339.6 423.2h0.90M328.5 424.6h0.90M334.6 423.3h0.90M326.6 423.9h0.90M328.9 427.1h0.90M332.6 424.1h0.90M321.6 432.2h0.90M324.9 422.7h0.90M329.3 425.0h0.90M330.7 427.4h0.90M325.0 428.9h0.90M337.0 424.6h0.90M328.7 422.3h0.90M328.8 422.1h0.90M323.2 428.4h0.90M330.2 424.0h0.90M335.3 426.0h0.90M332.4 419.1h0.90M333.4 423.1h0.90M328.1 420.2h0.90M330.7 426.2h0.90M331.0 423.0h0.90M332.4 421.0h0.90M329.0 423.3h0.90M330.1 425.2h0.90M331.1 421.3h0.90M329.4 424.2h0.90M331.9 423.8h0.90M332.7 426.4h0.90M325.6 423.8h0.90M336.8 421.0h0.90M332.9 421.9h0.90M327.3 426.7h0.90M326.6 425.9h0.90M329.4 426.4h0.90M325.3 420.3h0.90M324.7 422.8h0.90M330.8 422.5h0.90M329.2 424.6h0.90M326.2 425.2h0.90M337.9 422.8h0.90M328.7 424.0h0.90M332.2 424.0h0.90M326.0 428.5h0.90M327.2 428.5h0.90M327.6 428.3h0.90M333.8 421.4h0.90M333.6 422.8h0.90M330.8 426.8h0.90M329.0 424.3h0.90M331.8 423.5h0.90M327.4 426.7h0.90M328.0 422.0h0.90M334.8 423.0h0.90M328.8 429.4h0.90M333.1 422.8h0.90M331.5 426.9h0.90M330.4 422.4h0.90M329.4 423.7h0.90M334.4 423.3h0.90M333.5 421.5h0.90M333.4 424.2h0.90M324.9 429.2h0.90M333.4 428.1h0.90M337.9 426.3h0.90M327.2 427.7h0.90M322.5 424.3h0.90M331.3 427.6h0.90M334.0 422.9h0.90M326.5 428.9h0.90M331.4 422.7h0.90M330.6 427.0h0.90M330.7 424.9h0.90M331.8 422.8h0.90M330.6 426.1h0.90M328.7 426.2h0.90M331.6 424.7h0.90M336.1 420.0h0.90M332.3 421.9h0.90M332.5 421.4h0.90M326.6 425.8h0.90M329.9 427.9h0.90M326.0 428.5h0.90M333.8 421.4h0.90M334.6 422.2h0.90M331.4 421.8h0.90M335.4 425.5h0.90M330.2 427.4h0.90M330.4 427.2h0.90M335.2 421.2h0.90M330.0 426.8h0.90M335.9 424.1h0.90M336.9 420.1h0.90M326.8 428.0h0.90M328.7 428.8h0.90M337.0 419.8h0.90M334.9 422.5h0.90M336.4 420.0h0.90M336.8 419.5h0.90M330.4 426.5h0.90M339.2 420.5h0.90M336.5 421.6h0.90M334.1 420.8h0.90M332.2 423.8h0.90M328.3 423.1h0.90M328.6 427.4h0.90M325.3 427.8h0.90M326.1 423.7h0.90M329.6 429.2h0.90M333.2 426.7h0.90M327.3 424.6h0.90M323.1 426.9h0.90M330.4 422.1h0.90M321.8 427.4h0.90M328.3 423.1h0.90M334.2 424.0h0.90M324.8 428.0h0.90M325.5 426.1h0.90M332.1 427.1h0.90M337.7 424.1h0.90M331.1 426.0h0.90M327.9 423.5h0.90M331.0 422.3h0.90M325.5 431.2h0.90M325.6 429.1h0.90M334.3 424.1h0.90M334.0 422.5h0.90M333.0 422.8h0.90M331.4 424.2h0.90M333.8 425.4h0.90M322.6 426.3h0.90M325.4 424.9h0.90M330.6 427.6h0.90M334.9 422.7h0.90M330.4 421.9h0.90M330.6 423.7h0.90M325.9 426.1h0.90M331.9 425.1h0.90M330.7 420.7h0.90M334.5 425.4h0.90M329.3 422.9h0.90M336.9 416.2h0.90M327.3 428.7h0.90M332.9 419.6h0.90M324.9 425.7h0.90M326.7 428.7h0.90M333.6 422.5h0.90M327.7 422.4h0.90M328.5 427.1h0.90M331.7 425.3h0.90M344.6 424.5h0.90M330.6 429.2h0.90M330.2 426.0h0.90M336.1 421.9h0.90M328.1 424.5h0.90M339.6 417.1h0.90M323.7 423.3h0.90M329.4 423.4h0.90M331.5 416.1h0.90M329.3 423.3h0.90M327.5 422.7h0.90M326.4 429.3h0.90M330.0 423.7h0.90M333.3 420.4h0.90M328.9 423.0h0.90M327.7 427.5h0.90M336.4 421.4h0.90M335.9 425.0h0.90M333.0 422.3h0.90M331.4 427.0h0.90M326.5 424.3h0.90M335.3 421.2h0.90M330.5 422.7h0.90M328.8 424.0h0.90M329.8 423.9h0.90M331.6 421.8h0.90M334.3 422.3h0.90M332.9 427.8h0.90M328.0 422.6h0.90M327.4 428.5h0.90M328.8 423.1h0.90M329.5 423.7h0.90M331.8 422.9h0.90M330.7 424.1h0.90M328.6 425.0h0.90M330.3 424.2h0.90M333.4 422.9h0.90M330.8 424.9h0.90M330.0 424.2h0.90M329.3 423.7h0.90M330.2 426.0h0.90M332.1 423.1h0.90M335.0 425.7h0.90M330.8 426.7h0.90M332.3 428.4h0.90M332.9 424.1h0.90M333.5 421.9h0.90M335.6 419.8h0.90M327.4 430.2h0.90M333.4 420.8h0.90M330.3 427.6h0.90M334.0 423.8h0.90M335.2 423.3h0.90M336.4 417.0h0.90M328.8 425.2h0.90M332.6 417.8h0.90M320.3 427.9h0.90M331.6 424.8h0.90M321.9 428.6h0.90M326.6 423.2h0.90M327.6 428.7h0.90M325.9 428.7h0.90M331.0 424.5h0.90M327.1 427.5h0.90M326.8 427.5h0.90M325.8 422.7h0.90M328.8 425.3h0.90M333.4 423.9h0.90M329.7 426.2h0.90M328.9 429.3h0.90M323.3 426.6h0.90M334.0 424.4h0.90M327.9 416.4h0.90M332.9 422.1h0.90M329.0 427.1h0.90M337.1 424.2h0.90M333.7 424.1h0.90M339.4 418.4h0.90M330.2 426.4h0.90M333.5 421.2h0.90M336.5 419.3h0.90M329.4 423.8h0.90M330.3 423.4h0.90M329.0 425.5h0.90M330.7 426.4h0.90M335.6 425.1h0.90M333.7 427.2h0.90M327.4 427.7h0.90M339.9 417.4h0.90M328.2 426.0h0.90M336.8 423.9h0.90M330.2 422.4h0.90M334.9 424.8h0.90M334.7 425.5h0.90M335.4 424.6h0.90M335.0 423.9h0.90M338.0 420.6h0.90M329.9 428.5h0.90M327.9 430.7h0.90M324.0 427.3h0.90M322.8 428.5h0.90M332.5 422.3h0.90M323.3 426.8h0.90M324.7 427.9h0.90M329.9 420.2h0.90M330.2 425.5h0.90M331.5 424.3h0.90M318.9 427.8h0.90M325.5 426.5h0.90M325.1 428.2h0.90M330.9 424.5h0.90M332.2 426.9h0.90M331.8 422.2h0.90M336.1 422.1h0.90M344.1 415.6h0.90M327.3 422.9h0.90M332.8 421.3h0.90M334.3 421.8h0.90M330.1 423.9h0.90M326.9 426.4h0.90M332.4 419.0h0.90M336.8 426.3h0.90M333.7 424.1h0.90M329.1 427.7h0.90M321.7 428.6h0.90M327.1 427.2h0.90M335.7 421.5h0.90M333.4 417.8h0.90M326.7 426.2h0.90M331.0 422.1h0.90M336.6 422.3h0.90M337.1 422.8h0.90M328.6 428.6h0.90M328.6 421.9h0.90M332.1 426.8h0.90M327.2 427.9h0.90M335.2 415.7h0.90M323.6 427.6h0.90M332.6 423.4h0.90M335.4 422.5h0.90M334.2 425.7h0.90M333.6 421.9h0.90M321.0 427.4h0.90M332.3 426.0h0.90M332.8 424.7h0.90M330.3 420.3h0.90M326.3 428.1h0.90M329.3 423.4h0.90M325.1 421.6h0.90M337.6 422.9h0.90M328.6 426.0h0.90M331.6 426.5h0.90M333.0 429.3h0.90M328.7 422.1h0.90M337.1 419.2h0.90M337.2 421.6h0.90M332.1 422.5h0.90M330.5 426.3h0.90M331.1 428.3h0.90M324.5 429.9h0.90M332.3 425.7h0.90M333.6 425.6h0.90M329.2 422.5h0.90M328.5 428.2h0.90M337.2 423.8h0.90M334.0 422.2h0.90M331.3 423.0h0.90M335.5 417.3h0.90M331.9 423.2h0.90M340.0 423.0h0.90M331.5 426.6h0.90M330.7 422.0h0.90M329.6 427.0h0.90M334.2 421.3h0.90M327.1 421.6h0.90M334.6 426.4h0.90M333.5 427.1h0.90M328.5 426.4h0.90M340.0 419.3h0.90M334.5 420.0h0.90M332.2 428.2h0.90M333.9 421.1h0.90M332.9 424.0h0.90M331.5 428.8h0.90M338.8 420.6h0.90M334.0 421.4h0.90M331.6 419.2h0.90M334.1 424.4h0.90M333.1 421.3h0.90M335.9 425.3h0.90M331.0 421.5h0.90M332.0 423.6h0.90M329.9 420.7h0.90M327.0 430.5h0.90M332.0 427.0h0.90M338.2 425.0h0.90M335.3 417.1h0.90M332.7 424.7h0.90M330.4 429.8h0.90M336.2 423.5h0.90M327.1 424.3h0.90M326.5 425.3h0.90M325.3 426.6h0.90M324.8 431.7h0.90M339.0 420.3h0.90M333.8 428.3h0.90M321.8 433.9h0.90M327.3 424.9h0.90M323.5 426.3h0.90M334.9 422.8h0.90M330.8 429.6h0.90M329.4 428.0h0.90M334.2 423.7h0.90M335.7 417.4h0.90M328.9 427.4h0.90M332.7 427.5h0.90M328.7 429.1h0.90M335.9 424.0h0.90M332.8 424.9h0.90M332.0 424.6h0.90M325.5 422.1h0.90M337.7 422.2h0.90M332.5 429.5h0.90M334.6 419.6h0.90M336.9 423.2h0.90M327.5 428.6h0.90M331.1 426.0h0.90M331.8 423.2h0.90M326.7 426.6h0.90M330.2 423.6h0.90M332.8 424.4h0.90M324.6 428.0h0.90M331.3 427.3h0.90M333.7 425.9h0.90M330.1 426.7h0.90M329.4 426.7h0.90M327.7 431.2h0.90M332.7 426.9h0.90M330.5 421.4h0.90M329.3 422.2h0.90M334.6 417.9h0.90M329.8 422.0h0.90M328.4 423.5h0.90M335.9 416.8h0.90M333.1 421.5h0.90M335.9 422.6h0.90M336.6 422.0h0.90M328.7 424.9h0.90M326.8 425.7h0.90M337.9 420.9h0.90M324.1 429.4h0.90M329.1 425.7h0.90M338.5 422.4h0.90M325.9 421.2h0.90M333.5 421.5h0.90M330.4 430.3h0.90M339.5 417.1h0.90M331.9 426.2h0.90M334.7 422.9h0.90M325.9 427.3h0.90M333.0 420.8h0.90M334.0 422.8h0.90M329.1 424.7h0.90M334.1 423.0h0.90M327.6 419.9h0.90M332.8 423.5h0.90M330.3 427.3h0.90M331.0 428.1h0.90M326.3 427.1h0.90M333.5 424.2h0.90M330.2 424.4h0.90M327.9 425.0h0.90M339.1 422.9h0.90M331.2 424.1h0.90M331.5 426.1h0.90M329.2 427.4h0.90M336.1 424.1h0.90M332.1 424.4h0.90M328.8 427.7h0.90M331.1 426.3h0.90M334.0 423.7h0.90M333.2 426.8h0.90M334.3 418.8h0.90M334.5 420.6h0.90M340.4 420.0h0.90M328.3 425.1h0.90M332.2 426.3h0.90M330.2 424.6h0.90M332.1 428.0h0.90M331.6 424.2h0.90M329.7 424.8h0.90M335.3 423.0h0.90M325.5 425.6h0.90M332.4 425.8h0.90M333.6 422.6h0.90M334.6 420.8h0.90M330.6 423.2h0.90M332.5 423.6h0.90M329.5 420.7h0.90M332.3 421.5h0.90M329.8 423.3h0.90M335.0 424.1h0.90M336.5 421.0h0.90M340.2 420.6h0.90M327.5 420.7h0.90M334.2 421.5h0.90M333.3 425.2h0.90M331.9 421.5h0.90M328.2 423.0h0.90M332.5 425.2h0.90M333.3 422.6h0.90M328.4 419.0h0.90M329.7 425.1h0.90M335.7 420.7h0.90M328.1 417.4h0.90M330.4 424.8h0.90M332.8 426.6h0.90M331.6 426.7h0.90M328.2 425.6h0.90M332.4 421.4h0.90M331.5 426.6h0.90M328.9 431.3h0.90M334.6 420.7h0.90M330.2 425.5h0.90M326.2 428.6h0.90M332.0 426.3h0.90M327.1 423.5h0.90M332.2 424.2h0.90M328.2 429.7h0.90M330.8 427.3h0.90M325.3 429.0h0.90M327.6 430.5h0.90M332.2 425.2h0.90M327.6 423.2h0.90M336.1 419.1h0.90M327.1 423.9h0.90M330.6 421.9h0.90M326.0 426.9h0.90M336.6 420.2h0.90M333.4 427.9h0.90M324.2 426.2h0.90M331.3 422.5h0.90M329.0 425.0h0.90M339.4 419.0h0.90M336.8 424.1h0.90M328.7 427.1h0.90M335.9 426.0h0.90M333.7 424.2h0.90M330.1 425.7h0.90M330.7 426.4h0.90M328.8 422.5h0.90M328.4 428.3h0.90M331.9 423.0h0.90M329.0 425.0h0.90M331.0 424.9h0.90M329.1 424.0h0.90M327.9 425.1h0.90M339.3 420.7h0.90M330.8 420.9h0.90M334.0 423.1h0.90M341.1 416.9h0.90M332.3 426.6h0.90M329.5 427.8h0.90M324.3 427.8h0.90M322.8 422.7h0.90M335.2 425.5h0.90M327.2 429.9h0.90M324.1 430.6h0.90M331.9 425.1h0.90M330.8 424.3h0.90M336.6 418.3h0.90M325.7 427.9h0.90M334.5 420.7h0.90M322.0 429.5h0.90M336.9 422.6h0.90M332.9 424.7h0.90M326.9 425.4h0.90M335.8 421.1h0.90M330.3 421.1h0.90M333.3 422.5h0.90M331.5 424.4h0.90M337.1 424.1h0.90M334.7 424.4h0.90M327.0 425.7h0.90M327.4 425.6h0.90M325.9 422.7h0.90M335.0 423.8h0.90M332.8 421.5h0.90M332.4 423.8h0.90M332.8 429.1h0.90M330.3 428.0h0.90M332.3 422.9h0.90M334.9 423.1h0.90M335.1 423.9h0.90M336.3 418.2h0.90M338.3 420.8h0.90M329.4 424.5h0.90M340.3 416.9h0.90M337.7 421.7h0.90M331.6 422.2h0.90M333.9 425.4h0.90M335.0 425.6h0.90M327.9 423.1h0.90M327.0 423.0h0.90M330.5 422.6h0.90M330.7 426.6h0.90M320.4 431.4h0.90M334.8 424.7h0.90M324.9 430.5h0.90M332.4 423.2h0.90M330.4 426.0h0.90M327.4 423.2h0.90M336.1 425.8h0.90M328.6 427.2h0.90M328.9 429.0h0.90M334.0 426.3h0.90M329.8 419.8h0.90M326.6 422.5h0.90M327.7 425.1h0.90M327.7 424.8h0.90M331.8 422.2h0.90M332.9 423.2h0.90M338.2 428.9h0.90M333.5 429.2h0.90M327.0 425.1h0.90M337.2 428.0h0.90M339.9 415.3h0.90M336.6 418.9h0.90M326.8 426.0h0.90M333.8 421.8h0.90M329.9 423.1h0.90M331.6 425.8h0.90M328.0 421.0h0.90M328.3 426.7h0.90M326.4 429.7h0.90M330.7 419.4h0.90M327.1 426.3h0.90M328.7 424.8h0.90M328.3 422.7h0.90M329.0 419.5h0.90M329.6 425.4h0.90M330.5 424.4h0.90M331.3 428.2h0.90M332.2 423.7h0.90M330.6 420.0h0.90M338.0 422.6h0.90M334.6 424.9h0.90M331.1 429.2h0.90M335.1 425.7h0.90M336.5 425.0h0.90M329.0 425.5h0.90M328.8 424.9h0.90M324.9 433.7h0.90M336.7 420.0h0.90M330.3 421.2h0.90M335.6 419.4h0.90M326.2 429.4h0.90M321.0 427.9h0.90M333.1 424.6h0.90M329.4 428.5h0.90M333.7 426.9h0.90M330.1 429.2h0.90M334.9 423.1h0.90M329.3 423.7h0.90M332.9 428.5h0.90M335.7 427.4h0.90M328.1 422.8h0.90M331.0 427.2h0.90M333.5 416.7h0.90M330.5 423.6h0.90M334.0 426.8h0.90M332.2 421.1h0.90M330.5 421.8h0.90M335.5 426.7h0.90M339.2 420.5h0.90M334.0 418.9h0.90M327.7 430.7h0.90M322.2 428.3h0.90M327.5 425.5h0.90M319.7 425.5h0.90M319.1 427.6h0.90M327.7 427.5h0.90M329.3 429.5h0.90M332.5 424.6h0.90M333.0 423.0h0.90M339.9 419.4h0.90M329.1 426.8h0.90M330.1 427.7h0.90M330.6 421.1h0.90M336.1 422.6h0.90M331.2 426.4h0.90M327.5 425.9h0.90M320.6 430.1h0.90M329.1 420.3h0.90M339.4 419.3h0.90M325.7 428.1h0.90M331.3 419.7h0.90M337.1 418.3h0.90M326.8 422.5h0.90M332.0 422.2h0.90M335.7 420.8h0.90M334.6 421.0h0.90M330.4 421.5h0.90M320.9 424.1h0.90M329.6 431.9h0.90M332.2 424.1h0.90M330.2 425.1h0.90M331.1 426.5h0.90M329.0 426.4h0.90M317.9 426.3h0.90M332.3 416.6h0.90M326.1 429.1h0.90M343.8 420.4h0.90M346.7 409.2h0.90M334.6 417.6h0.90M336.6 424.3h0.90M326.8 424.6h0.90M324.2 425.4h0.90M327.1 422.2h0.90M338.3 419.8h0.90M330.1 420.8h0.90M321.7 430.1h0.90M333.8 416.3h0.90M327.5 423.9h0.90M334.5 417.0h0.90M331.1 422.5h0.90M326.9 426.8h0.90M327.8 423.8h0.90M333.4 416.6h0.90M328.5 426.2h0.90M338.2 415.6h0.90M320.6 418.1h0.90M341.1 418.4h0.90M326.2 432.5h0.90M326.8 430.3h0.90M335.3 420.9h0.90M340.0 416.0h0.90M334.5 431.0h0.90M340.4 425.5h0.90M323.7 424.0h0.90M328.3 431.4h0.90M329.6 420.3h0.90M340.9 409.3h0.90M336.6 433.6h0.90M320.2 427.7h0.90M316.2 433.1h0.90M331.3 424.0h0.90M333.7 418.7h0.90M328.9 424.4h0.90M330.7 420.2h0.90M322.0 420.1h0.90M337.7 416.2h0.90M336.7 424.4h0.90M319.3 424.2h0.90M324.5 421.7h0.90M334.7 412.7h0.90M329.7 421.6h0.90M314.6 430.1h0.90M323.8 418.1h0.90M327.9 425.1h0.90M315.9 436.5h0.90M330.1 416.1h0.90M339.8 417.8h0.90M324.7 421.4h0.90M326.5 428.3h0.90M330.4 425.2h0.90M327.1 423.9h0.90M329.3 422.1h0.90M335.4 423.0h0.90M317.3 424.5h0.90M329.5 425.6h0.90M340.2 412.3h0.90M331.8 426.3h0.90M332.5 424.3h0.90M333.8 423.2h0.90M325.1 425.9h0.90M321.7 428.4h0.90M343.6 412.2h0.90M330.5 422.7h0.90M322.2 424.3h0.90M333.6 416.1h0.90M329.0 426.0h0.90M324.5 426.4h0.90M326.2 423.6h0.90M320.6 426.5h0.90M323.1 425.6h0.90M336.5 420.0h0.90M331.8 423.4h0.90M328.6 423.8h0.90M337.0 415.6h0.90M337.1 423.1h0.90M330.2 427.8h0.90M322.4 430.6h0.90M326.9 424.9h0.90M339.5 419.4h0.90M325.8 428.3h0.90M345.2 416.0h0.90M327.9 422.2h0.90M326.8 435.1h0.90M327.7 424.9h0.90M340.6 418.7h0.90M326.6 425.5h0.90M332.6 420.3h0.90M341.8 429.2h0.90M324.5 421.7h0.90M335.1 416.0h0.90M335.3 411.6h0.90M333.4 416.9h0.90M317.7 427.7h0.90M331.0 419.8h0.90M331.1 414.6h0.90M338.9 423.2h0.90M341.7 415.1h0.90M334.4 424.4h0.90M328.7 419.8h0.90M317.6 430.9h0.90M319.7 422.7h0.90M336.9 417.4h0.90M324.0 428.4h0.90M329.4 424.4h0.90M322.0 432.5h0.90M333.4 430.6h0.90M323.2 428.3h0.90M334.3 422.1h0.90M331.0 424.6h0.90M335.2 425.0h0.90M321.0 429.3h0.90M331.6 427.1h0.90M334.9 418.3h0.90M311.9 437.5h0.90M327.4 426.6h0.90M333.5 428.3h0.90M334.6 418.2h0.90M332.0 417.5h0.90M334.5 420.6h0.90M333.8 423.3h0.90M333.7 417.5h0.90M327.6 421.1h0.90M330.7 424.8h0.90M317.0 419.3h0.90M326.3 419.8h0.90M325.4 419.2h0.90M338.8 414.7h0.90M322.8 426.5h0.90M334.3 424.8h0.90M329.3 424.9h0.90M330.6 422.4h0.90M335.4 415.9h0.90M331.3 424.7h0.90M326.9 429.5h0.90M328.4 418.6h0.90M336.1 418.2h0.90M330.3 418.3h0.90M334.5 419.3h0.90M323.8 430.7h0.90M336.3 418.7h0.90M333.4 432.7h0.90M321.1 424.9h0.90M331.3 419.5h0.90M319.3 425.2h0.90M332.8 422.2h0.90M335.6 409.4h0.90M324.5 421.2h0.90M329.4 432.2h0.90M341.5 423.5h0.90M334.0 419.0h0.90M339.1 423.3h0.90M319.5 431.5h0.90M326.0 426.9h0.90M342.6 415.6h0.90M322.2 421.5h0.90M326.6 422.9h0.90M329.9 420.1h0.90M331.4 421.0h0.90M322.6 414.0h0.90M311.8 429.9h0.90M335.6 422.5h0.90M322.3 426.0h0.90M338.2 420.9h0.90M338.6 417.8h0.90M324.2 427.8h0.90M334.7 426.5h0.90M344.9 421.5h0.90M343.9 419.0h0.90M335.3 416.7h0.90M334.1 433.8h0.90M331.9 418.9h0.90M330.0 433.6h0.90M341.7 418.6h0.90M334.2 422.8h0.90M337.5 414.1h0.90M315.6 433.7h0.90M329.9 428.6h0.90M329.0 426.8h0.90M327.8 423.6h0.90M320.7 424.7h0.90M332.9 419.8h0.90M325.7 426.9h0.90M342.7 415.3h0.90M324.8 419.3h0.90M329.8 427.4h0.90M327.5 427.3h0.90M333.5 419.0h0.90M329.8 417.1h0.90M329.0 432.4h0.90M310.2 432.8h0.90M325.9 420.5h0.90M325.1 425.5h0.90M335.2 428.8h0.90M327.1 428.8h0.90M332.9 421.8h0.90M323.2 426.8h0.90M335.2 425.5h0.90M329.9 424.5h0.90M334.9 416.2h0.90M331.2 425.1h0.90M335.3 420.9h0.90M330.1 425.5h0.90M332.9 428.2h0.90M327.5 426.9h0.90M323.5 429.1h0.90M330.2 419.5h0.90M332.5 425.3h0.90M343.4 420.0h0.90M334.8 422.2h0.90M344.1 417.4h0.90M341.3 412.3h0.90M333.8 423.3h0.90M328.4 432.1h0.90M328.1 421.7h0.90M337.3 418.4h0.90M330.2 422.3h0.90M336.6 416.5h0.90M326.3 420.8h0.90M333.7 425.1h0.90M335.1 416.5h0.90M334.8 419.4h0.90M332.9 420.9h0.90M332.7 421.8h0.90M335.6 421.5h0.90M330.0 422.2h0.90M337.0 418.0h0.90M325.9 422.9h0.90M345.8 404.4h0.90M334.7 424.7h0.90M321.4 419.9h0.90M318.7 426.1h0.90M328.2 430.2h0.90M333.7 421.2h0.90M328.1 424.7h0.90M335.3 413.7h0.90M331.2 427.2h0.90M320.7 421.6h0.90M331.6 427.4h0.90M328.5 426.1h0.90M331.2 425.4h0.90M326.9 431.6h0.90M332.7 426.8h0.90M320.9 432.7h0.90M332.4 422.8h0.90M331.6 425.1h0.90M332.2 426.2h0.90M332.1 434.5h0.90M331.3 423.7h0.90M327.8 415.6h0.90M316.5 424.9h0.90M334.2 414.5h0.90M331.0 424.5h0.90M332.7 418.8h0.90M341.5 417.6h0.90M324.6 429.5h0.90M324.6 426.4h0.90M322.8 423.5h0.90M332.4 423.9h0.90M326.4 429.1h0.90M325.8 426.5h0.90M345.1 419.6h0.90M327.5 420.9h0.90M331.1 417.4h0.90M334.4 414.3h0.90M338.1 413.6h0.90M323.7 430.7h0.90M334.0 421.5h0.90M337.9 422.1h0.90M337.1 416.6h0.90M321.9 418.4h0.90M330.7 427.5h0.90M330.7 419.5h0.90M328.1 417.8h0.90M331.5 427.2h0.90M322.4 418.3h0.90M331.9 425.1h0.90M329.6 424.1h0.90M331.6 420.0h0.90M325.1 422.2h0.90M323.0 424.4h0.90M328.9 425.3h0.90M331.3 425.5h0.90M343.0 425.3h0.90M329.8 425.8h0.90M315.3 427.7h0.90M346.3 415.3h0.90M337.0 415.1h0.90M333.0 417.5h0.90M333.6 419.8h0.90M332.6 424.0h0.90M343.1 416.4h0.90M323.8 428.0h0.90M339.8 424.8h0.90M332.5 414.5h0.90M348.1 415.2h0.90M332.1 424.8h0.90M341.9 417.6h0.90M334.5 421.4h0.90M324.2 425.5h0.90M321.6 423.4h0.90M338.0 416.3h0.90M320.2 422.5h0.90M330.2 424.8h0.90M339.8 412.7h0.90M323.5 424.0h0.90M334.3 419.3h0.90M341.5 411.5h0.90M343.0 418.7h0.90M332.9 414.5h0.90M324.8 422.9h0.90M341.9 413.7h0.90M335.1 421.2h0.90M329.6 419.3h0.90M327.1 430.6h0.90M316.2 429.6h0.90M331.4 417.6h0.90M322.5 416.2h0.90M320.9 430.2h0.90M333.5 413.9h0.90M331.2 419.2h0.90M331.2 430.2h0.90M331.7 428.3h0.90M335.8 421.5h0.90M331.6 416.2h0.90M322.3 421.6h0.90M337.4 419.0h0.90M329.0 421.7h0.90M324.5 426.0h0.90M336.2 430.9h0.90M328.8 418.6h0.90M335.0 412.5h0.90M340.6 426.5h0.90M319.7 435.3h0.90M323.9 428.0h0.90M336.2 419.0h0.90M330.4 417.7h0.90M322.6 422.8h0.90M329.4 426.3h0.90M339.4 412.9h0.90M318.2 434.9h0.90M339.5 417.8h0.90M337.2 416.8h0.90M326.2 423.2h0.90M331.0 425.5h0.90M328.9 414.5h0.90M331.2 421.3h0.90M333.7 420.4h0.90M336.7 414.5h0.90M328.8 427.1h0.90M330.4 421.3h0.90M339.7 428.2h0.90M332.6 429.8h0.90M331.8 423.6h0.90M341.2 417.3h0.90M319.6 432.5h0.90M334.5 423.1h0.90M326.5 422.8h0.90M321.4 423.4h0.90M331.0 424.9h0.90M331.0 417.3h0.90M335.3 417.4h0.90M329.4 429.6h0.90M338.3 423.8h0.90M339.9 415.7h0.90M329.8 418.0h0.90M337.8 422.1h0.90M339.0 427.0h0.90M333.0 416.2h0.90M322.7 422.7h0.90M339.2 417.6h0.90M331.5 416.7h0.90M337.6 407.6h0.90M338.2 421.4h0.90M326.8 427.3h0.90M339.3 418.3h0.90M337.1 412.6h0.90M339.7 420.3h0.90M330.2 424.5h0.90M325.8 419.9h0.90M337.1 412.9h0.90M324.1 422.2h0.90M338.8 421.3h0.90M331.1 420.1h0.90M328.6 426.9h0.90M326.9 420.8h0.90M326.8 422.9h0.90M332.7 417.6h0.90M327.6 425.6h0.90M330.4 422.0h0.90M328.9 422.0h0.90M334.1 421.1h0.90M336.7 416.6h0.90M324.5 431.8h0.90M336.6 424.1h0.90M331.0 430.7h0.90M330.4 423.5h0.90M328.5 420.0h0.90M339.8 413.8h0.90M345.1 421.8h0.90M328.9 421.9h0.90M329.7 423.1h0.90M340.4 416.3h0.90M333.8 419.1h0.90M341.3 412.0h0.90M323.8 420.8h0.90M335.3 413.1h0.90M323.8 418.1h0.90M312.2 433.1h0.90M337.2 420.6h0.90M322.4 422.0h0.90M338.4 422.8h0.90M327.4 420.7h0.90M341.2 419.9h0.90M324.3 430.0h0.90M318.8 425.1h0.90M341.7 417.5h0.90M335.4 413.9h0.90M330.4 419.6h0.90M321.7 429.7h0.90M334.6 415.9h0.90M344.7 409.3h0.90M328.6 423.2h0.90M330.2 425.9h0.90M324.1 423.1h0.90M334.6 421.2h0.90M330.8 422.6h0.90M320.8 427.5h0.90M326.9 425.7h0.90M336.3 417.1h0.90M323.5 426.2h0.90M331.9 420.2h0.90M336.9 417.2h0.90M332.4 414.5h0.90M321.3 431.6h0.90M335.5 421.0h0.90M327.1 431.1h0.90M324.1 438.6h0.90M331.2 418.8h0.90M319.9 427.9h0.90M326.1 418.8h0.90M341.8 421.4h0.90M336.0 422.3h0.90M331.4 424.7h0.90M332.0 412.0h0.90M329.1 419.1h0.90M336.1 419.4h0.90M337.8 417.4h0.90M324.1 425.8h0.90M343.5 418.6h0.90M329.2 421.9h0.90M333.7 425.5h0.90M331.7 421.3h0.90M327.6 421.4h0.90M327.5 423.5h0.90M335.7 422.3h0.90M327.8 426.0h0.90M331.9 417.8h0.90M336.8 417.7h0.90M333.6 421.5h0.90M331.3 410.3h0.90M333.3 414.3h0.90M346.0 424.5h0.90M338.7 415.5h0.90M339.2 418.9h0.90M338.5 418.3h0.90M341.6 410.8h0.90M342.1 414.1h0.90M343.4 412.3h0.90M332.0 408.3h0.90M341.6 421.6h0.90M338.9 413.2h0.90M330.3 419.2h0.90M337.9 424.2h0.90M345.1 415.1h0.90M339.6 420.6h0.90M332.7 415.2h0.90M336.9 422.9h0.90M338.4 411.7h0.90M336.8 423.8h0.90M347.0 413.9h0.90M337.5 412.9h0.90M328.3 419.8h0.90M340.2 421.4h0.90M337.1 422.5h0.90M339.6 412.1h0.90M343.3 416.0h0.90M339.7 420.8h0.90M338.8 421.2h0.90M339.0 412.4h0.90M343.6 425.9h0.90M338.2 404.2h0.90M330.4 413.0h0.90M335.6 409.9h0.90M330.6 424.1h0.90M341.8 415.8h0.90M333.9 416.2h0.90M342.6 417.6h0.90M336.0 403.9h0.90M339.2 417.9h0.90M324.0 421.9h0.90M327.0 421.2h0.90M339.8 416.3h0.90M335.1 419.7h0.90M335.8 422.7h0.90M342.0 410.7h0.90M335.2 414.4h0.90M341.8 411.4h0.90M342.9 412.6h0.90M336.3 416.9h0.90M334.6 410.9h0.90M330.3 417.4h0.90M338.1 412.1h0.90M339.8 417.5h0.90M345.9 410.3h0.90M339.9 410.4h0.90M338.5 417.3h0.90M337.2 420.4h0.90M332.7 412.1h0.90M337.6 415.1h0.90M340.3 411.6h0.90M344.0 413.0h0.90M332.0 419.5h0.90M331.0 417.2h0.90M338.4 413.2h0.90M337.5 425.1h0.90M339.0 417.4h0.90M328.8 421.1h0.90M335.8 416.1h0.90M332.9 414.2h0.90M337.5 417.8h0.90M335.4 418.3h0.90M337.1 410.7h0.90M341.7 412.0h0.90M338.2 409.8h0.90M342.2 422.1h0.90M339.6 419.8h0.90M332.3 415.4h0.90M332.4 416.0h0.90M334.8 413.8h0.90M334.3 413.4h0.90M334.1 413.5h0.90M342.4 418.1h0.90M336.4 407.1h0.90M332.6 415.5h0.90M340.6 420.2h0.90M344.3 417.4h0.90M337.5 413.5h0.90M336.8 421.0h0.90M331.5 418.8h0.90M341.6 413.8h0.90M338.3 424.6h0.90M342.3 416.5h0.90M335.1 420.8h0.90M345.3 408.3h0.90M331.2 417.4h0.90M347.6 410.1h0.90M339.7 411.0h0.90M344.5 410.5h0.90M343.6 410.8h0.90M347.5 420.5h0.90M338.5 418.2h0.90M352.7 409.8h0.90M334.4 415.0h0.90M335.6 411.2h0.90M331.3 419.6h0.90M331.7 409.0h0.90M339.8 412.1h0.90M332.7 415.6h0.90M339.8 415.9h0.90M335.9 415.4h0.90M340.0 420.0h0.90M341.7 413.7h0.90M338.6 408.5h0.90M335.2 418.4h0.90M332.2 423.5h0.90M340.5 413.8h0.90M332.2 418.3h0.90M332.1 412.9h0.90M339.5 423.4h0.90M342.4 411.3h0.90M347.6 406.8h0.90M336.6 418.5h0.90M347.2 406.5h0.90M337.3 413.1h0.90M333.2 413.1h0.90M348.2 416.2h0.90M349.9 411.2h0.90M316.9 430.5h0.90M305.2 431.3h0.90M317.7 423.5h0.90M308.1 424.7h0.90M315.3 432.1h0.90M307.5 432.0h0.90M310.1 435.0h0.90M335.7 426.4h0.90M312.2 425.9h0.90M325.9 426.5h0.90M314.4 425.8h0.90M318.5 421.7h0.90M310.6 433.9h0.90M318.5 425.9h0.90M311.0 427.1h0.90M294.2 430.9h0.90M295.3 428.7h0.90M313.2 423.8h0.90M319.3 424.2h0.90M310.1 431.4h0.90M306.4 425.5h0.90M309.2 421.6h0.90M327.6 427.5h0.90M301.7 430.7h0.90M319.3 424.8h0.90M323.5 426.1h0.90M304.9 428.8h0.90M307.9 427.8h0.90M311.1 424.4h0.90M310.3 429.3h0.90M321.8 425.8h0.90M314.0 421.0h0.90M310.2 424.7h0.90M317.8 427.8h0.90M324.6 428.6h0.90M312.2 427.9h0.90M308.5 426.9h0.90M321.8 426.2h0.90M328.5 428.2h0.90M327.2 428.1h0.90M321.4 427.8h0.90M313.9 427.4h0.90M320.8 424.9h0.90M318.5 422.7h0.90M320.3 428.3h0.90M315.8 429.8h0.90M324.2 430.7h0.90M322.6 428.8h0.90M306.6 430.3h0.90M320.9 426.9h0.90M308.5 429.7h0.90M316.3 426.5h0.90M314.9 428.7h0.90M320.2 430.9h0.90M311.9 427.6h0.90M312.8 426.9h0.90M312.6 430.7h0.90M309.6 418.1h0.90M307.3 437.6h0.90M320.6 431.1h0.90M312.0 430.2h0.90M318.7 428.5h0.90M316.4 430.2h0.90M318.6 425.9h0.90M319.0 422.8h0.90M306.0 428.0h0.90M314.7 426.9h0.90M315.9 422.1h0.90M311.9 433.3h0.90M311.2 429.1h0.90M318.4 426.5h0.90M325.2 426.1h0.90M319.8 426.8h0.90M321.0 426.8h0.90M318.6 428.8h0.90M330.5 427.6h0.90M317.0 430.6h0.90M322.6 426.7h0.90M339.8 420.1h0.90M318.2 425.1h0.90M315.2 425.1h0.90M306.6 437.7h0.90M305.0 433.2h0.90M332.1 427.2h0.90M316.3 427.4h0.90M309.4 429.1h0.90M312.7 429.6h0.90M307.1 426.4h0.90M316.2 429.0h0.90M311.1 428.3h0.90M319.6 424.8h0.90M326.3 423.3h0.90M319.7 427.6h0.90M315.2 423.2h0.90M315.6 425.2h0.90M325.1 422.0h0.90M306.2 429.1h0.90M308.9 428.6h0.90M312.6 430.9h0.90M308.8 435.6h0.90M320.5 430.1h0.90M314.4 433.0h0.90M309.1 429.3h0.90M321.0 431.0h0.90M315.7 429.3h0.90M319.6 429.7h0.90M315.9 427.5h0.90M312.3 429.0h0.90M307.2 425.1h0.90M318.6 423.9h0.90M308.1 424.3h0.90M323.3 425.3h0.90M319.2 432.6h0.90M315.0 424.5h0.90M308.6 422.9h0.90M328.1 425.8h0.90M313.0 423.5h0.90M320.0 427.0h0.90M311.3 428.3h0.90M324.4 425.7h0.90M319.6 428.6h0.90M323.8 427.0h0.90M323.3 431.4h0.90M315.0 427.2h0.90M309.7 428.6h0.90M316.0 425.1h0.90M311.5 428.7h0.90M313.1 426.8h0.90M326.6 417.4h0.90M322.1 422.6h0.90M318.7 427.3h0.90M320.9 425.4h0.90M322.7 425.7h0.90M317.0 423.0h0.90M316.4 429.0h0.90M316.5 423.8h0.90M319.6 425.2h0.90M333.3 431.8h0.90M307.9 427.9h0.90M317.4 429.0h0.90M313.4 431.1h0.90M333.6 423.1h0.90M312.6 427.3h0.90M323.8 417.5h0.90M321.0 426.0h0.90M320.8 429.1h0.90M324.4 425.8h0.90M319.3 425.1h0.90M315.3 430.7h0.90M330.4 424.6h0.90M309.7 434.4h0.90M304.4 434.4h0.90M311.5 430.0h0.90M321.2 423.8h0.90M312.7 431.3h0.90M318.1 429.8h0.90M323.5 425.9h0.90M322.5 429.2h0.90M320.2 428.3h0.90M325.5 428.1h0.90M315.9 421.9h0.90M325.0 426.8h0.90M317.3 422.6h0.90M327.7 424.2h0.90M323.4 419.8h0.90M318.3 430.1h0.90M325.2 424.6h0.90M325.5 433.0h0.90M322.2 421.7h0.90M319.2 424.7h0.90" stroke="#000" stroke-width="0.9" stroke-opacity="0.55" fill="none" filter="url(#sb)"/>
<path d="M321.9 412.5h1.00M358.2 410.3h1.00M337.0 391.6h1.00M342.3 397.4h1.00M328.3 412.1h1.00M321.3 421.8h1.00M310.7 422.3h1.00M337.6 402.9h1.00M306.6 424.8h1.00M332.2 423.4h1.00M348.2 403.0h1.00M332.3 410.9h1.00M315.4 423.4h1.00M325.1 428.2h1.00M344.5 407.6h1.00M322.7 429.3h1.00M326.9 421.6h1.00M314.2 425.0h1.00M327.1 413.0h1.00M321.0 417.1h1.00M336.9 402.4h1.00M318.9 422.3h1.00M330.4 426.3h1.00M304.5 433.2h1.00M345.7 408.7h1.00M349.7 416.6h1.00M329.6 421.6h1.00M329.9 412.4h1.00M330.6 406.6h1.00M335.5 398.2h1.00M337.0 397.3h1.00M338.3 396.5h1.00M327.5 402.3h1.00M304.5 413.6h1.00" stroke="#000" stroke-width="1.0" stroke-opacity="0.4" fill="none" filter="url(#sb)"/>
<path d="M387.3 445.8h0.90M379.8 454.2h0.90M384.3 440.6h0.90M385.9 453.1h0.90M402.7 447.4h0.90M395.2 442.8h0.90M387.0 447.2h0.90M386.1 436.7h0.90M384.1 450.2h0.90M393.7 445.6h0.90M390.3 448.5h0.90M389.8 450.5h0.90M379.3 448.8h0.90M388.2 453.8h0.90M371.9 450.3h0.90M395.0 447.5h0.90M388.6 450.4h0.90M399.1 438.9h0.90M399.5 438.1h0.90M392.1 444.2h0.90M382.0 443.4h0.90M390.3 441.1h0.90M378.3 451.7h0.90M400.1 444.3h0.90M391.3 449.6h0.90M392.9 431.9h0.90M390.9 447.5h0.90M398.2 439.8h0.90M384.9 443.9h0.90M379.2 442.5h0.90M398.1 442.1h0.90M394.7 441.4h0.90M387.6 445.7h0.90M398.4 439.2h0.90M381.5 452.8h0.90M399.3 445.7h0.90M387.6 450.3h0.90M392.7 448.4h0.90M392.4 449.7h0.90M391.7 447.6h0.90M392.9 444.0h0.90M400.8 442.0h0.90M400.0 441.0h0.90M387.2 442.4h0.90M387.5 443.1h0.90M384.8 454.9h0.90M405.6 445.2h0.90M388.7 431.9h0.90M385.2 450.1h0.90M385.6 438.5h0.90M399.8 439.1h0.90M379.4 442.8h0.90M389.8 443.2h0.90M389.3 446.6h0.90M388.6 449.9h0.90M390.1 446.5h0.90M395.2 440.3h0.90M386.0 448.7h0.90M388.5 443.6h0.90M377.7 451.1h0.90M408.3 439.2h0.90M392.3 442.2h0.90M375.4 455.7h0.90M381.9 445.2h0.90M382.2 441.6h0.90M383.3 452.7h0.90M379.9 453.0h0.90M383.1 450.8h0.90M392.8 449.5h0.90M389.5 443.7h0.90M398.5 441.1h0.90M386.0 444.7h0.90M387.1 446.1h0.90M397.1 441.9h0.90M381.2 453.1h0.90M387.5 441.9h0.90M392.8 447.2h0.90M382.8 453.1h0.90M385.4 444.6h0.90M397.1 436.8h0.90M395.4 446.1h0.90M395.5 455.1h0.90M389.9 437.7h0.90M389.2 436.9h0.90M382.7 450.4h0.90M379.2 451.6h0.90M390.5 436.7h0.90M400.7 447.1h0.90M399.7 439.4h0.90M375.4 447.1h0.90M386.8 443.6h0.90M398.0 441.4h0.90M395.9 429.9h0.90M390.2 453.2h0.90M385.0 446.4h0.90M383.5 444.4h0.90M395.7 449.8h0.90M396.0 444.6h0.90M397.0 443.4h0.90M378.3 438.1h0.90M399.4 439.7h0.90M382.3 451.9h0.90M395.0 445.7h0.90M391.5 429.9h0.90M391.4 433.3h0.90M394.5 447.8h0.90M388.4 451.3h0.90M386.9 444.6h0.90M383.4 449.3h0.90M383.3 448.4h0.90M384.1 454.2h0.90M401.7 448.1h0.90M380.4 451.6h0.90M386.8 453.6h0.90M391.3 429.7h0.90M391.3 443.8h0.90M400.4 436.9h0.90M398.8 437.1h0.90M393.8 446.6h0.90M396.3 440.1h0.90M390.8 445.1h0.90M400.1 435.8h0.90M392.4 443.8h0.90M398.9 455.6h0.90M406.6 430.7h0.90M397.1 445.2h0.90M376.6 449.5h0.90M397.1 440.2h0.90M391.5 441.8h0.90M393.8 446.7h0.90M386.0 448.2h0.90M384.8 451.3h0.90M384.8 446.0h0.90M405.9 429.2h0.90M383.9 454.7h0.90M384.9 451.7h0.90M390.2 450.1h0.90M381.6 441.0h0.90M403.5 440.7h0.90M391.9 444.7h0.90M388.9 447.7h0.90M397.1 446.0h0.90M390.1 442.4h0.90M388.9 448.0h0.90M384.4 443.4h0.90M390.9 450.3h0.90M387.5 445.4h0.90M380.5 439.4h0.90M386.5 442.8h0.90M398.3 439.8h0.90M378.2 448.6h0.90M395.4 448.8h0.90M393.2 440.5h0.90M387.7 445.0h0.90M387.7 444.1h0.90M395.9 438.3h0.90M384.5 445.2h0.90M395.2 445.4h0.90M394.6 445.3h0.90M393.6 449.0h0.90M389.6 443.0h0.90M400.1 448.9h0.90M399.9 439.3h0.90M384.2 454.4h0.90M396.2 440.2h0.90M378.7 440.7h0.90M384.7 452.4h0.90M387.8 440.9h0.90M387.0 439.7h0.90M401.2 438.7h0.90M385.6 447.3h0.90M396.4 445.9h0.90M393.3 445.8h0.90M394.3 443.9h0.90M389.6 445.0h0.90M393.0 446.5h0.90M386.9 441.3h0.90M385.5 445.6h0.90M397.4 440.8h0.90M389.7 444.1h0.90M396.5 450.8h0.90M389.5 454.5h0.90M388.6 454.2h0.90M390.1 444.4h0.90M375.6 447.2h0.90M400.7 440.9h0.90M389.8 452.3h0.90M389.7 451.2h0.90M385.4 447.7h0.90M393.8 450.4h0.90M395.4 446.9h0.90M392.6 440.1h0.90M381.5 444.6h0.90M381.4 451.1h0.90M388.5 446.8h0.90M389.4 447.9h0.90M382.8 447.5h0.90M405.6 451.2h0.90M381.7 450.3h0.90M382.7 449.6h0.90M396.8 442.9h0.90M387.6 449.4h0.90M386.9 445.6h0.90M384.7 452.1h0.90M379.0 449.8h0.90M386.3 452.8h0.90M376.4 452.9h0.90M391.8 439.3h0.90M394.0 448.7h0.90M399.7 433.3h0.90M387.6 445.1h0.90M384.7 447.8h0.90M392.7 436.4h0.90M384.4 447.1h0.90M398.4 444.7h0.90M384.1 446.2h0.90M373.7 450.6h0.90M387.7 449.2h0.90M387.7 448.7h0.90M393.5 444.7h0.90M387.3 450.2h0.90M393.0 448.1h0.90M388.8 442.2h0.90M380.3 446.3h0.90M384.4 450.4h0.90M378.7 455.3h0.90M387.7 443.1h0.90M390.6 439.2h0.90M385.8 446.3h0.90M381.5 445.0h0.90M378.5 448.4h0.90M391.7 440.7h0.90M394.9 439.3h0.90M371.3 452.6h0.90M404.4 438.5h0.90M402.4 443.1h0.90M383.1 445.6h0.90M386.4 442.8h0.90M385.7 439.3h0.90M391.8 444.7h0.90M389.5 452.3h0.90M390.7 442.8h0.90M389.5 437.8h0.90M407.2 436.8h0.90M388.8 447.1h0.90M386.0 451.4h0.90M399.8 447.2h0.90M385.6 441.9h0.90M391.1 447.1h0.90M385.3 439.8h0.90M387.6 449.5h0.90M390.5 455.0h0.90M388.2 452.1h0.90M386.4 453.6h0.90M387.8 451.0h0.90M402.1 438.5h0.90M389.5 448.0h0.90M379.3 443.9h0.90M399.8 444.5h0.90M384.6 448.8h0.90M388.1 442.8h0.90M377.0 454.2h0.90M389.3 443.2h0.90M378.1 455.0h0.90M391.2 446.4h0.90M393.8 440.9h0.90M385.4 448.8h0.90M388.0 451.5h0.90M383.4 448.8h0.90M386.7 449.1h0.90M382.7 443.9h0.90M385.9 445.5h0.90M388.4 445.1h0.90M394.4 447.0h0.90M390.5 442.2h0.90M394.9 454.3h0.90M381.3 446.9h0.90M390.0 441.0h0.90M393.7 442.0h0.90M388.1 443.3h0.90M390.0 453.5h0.90M404.6 438.2h0.90M391.5 441.4h0.90M388.9 443.2h0.90M394.8 433.5h0.90M404.0 441.7h0.90M395.6 446.7h0.90M384.8 447.0h0.90M394.4 446.1h0.90M383.0 454.3h0.90M387.9 443.7h0.90M383.8 450.0h0.90M393.8 446.2h0.90M374.4 450.5h0.90M387.0 448.4h0.90M394.0 450.7h0.90M388.0 448.2h0.90M386.7 448.0h0.90M385.8 452.5h0.90M384.7 443.7h0.90M398.0 438.5h0.90M383.2 446.5h0.90M378.1 449.1h0.90M382.8 452.2h0.90M386.6 449.2h0.90M393.3 442.7h0.90M388.1 449.0h0.90M390.3 437.3h0.90M400.4 443.0h0.90M386.5 455.3h0.90M388.9 443.1h0.90M387.4 448.3h0.90M398.7 447.2h0.90M392.4 439.7h0.90M389.4 441.6h0.90M383.6 454.6h0.90M389.5 452.2h0.90M386.1 443.6h0.90M386.4 444.0h0.90M382.6 446.2h0.90M391.2 446.2h0.90M389.4 441.0h0.90M386.5 438.5h0.90M381.6 447.0h0.90M384.3 445.4h0.90M377.9 447.3h0.90M382.5 447.7h0.90M392.7 443.2h0.90M386.3 445.7h0.90M384.9 443.3h0.90M394.9 439.9h0.90M383.0 446.2h0.90M389.7 447.5h0.90M379.0 453.2h0.90M398.5 447.3h0.90M385.1 443.6h0.90M392.9 441.1h0.90M396.4 446.3h0.90M387.1 444.6h0.90M394.3 446.4h0.90M377.6 450.9h0.90M380.1 441.5h0.90M375.6 454.5h0.90M397.0 444.2h0.90M393.8 445.0h0.90M397.5 438.6h0.90M398.7 441.4h0.90M397.4 436.4h0.90M392.3 454.0h0.90M375.2 448.0h0.90M386.4 448.6h0.90M402.8 436.6h0.90M389.1 438.8h0.90M394.1 437.1h0.90M398.6 449.2h0.90M396.3 448.6h0.90M384.4 444.5h0.90M382.4 453.0h0.90M397.1 445.4h0.90M380.7 447.6h0.90M400.3 439.0h0.90M391.6 442.2h0.90M395.5 446.2h0.90M390.3 447.9h0.90M378.0 455.0h0.90M382.3 449.5h0.90M392.7 438.1h0.90M382.9 455.0h0.90M400.9 442.1h0.90M390.3 449.5h0.90M391.2 444.4h0.90M399.3 433.1h0.90M395.8 440.9h0.90M388.8 439.8h0.90M377.2 454.7h0.90M391.8 454.3h0.90M377.6 454.6h0.90M390.0 444.0h0.90M381.3 455.3h0.90M396.1 442.2h0.90M390.0 438.7h0.90M384.1 447.2h0.90M394.6 448.4h0.90M393.7 450.1h0.90M388.0 443.5h0.90M387.5 444.2h0.90M397.0 447.3h0.90M390.0 446.8h0.90M386.3 447.9h0.90M389.0 441.0h0.90M382.2 446.7h0.90M391.2 431.9h0.90M396.3 445.0h0.90M387.3 448.1h0.90M385.5 443.2h0.90M391.4 450.9h0.90M395.0 448.0h0.90M397.3 439.3h0.90M398.9 439.3h0.90M372.5 450.8h0.90M396.2 444.0h0.90M369.5 445.5h0.90M393.7 438.1h0.90M389.6 440.9h0.90M386.9 455.0h0.90M384.4 446.9h0.90M380.9 441.9h0.90M397.8 441.6h0.90M380.4 442.4h0.90M384.0 445.3h0.90M388.5 439.9h0.90M398.9 436.9h0.90M382.3 445.3h0.90M395.3 451.6h0.90M384.4 450.3h0.90M397.0 443.2h0.90M380.8 451.5h0.90M392.6 446.1h0.90M394.9 449.1h0.90M385.3 446.7h0.90M395.9 439.8h0.90M401.6 437.6h0.90M386.6 442.8h0.90M392.1 446.2h0.90M387.8 442.0h0.90M394.9 437.9h0.90M396.7 445.8h0.90M387.4 442.9h0.90M389.2 447.7h0.90M382.9 448.6h0.90M388.2 449.2h0.90M385.6 441.4h0.90M399.0 436.7h0.90M401.7 452.1h0.90M388.7 453.6h0.90M397.9 441.7h0.90M394.8 438.5h0.90M376.8 454.5h0.90M392.7 453.4h0.90M405.1 446.9h0.90M384.1 449.8h0.90M386.9 449.5h0.90M387.4 442.9h0.90M380.5 449.2h0.90M395.5 440.5h0.90M386.5 440.3h0.90M389.3 444.2h0.90M382.5 446.9h0.90M397.2 443.2h0.90M385.5 446.6h0.90M379.0 443.9h0.90M390.7 451.4h0.90M386.2 450.9h0.90M401.5 431.4h0.90M383.4 450.0h0.90M384.7 453.5h0.90M387.4 444.2h0.90M391.2 445.2h0.90M391.7 444.5h0.90M394.0 450.3h0.90M384.5 447.0h0.90M391.8 440.5h0.90M386.3 437.0h0.90M392.3 439.4h0.90M374.3 455.1h0.90M390.8 448.3h0.90M381.2 450.1h0.90M378.4 448.8h0.90M384.0 451.6h0.90M376.8 451.7h0.90M375.9 454.7h0.90M389.9 443.0h0.90M388.5 441.9h0.90M394.0 443.1h0.90M387.8 440.8h0.90M385.9 441.2h0.90M394.0 447.7h0.90M387.0 448.6h0.90M389.5 446.1h0.90M392.6 454.6h0.90M387.9 440.0h0.90M398.8 436.1h0.90M398.9 439.0h0.90M386.6 446.8h0.90M388.5 441.2h0.90M393.2 449.9h0.90M396.6 432.7h0.90M401.5 440.7h0.90M384.5 451.6h0.90M386.2 454.1h0.90M384.8 447.5h0.90M386.9 452.5h0.90M399.4 439.5h0.90M378.1 447.6h0.90M375.7 448.4h0.90M386.2 452.6h0.90M396.5 448.6h0.90M392.2 439.8h0.90M403.5 443.6h0.90M392.3 449.1h0.90M397.3 441.2h0.90M383.4 442.1h0.90M391.1 444.7h0.90M387.7 448.9h0.90M394.6 438.7h0.90M395.6 451.3h0.90M396.2 447.5h0.90M392.4 438.7h0.90M393.0 437.5h0.90M380.9 449.0h0.90M389.6 443.7h0.90M384.7 451.1h0.90M386.8 449.3h0.90M384.2 440.0h0.90M395.5 447.4h0.90M385.4 441.9h0.90M387.4 447.8h0.90M401.8 446.1h0.90M390.5 442.2h0.90M390.5 443.1h0.90M384.8 447.3h0.90M387.3 434.7h0.90M395.6 445.0h0.90M405.4 445.9h0.90M385.4 446.6h0.90M393.1 439.9h0.90M388.3 448.2h0.90M386.2 452.5h0.90M377.0 452.0h0.90M388.9 442.5h0.90M399.8 441.1h0.90M385.2 444.3h0.90M396.0 441.2h0.90M389.6 446.3h0.90M397.6 447.0h0.90M389.5 449.7h0.90M390.9 441.3h0.90M378.8 446.5h0.90M390.9 438.7h0.90M401.9 437.8h0.90M396.7 441.8h0.90M387.5 452.2h0.90M391.2 446.8h0.90M378.7 448.2h0.90M384.9 442.6h0.90M394.8 440.3h0.90M372.0 455.1h0.90M389.6 451.2h0.90M388.3 447.9h0.90M392.1 440.3h0.90M391.5 444.2h0.90M398.9 436.2h0.90M395.3 449.2h0.90M389.7 437.4h0.90M390.5 448.8h0.90M386.5 447.5h0.90M396.9 442.7h0.90M375.4 444.8h0.90M398.9 434.1h0.90M392.2 453.5h0.90M390.0 453.5h0.90M402.9 445.5h0.90M390.9 437.4h0.90M395.3 452.5h0.90M390.4 443.8h0.90M396.2 445.9h0.90M381.1 448.3h0.90M392.7 449.8h0.90M405.0 439.0h0.90M392.0 442.2h0.90M395.8 451.3h0.90M408.2 444.3h0.90M385.6 437.6h0.90M400.2 438.1h0.90M390.2 442.8h0.90M387.8 447.2h0.90M391.0 442.9h0.90M391.3 444.7h0.90M378.7 451.3h0.90M406.6 441.0h0.90M399.7 453.4h0.90M406.0 438.2h0.90M380.2 443.9h0.90M388.4 450.4h0.90M384.1 441.2h0.90M390.9 439.2h0.90M405.1 438.4h0.90M384.2 445.5h0.90M385.6 445.7h0.90M399.3 446.1h0.90M389.6 439.1h0.90M383.0 446.9h0.90M384.9 446.6h0.90M381.7 445.2h0.90M402.6 447.6h0.90M385.6 449.3h0.90M382.8 441.9h0.90M393.9 435.7h0.90M389.1 454.4h0.90M394.7 438.7h0.90M381.1 455.4h0.90M383.8 447.8h0.90M400.7 442.4h0.90M389.7 438.1h0.90M377.3 442.6h0.90M378.2 447.7h0.90M374.9 449.9h0.90M390.8 443.7h0.90M387.7 447.9h0.90M387.1 438.9h0.90M386.1 443.1h0.90M407.3 431.5h0.90M399.2 442.3h0.90M388.4 441.5h0.90M378.1 448.7h0.90M390.4 444.8h0.90M386.6 447.0h0.90M394.3 450.2h0.90M388.4 450.3h0.90M391.6 441.0h0.90M376.7 455.6h0.90M382.5 450.5h0.90M385.7 452.4h0.90M389.8 444.9h0.90M383.1 440.2h0.90M389.2 445.5h0.90M400.8 434.8h0.90M383.1 447.6h0.90M392.8 447.9h0.90M389.8 437.7h0.90M387.2 446.2h0.90M390.6 445.6h0.90M392.8 437.4h0.90M386.7 452.5h0.90M382.2 440.7h0.90M392.2 446.3h0.90M391.2 441.8h0.90M395.8 448.5h0.90M396.3 439.3h0.90M388.6 444.5h0.90M389.0 454.9h0.90M376.8 445.3h0.90M374.4 444.6h0.90M400.4 448.4h0.90M383.5 447.3h0.90M384.3 451.5h0.90M399.8 439.7h0.90M378.6 450.8h0.90M394.6 441.6h0.90M382.3 451.6h0.90M384.3 447.5h0.90M386.1 450.0h0.90M390.8 443.4h0.90M388.0 450.3h0.90M392.8 438.2h0.90M379.1 441.5h0.90M401.6 436.9h0.90M386.8 449.1h0.90M372.5 449.8h0.90M382.5 451.4h0.90M393.6 449.0h0.90M380.5 454.9h0.90M399.5 444.5h0.90M383.1 451.7h0.90M381.9 444.1h0.90M398.3 444.2h0.90M400.4 431.6h0.90M381.2 448.6h0.90M373.2 452.9h0.90M399.5 439.3h0.90M388.5 449.2h0.90M394.1 444.7h0.90M403.5 443.3h0.90M406.3 447.2h0.90M394.3 445.3h0.90M381.2 450.4h0.90M386.4 451.1h0.90M391.7 438.1h0.90M388.8 439.8h0.90M386.5 447.4h0.90M399.9 440.4h0.90M378.6 451.0h0.90M401.6 440.2h0.90M381.6 452.6h0.90M387.4 452.0h0.90M389.9 449.2h0.90M392.9 440.2h0.90M398.4 441.9h0.90M376.4 452.2h0.90M382.2 450.9h0.90M383.6 449.5h0.90M386.9 445.8h0.90M382.1 453.4h0.90M398.7 437.7h0.90M390.0 437.3h0.90M387.6 444.2h0.90M388.7 432.1h0.90M383.7 442.5h0.90M377.4 453.4h0.90M393.9 444.3h0.90M388.9 447.4h0.90M387.9 446.4h0.90M380.6 449.8h0.90M393.3 450.5h0.90M389.2 443.2h0.90M399.4 440.4h0.90M399.7 442.3h0.90M387.7 454.2h0.90M401.4 436.3h0.90M396.9 443.5h0.90M405.7 447.0h0.90M387.6 446.8h0.90M396.8 441.8h0.90M395.8 437.9h0.90M384.5 450.9h0.90M391.0 442.7h0.90M387.5 454.2h0.90M390.5 448.2h0.90M388.6 444.5h0.90M378.0 450.2h0.90M391.9 448.1h0.90M402.9 451.3h0.90M389.2 444.9h0.90M397.9 441.3h0.90M401.9 429.5h0.90M392.7 449.4h0.90M397.8 437.6h0.90M394.3 450.8h0.90M380.2 450.8h0.90M395.8 443.6h0.90M379.9 451.5h0.90M389.6 446.3h0.90M405.9 435.5h0.90M380.0 443.9h0.90M378.0 447.5h0.90M386.4 448.1h0.90M394.7 447.5h0.90M397.4 445.0h0.90M382.1 445.2h0.90M384.5 449.2h0.90M395.3 445.9h0.90M390.3 449.1h0.90M392.8 436.0h0.90M382.9 449.9h0.90M401.5 442.5h0.90M387.1 439.2h0.90M387.7 445.1h0.90M390.1 452.6h0.90M387.5 445.6h0.90M399.2 443.3h0.90M391.5 447.0h0.90M377.1 444.5h0.90M374.0 445.8h0.90M390.7 435.0h0.90M379.4 450.3h0.90M400.8 436.5h0.90M393.9 449.2h0.90M388.4 453.2h0.90M382.8 450.0h0.90M398.6 438.6h0.90M385.4 443.3h0.90M388.0 442.2h0.90M373.3 454.5h0.90M388.4 443.1h0.90M380.9 450.4h0.90M369.1 452.7h0.90M390.1 451.5h0.90M382.7 439.4h0.90M378.4 450.2h0.90M412.7 437.1h0.90M379.8 451.0h0.90M377.9 444.2h0.90M392.4 447.1h0.90M389.7 442.6h0.90M428.6 415.8h0.90M438.3 406.7h0.90M427.7 410.8h0.90M431.4 425.9h0.90M429.7 410.2h0.90M435.7 416.6h0.90M431.3 416.4h0.90M425.7 418.7h0.90M419.4 422.7h0.90M431.1 418.1h0.90M418.7 424.7h0.90M421.0 417.5h0.90M430.2 415.7h0.90M432.9 405.9h0.90M437.2 413.0h0.90M426.6 435.1h0.90M437.4 412.2h0.90M417.7 429.4h0.90M432.3 416.3h0.90M437.1 423.0h0.90M441.3 417.7h0.90M433.6 418.2h0.90M437.5 411.3h0.90M427.9 421.8h0.90M425.8 413.3h0.90M434.6 410.3h0.90M426.5 419.4h0.90M428.3 421.5h0.90M436.8 423.1h0.90M419.7 424.8h0.90M430.4 419.9h0.90M423.1 421.8h0.90M433.5 401.5h0.90M438.9 410.1h0.90M428.0 405.2h0.90M446.9 407.0h0.90M434.3 418.5h0.90M432.1 423.5h0.90M432.5 414.8h0.90M440.3 423.8h0.90M428.2 418.0h0.90M431.6 413.5h0.90M420.5 421.2h0.90M423.4 421.5h0.90M429.9 412.7h0.90M420.5 421.6h0.90M437.7 410.7h0.90M432.5 413.7h0.90M428.8 422.8h0.90M438.6 411.7h0.90M427.1 410.1h0.90M445.6 412.4h0.90M425.5 414.0h0.90M424.6 417.2h0.90M439.2 420.9h0.90M430.1 429.7h0.90M439.4 413.6h0.90M431.9 413.7h0.90M411.6 437.6h0.90M428.0 414.7h0.90M432.8 417.0h0.90M427.8 429.8h0.90M427.0 417.2h0.90M425.8 416.2h0.90M419.0 429.9h0.90M433.3 416.9h0.90M435.3 423.3h0.90M423.5 418.2h0.90M422.1 413.2h0.90M430.7 416.9h0.90M442.6 416.8h0.90M438.5 420.3h0.90M429.3 419.3h0.90M433.1 424.8h0.90M429.6 422.6h0.90M441.1 416.8h0.90M432.6 414.9h0.90M431.7 425.2h0.90M436.0 406.0h0.90M430.4 406.8h0.90M420.0 416.3h0.90M439.7 420.6h0.90M427.5 411.3h0.90M431.7 413.6h0.90M433.1 410.8h0.90M426.8 417.2h0.90M424.9 417.4h0.90M422.1 421.8h0.90M431.8 414.7h0.90M430.4 418.0h0.90M421.9 429.8h0.90M427.0 412.8h0.90M433.6 415.5h0.90M433.1 417.8h0.90M425.8 415.5h0.90M433.7 411.2h0.90M427.6 421.0h0.90M421.3 425.9h0.90M447.1 416.3h0.90M425.6 430.1h0.90M434.0 417.2h0.90M441.1 406.1h0.90M426.4 418.5h0.90M443.0 415.3h0.90M431.2 420.6h0.90M428.4 418.0h0.90M416.6 424.0h0.90M437.8 416.6h0.90M430.0 424.4h0.90M440.4 418.2h0.90M425.6 422.7h0.90M430.7 415.5h0.90M428.3 412.6h0.90M440.3 410.7h0.90M432.8 408.9h0.90M423.3 423.7h0.90M436.0 411.1h0.90M434.6 423.0h0.90M420.4 414.4h0.90M428.7 420.8h0.90M432.7 407.0h0.90M418.3 423.8h0.90M428.8 421.4h0.90M426.0 426.0h0.90M428.2 414.3h0.90M431.1 421.3h0.90M426.2 427.3h0.90M432.1 422.0h0.90M432.4 421.9h0.90M431.0 422.3h0.90M426.2 411.2h0.90M437.8 410.6h0.90M426.6 413.2h0.90M429.5 415.5h0.90M435.1 414.5h0.90M430.5 420.3h0.90M433.0 423.0h0.90M425.8 419.8h0.90M426.3 421.3h0.90M425.9 421.7h0.90M432.1 417.2h0.90M413.7 429.0h0.90M429.5 422.6h0.90M436.2 421.7h0.90M439.2 414.4h0.90M446.0 416.5h0.90M420.0 425.7h0.90M420.6 415.4h0.90M431.4 420.3h0.90M415.9 423.9h0.90M418.8 414.0h0.90M432.1 418.0h0.90M426.9 417.2h0.90M416.1 425.5h0.90M429.2 407.4h0.90M423.2 421.4h0.90M433.0 420.4h0.90M421.7 429.7h0.90M433.2 422.1h0.90M436.5 413.7h0.90M433.9 409.9h0.90M433.7 410.4h0.90M435.4 417.0h0.90M422.7 420.7h0.90M427.5 432.5h0.90M439.4 410.1h0.90M417.7 419.8h0.90M424.9 423.4h0.90M436.4 415.3h0.90M426.5 412.3h0.90M433.7 405.0h0.90M427.3 420.0h0.90M444.4 419.8h0.90M446.0 398.5h0.90M419.9 413.8h0.90M433.2 421.4h0.90M418.5 411.6h0.90M432.4 422.0h0.90M423.5 415.9h0.90M431.5 409.5h0.90M433.2 409.1h0.90M434.6 419.2h0.90M432.7 409.6h0.90M429.3 428.7h0.90M433.1 415.0h0.90M426.9 420.9h0.90M437.0 411.1h0.90M436.8 419.9h0.90M421.0 431.3h0.90M436.7 424.6h0.90M415.8 417.7h0.90M427.6 418.2h0.90M439.2 414.3h0.90M442.3 404.8h0.90M433.4 414.9h0.90M427.8 408.3h0.90M435.8 416.7h0.90M424.9 414.1h0.90M423.7 433.8h0.90M436.2 413.1h0.90M430.2 414.1h0.90M431.4 418.2h0.90M428.9 411.6h0.90M432.9 414.0h0.90M433.4 419.0h0.90M438.7 413.5h0.90M425.5 412.3h0.90M437.7 410.9h0.90M429.6 420.5h0.90M433.9 425.8h0.90M429.0 429.1h0.90M428.8 425.8h0.90M412.6 429.1h0.90M418.5 419.9h0.90M431.3 421.5h0.90M428.9 404.0h0.90M424.3 421.5h0.90M427.8 418.7h0.90M428.5 417.5h0.90M433.1 420.9h0.90M414.6 424.4h0.90M426.5 419.8h0.90M441.4 402.7h0.90M442.2 418.4h0.90M431.1 426.5h0.90M428.8 413.1h0.90M431.4 406.1h0.90M429.9 419.4h0.90M435.1 415.0h0.90M431.6 416.7h0.90M427.1 423.9h0.90M434.9 421.4h0.90M427.0 428.3h0.90M425.3 412.4h0.90M434.5 417.7h0.90M424.3 417.4h0.90M438.9 420.7h0.90M429.9 413.7h0.90M426.2 412.1h0.90M428.6 421.2h0.90M421.6 417.7h0.90M430.2 415.2h0.90M422.6 406.8h0.90M437.3 412.6h0.90M419.9 428.3h0.90M435.9 419.8h0.90M428.9 419.4h0.90M424.9 416.8h0.90M425.3 427.2h0.90M439.6 399.3h0.90M436.7 415.5h0.90M429.8 416.1h0.90M428.6 409.1h0.90M422.4 428.5h0.90M429.0 417.3h0.90M432.6 417.0h0.90M432.9 420.4h0.90M419.8 422.7h0.90M435.9 427.8h0.90M444.6 411.9h0.90M436.9 412.2h0.90M431.9 413.8h0.90M437.3 417.2h0.90M451.6 407.7h0.90M428.0 407.8h0.90M424.8 418.1h0.90M417.9 424.3h0.90M430.7 416.0h0.90M426.2 412.7h0.90M417.3 426.8h0.90M432.2 425.1h0.90M429.8 417.8h0.90M424.4 415.4h0.90M422.1 436.5h0.90M424.8 426.6h0.90M422.2 424.2h0.90M437.8 410.5h0.90M431.1 421.1h0.90M422.5 422.9h0.90M432.8 412.5h0.90M412.4 420.2h0.90M430.1 423.4h0.90M433.4 414.8h0.90M427.8 427.4h0.90M419.8 418.9h0.90M417.9 425.8h0.90M422.6 420.1h0.90M433.1 411.5h0.90M425.7 408.6h0.90M437.3 413.5h0.90M425.2 420.1h0.90M443.8 401.4h0.90M423.1 431.7h0.90M429.3 429.7h0.90M412.8 427.2h0.90M432.3 414.8h0.90M428.5 413.3h0.90M443.4 405.9h0.90M427.6 421.5h0.90M428.0 421.2h0.90M407.7 436.2h0.90M416.4 432.4h0.90M431.4 419.3h0.90M420.5 417.1h0.90M429.3 410.7h0.90M423.3 423.9h0.90M425.9 409.7h0.90M432.6 418.9h0.90M415.6 423.9h0.90M429.7 410.0h0.90M437.8 412.4h0.90M424.4 410.7h0.90M438.6 417.8h0.90M433.9 414.4h0.90M430.1 421.4h0.90M428.9 408.2h0.90M440.1 405.9h0.90M425.7 426.8h0.90M432.8 416.1h0.90M429.8 422.9h0.90M425.8 413.6h0.90M430.2 423.0h0.90M430.2 423.0h0.90M429.2 415.5h0.90M428.0 422.8h0.90M431.1 415.0h0.90M416.2 429.1h0.90M437.1 414.9h0.90M431.4 427.1h0.90M433.3 429.9h0.90M436.4 411.1h0.90M436.1 414.6h0.90M432.2 412.0h0.90M433.3 413.5h0.90M431.8 416.7h0.90M425.2 424.6h0.90M430.8 411.0h0.90M443.9 427.8h0.90M440.1 420.9h0.90M427.4 417.0h0.90M429.3 419.5h0.90M428.4 425.1h0.90M440.8 411.9h0.90M422.8 418.8h0.90M432.1 413.1h0.90M426.8 419.8h0.90M429.1 431.1h0.90M425.1 415.4h0.90M423.7 428.7h0.90M426.1 417.3h0.90M428.1 416.1h0.90M430.6 429.4h0.90M432.7 425.3h0.90M436.3 423.2h0.90M433.6 421.9h0.90M420.5 422.0h0.90M426.8 412.6h0.90M424.7 421.0h0.90M425.2 423.8h0.90M431.2 422.2h0.90M422.2 414.3h0.90M435.2 413.4h0.90M434.2 420.3h0.90M427.0 420.5h0.90M441.5 403.7h0.90M439.4 412.6h0.90M418.5 431.7h0.90M426.2 432.3h0.90M421.7 421.8h0.90M440.1 414.2h0.90M420.7 421.9h0.90M429.3 417.8h0.90M427.6 418.8h0.90M439.9 413.8h0.90M426.1 418.4h0.90M437.2 419.8h0.90M428.6 418.2h0.90M433.2 404.2h0.90M425.6 406.0h0.90M438.8 417.7h0.90M426.7 417.4h0.90M429.4 418.2h0.90M438.1 413.2h0.90M439.6 403.7h0.90M434.4 423.4h0.90M431.5 412.5h0.90M427.3 426.8h0.90M435.3 403.5h0.90M422.4 422.7h0.90M424.5 405.2h0.90M428.9 410.1h0.90M424.9 421.0h0.90M427.8 429.3h0.90M438.3 427.8h0.90M436.0 411.1h0.90M422.8 426.7h0.90M424.3 416.0h0.90M416.5 436.3h0.90M428.9 418.3h0.90M425.3 427.0h0.90M425.5 419.2h0.90M428.9 416.4h0.90M430.9 427.5h0.90M435.0 413.4h0.90M433.7 406.9h0.90M436.6 409.2h0.90M425.2 413.3h0.90M430.2 423.6h0.90M441.2 420.2h0.90M439.7 414.9h0.90M431.2 425.3h0.90M424.2 411.3h0.90M428.4 418.5h0.90M432.0 409.7h0.90M421.6 414.5h0.90M414.8 429.9h0.90M441.5 422.5h0.90M444.4 421.3h0.90M429.2 413.6h0.90M432.8 409.5h0.90M434.0 422.3h0.90M420.7 423.0h0.90M430.7 413.3h0.90M427.0 419.8h0.90M427.1 429.9h0.90M433.1 406.7h0.90M433.6 422.0h0.90M410.5 432.0h0.90M439.1 420.2h0.90M433.9 420.9h0.90M424.3 417.3h0.90M431.3 424.2h0.90M439.2 421.0h0.90M434.9 414.5h0.90M435.4 414.5h0.90M441.8 415.7h0.90M425.2 419.9h0.90M438.7 406.1h0.90M446.8 401.3h0.90M425.4 410.2h0.90M403.2 440.6h0.90M431.8 426.2h0.90M404.5 429.5h0.90M384.4 437.7h0.90M396.2 452.4h0.90M387.3 447.8h0.90M384.5 455.3h0.90M417.0 434.3h0.90M386.9 451.1h0.90M399.5 429.9h0.90M403.6 423.1h0.90M403.0 432.0h0.90M419.7 423.0h0.90M389.1 440.0h0.90M399.3 446.5h0.90M421.8 420.6h0.90M424.2 425.1h0.90M405.9 431.7h0.90M401.2 452.0h0.90M395.7 437.1h0.90M419.1 426.6h0.90M431.1 413.8h0.90M398.0 437.6h0.90M399.8 426.3h0.90M396.0 443.6h0.90M428.8 430.7h0.90M404.7 425.7h0.90M410.3 423.2h0.90M401.1 442.0h0.90M420.1 414.4h0.90M410.7 421.2h0.90M426.2 429.3h0.90M407.9 440.3h0.90M404.5 445.5h0.90M406.4 419.7h0.90M419.3 439.7h0.90M428.7 425.9h0.90M422.7 418.5h0.90M386.2 438.3h0.90M378.1 444.4h0.90M423.1 418.1h0.90M399.8 432.6h0.90M397.6 430.4h0.90M415.6 422.8h0.90M410.8 432.1h0.90M407.7 430.4h0.90M411.9 424.3h0.90M401.2 431.7h0.90M405.7 432.1h0.90M405.6 441.3h0.90M412.0 428.6h0.90M398.1 433.8h0.90M432.8 423.6h0.90M417.3 431.8h0.90M405.5 430.3h0.90M419.0 418.5h0.90M413.9 429.9h0.90M420.8 424.9h0.90M416.1 425.6h0.90M392.8 447.1h0.90M426.5 422.9h0.90M429.5 432.1h0.90M404.7 436.6h0.90M436.2 397.6h0.90M394.3 448.1h0.90M425.4 424.6h0.90M403.0 431.7h0.90M404.9 428.0h0.90M411.8 410.1h0.90M424.9 423.9h0.90M418.1 420.6h0.90M394.7 450.9h0.90M427.1 425.6h0.90M402.9 441.9h0.90M407.2 433.5h0.90M409.5 426.9h0.90M389.3 443.6h0.90M427.8 425.1h0.90M406.3 433.4h0.90M398.7 448.9h0.90M402.8 441.1h0.90M396.6 450.6h0.90M394.2 444.5h0.90M412.6 426.0h0.90M407.1 414.5h0.90M429.6 422.7h0.90M438.2 405.5h0.90M419.6 421.6h0.90M421.5 428.1h0.90M417.7 434.9h0.90M417.7 423.9h0.90M424.2 426.2h0.90M412.1 429.8h0.90M418.6 416.8h0.90M425.6 432.9h0.90M432.8 401.9h0.90M403.5 441.6h0.90M393.5 437.6h0.90M405.1 431.1h0.90M444.6 407.2h0.90M379.9 448.7h0.90M401.0 426.0h0.90M393.6 442.3h0.90M403.6 426.3h0.90M406.9 416.5h0.90M395.9 440.0h0.90M429.5 423.7h0.90M438.6 413.4h0.90M401.5 433.8h0.90M417.4 417.2h0.90M404.6 451.0h0.90M395.4 442.9h0.90M422.2 427.1h0.90M412.7 414.2h0.90M398.1 447.6h0.90M415.4 421.8h0.90M428.4 416.7h0.90M397.9 432.0h0.90M380.8 437.2h0.90M414.5 429.8h0.90M429.0 428.2h0.90M403.6 423.8h0.90M420.3 429.3h0.90M401.3 435.8h0.90M410.0 424.8h0.90M411.8 442.4h0.90M414.2 432.7h0.90M418.1 423.0h0.90M411.1 435.4h0.90M400.1 422.4h0.90M393.5 454.1h0.90M380.0 445.5h0.90M403.7 440.4h0.90M408.4 431.4h0.90M406.7 439.5h0.90M407.3 428.7h0.90M400.1 428.4h0.90M400.7 433.0h0.90M400.8 438.3h0.90M416.7 445.4h0.90M417.7 423.3h0.90M413.1 445.7h0.90M382.5 442.4h0.90M401.6 446.3h0.90M404.3 450.9h0.90M416.9 439.6h0.90M422.4 421.9h0.90M398.3 438.9h0.90M404.5 445.9h0.90M436.0 405.8h0.90M392.9 430.4h0.90M415.8 426.2h0.90M433.9 422.5h0.90M407.7 444.1h0.90M410.0 438.1h0.90M403.8 426.4h0.90M414.4 433.5h0.90M404.2 448.8h0.90M400.0 415.9h0.90M395.0 428.3h0.90M393.0 430.8h0.90M431.9 421.0h0.90M385.2 442.4h0.90M425.8 427.5h0.90M408.2 436.7h0.90M405.4 429.2h0.90M404.7 444.9h0.90M410.9 430.7h0.90M422.5 433.5h0.90M390.7 437.6h0.90M418.2 428.7h0.90M379.5 452.1h0.90M396.2 439.3h0.90M394.1 450.1h0.90M407.3 438.5h0.90M420.5 430.6h0.90M408.8 453.7h0.90M411.7 428.6h0.90M402.7 429.0h0.90M421.6 413.4h0.90M383.8 450.9h0.90M381.2 445.1h0.90M408.4 440.3h0.90M382.6 453.4h0.90M418.1 442.2h0.90M413.3 434.3h0.90M393.7 439.1h0.90M403.4 449.4h0.90M412.0 430.5h0.90M404.1 415.1h0.90M401.3 430.0h0.90M415.8 426.0h0.90M393.7 431.8h0.90M408.3 425.7h0.90M425.4 424.3h0.90M409.8 405.7h0.90M390.6 436.4h0.90M392.9 434.8h0.90M392.5 434.2h0.90M414.4 435.0h0.90M414.8 428.7h0.90M388.1 439.9h0.90M392.9 446.1h0.90M410.3 430.2h0.90M422.8 425.9h0.90M402.4 426.0h0.90M398.2 443.1h0.90M415.6 414.5h0.90M404.9 429.0h0.90M405.1 447.5h0.90M441.7 414.8h0.90M410.7 436.4h0.90M403.6 423.6h0.90M413.8 430.3h0.90M403.1 428.4h0.90M410.6 419.5h0.90M400.4 435.2h0.90M423.3 427.8h0.90M410.3 429.4h0.90M406.7 426.0h0.90M422.4 422.4h0.90M389.4 439.1h0.90M411.1 435.8h0.90M423.0 433.1h0.90M423.7 425.1h0.90M404.2 432.8h0.90M406.4 446.7h0.90M419.5 421.9h0.90M386.5 453.1h0.90M429.5 429.8h0.90M383.2 447.9h0.90M388.6 434.2h0.90M427.3 430.8h0.90M397.7 418.7h0.90M395.8 440.4h0.90M428.7 424.7h0.90M411.6 427.2h0.90M408.4 448.2h0.90M415.9 425.2h0.90M413.5 428.0h0.90M415.8 448.1h0.90M427.5 436.3h0.90M420.4 434.1h0.90M391.9 448.6h0.90M410.9 428.5h0.90M414.5 431.3h0.90M419.6 433.0h0.90M394.6 438.1h0.90M420.7 420.4h0.90M388.7 447.5h0.90M404.5 440.1h0.90M409.8 442.3h0.90M410.8 433.1h0.90M400.3 425.8h0.90M409.6 427.6h0.90M411.7 421.0h0.90M442.0 421.3h0.90M403.0 434.7h0.90M423.3 432.9h0.90M403.9 431.6h0.90M407.1 430.7h0.90M397.0 437.8h0.90M397.7 429.7h0.90M428.6 421.4h0.90M403.3 426.0h0.90M412.7 428.4h0.90M395.3 447.8h0.90M417.6 428.5h0.90M413.0 422.7h0.90M416.7 431.6h0.90M421.1 417.2h0.90M408.6 430.3h0.90M403.9 441.4h0.90M426.4 441.8h0.90M415.3 427.7h0.90M429.4 409.5h0.90M406.1 438.8h0.90M408.0 426.1h0.90M431.6 423.5h0.90M403.2 426.1h0.90M433.6 399.8h0.90M438.4 408.3h0.90M408.8 427.7h0.90M424.7 432.0h0.90M416.5 413.6h0.90M404.1 441.4h0.90M395.6 436.0h0.90M417.6 407.5h0.90M421.0 419.6h0.90M403.0 433.4h0.90M399.0 434.7h0.90M395.8 446.4h0.90M392.1 449.0h0.90M416.4 415.7h0.90M417.5 431.8h0.90M408.9 434.6h0.90M395.7 453.1h0.90M396.9 438.7h0.90M415.6 435.6h0.90M392.9 445.0h0.90M411.2 432.4h0.90M401.5 437.6h0.90M417.2 428.2h0.90M394.1 432.6h0.90M376.2 447.3h0.90M402.5 431.1h0.90M386.3 443.5h0.90M426.9 432.7h0.90M403.7 437.3h0.90M405.4 431.7h0.90M421.5 420.2h0.90M382.4 446.0h0.90M415.5 438.0h0.90M419.8 420.1h0.90M418.0 429.8h0.90M393.6 440.2h0.90M406.9 418.6h0.90M429.7 411.8h0.90M396.3 441.2h0.90M404.6 442.3h0.90M413.4 420.1h0.90M416.6 443.0h0.90M409.1 438.3h0.90M442.3 428.6h0.90M400.3 439.7h0.90M424.2 427.6h0.90M393.9 447.4h0.90M400.0 421.3h0.90M415.7 419.9h0.90M399.6 432.2h0.90M434.5 419.1h0.90M406.3 427.0h0.90M417.3 425.9h0.90M414.4 430.8h0.90M401.0 450.9h0.90M425.6 419.0h0.90M439.1 432.4h0.90M431.0 422.5h0.90M435.3 432.5h0.90M425.5 416.6h0.90M419.3 419.6h0.90M423.1 414.2h0.90M419.3 436.4h0.90M395.2 432.9h0.90M408.0 415.5h0.90M424.6 425.2h0.90M402.9 444.3h0.90M411.4 435.6h0.90M427.4 423.8h0.90M400.8 430.4h0.90M447.3 409.3h0.90M416.3 423.2h0.90M427.5 418.7h0.90M425.9 428.0h0.90M425.1 420.0h0.90M412.5 429.3h0.90M399.5 437.7h0.90M390.4 443.0h0.90M390.2 448.4h0.90M396.5 437.5h0.90M407.4 437.7h0.90M390.5 434.4h0.90M399.0 436.6h0.90M399.2 441.7h0.90M423.0 428.6h0.90M402.9 441.9h0.90M399.0 440.7h0.90M439.0 426.2h0.90M406.4 437.3h0.90M429.9 418.8h0.90M412.4 448.3h0.90M414.0 443.7h0.90M413.2 430.2h0.90M391.7 447.7h0.90M422.7 406.4h0.90M424.7 403.3h0.90M415.7 453.2h0.90M427.5 424.8h0.90M408.0 422.7h0.90M401.6 434.6h0.90M425.9 407.5h0.90M390.2 435.0h0.90M409.2 433.0h0.90M418.2 415.6h0.90M406.5 434.5h0.90M420.8 434.3h0.90M391.0 443.9h0.90M401.2 426.5h0.90M407.3 426.0h0.90M393.4 446.6h0.90M391.8 432.0h0.90M394.9 430.5h0.90M399.9 426.7h0.90M419.7 440.4h0.90M408.0 439.8h0.90M389.2 451.6h0.90M412.7 435.2h0.90M435.7 430.7h0.90M411.7 434.9h0.90M399.2 429.2h0.90M413.1 437.7h0.90M408.6 413.5h0.90M394.5 451.2h0.90M429.4 413.8h0.90M406.0 436.0h0.90M440.4 419.7h0.90M398.9 437.2h0.90M395.0 440.8h0.90M412.3 430.3h0.90M417.9 415.1h0.90M412.8 422.4h0.90M418.4 438.5h0.90M408.1 421.2h0.90M416.0 434.7h0.90M432.2 431.4h0.90M405.3 427.5h0.90M414.1 418.4h0.90M405.5 442.2h0.90M407.0 432.9h0.90M402.0 443.0h0.90M403.0 430.8h0.90M404.4 439.5h0.90M387.8 445.1h0.90M428.1 428.9h0.90M412.3 424.6h0.90M416.9 425.7h0.90M430.3 394.2h0.90M376.0 444.3h0.90M417.4 430.6h0.90M416.6 437.3h0.90M421.7 416.4h0.90M405.0 442.2h0.90M399.7 432.1h0.90M390.3 436.3h0.90M412.8 416.1h0.90M429.1 404.2h0.90M394.1 432.1h0.90M411.6 430.0h0.90M413.1 429.2h0.90M399.7 436.9h0.90M375.9 441.8h0.90M423.2 424.7h0.90M386.3 448.2h0.90M420.8 415.9h0.90M396.3 451.5h0.90M424.1 424.2h0.90M427.0 418.4h0.90M404.1 438.9h0.90M395.6 446.2h0.90M405.4 431.0h0.90M412.8 437.2h0.90M390.8 440.4h0.90M406.3 436.5h0.90M427.9 431.9h0.90M428.9 441.5h0.90M429.6 426.0h0.90M387.0 444.1h0.90M398.0 441.7h0.90M410.0 436.3h0.90M407.4 433.8h0.90M419.3 421.3h0.90M392.9 446.1h0.90M434.6 422.1h0.90M418.7 413.5h0.90M419.4 424.9h0.90M402.9 432.6h0.90M390.2 451.1h0.90M389.2 445.0h0.90M417.4 417.0h0.90M410.4 438.8h0.90M434.6 415.2h0.90M414.5 431.0h0.90M395.1 452.1h0.90M418.1 410.7h0.90M410.7 441.1h0.90M408.3 428.3h0.90M421.3 429.4h0.90M390.2 447.2h0.90M395.0 446.5h0.90M431.3 421.6h0.90M389.8 446.7h0.90M394.7 450.5h0.90M390.9 443.8h0.90M396.1 427.6h0.90M401.7 437.6h0.90M397.6 448.4h0.90M397.1 433.4h0.90M411.4 426.9h0.90M405.8 441.1h0.90M410.9 441.6h0.90M379.9 444.2h0.90M429.4 427.5h0.90M415.8 437.9h0.90M405.8 433.6h0.90M412.2 422.2h0.90M415.6 433.2h0.90M401.9 431.6h0.90M410.4 443.3h0.90M389.2 440.8h0.90M413.5 428.1h0.90M411.1 431.0h0.90M403.3 455.6h0.90M413.3 421.4h0.90M429.2 418.0h0.90M390.6 444.7h0.90M438.0 421.1h0.90M419.9 412.9h0.90M424.8 425.1h0.90M405.4 432.0h0.90M433.3 416.5h0.90M406.7 437.0h0.90M414.9 422.8h0.90" stroke="#000" stroke-width="0.9" stroke-opacity="0.55" fill="none" filter="url(#sb)"/>
<path d="M438.9 381.4h1.00M444.8 373.1h1.00M426.3 384.1h1.00M450.0 391.6h1.00M426.3 393.6h1.00M434.2 382.6h1.00M415.5 392.5h1.00M434.1 384.3h1.00M427.2 377.6h1.00M423.7 383.5h1.00M424.0 383.8h1.00M427.7 378.6h1.00M449.9 383.6h1.00M429.7 379.7h1.00M435.0 384.3h1.00M442.7 388.2h1.00M445.2 371.0h1.00M440.4 369.4h1.00M436.1 375.2h1.00M415.1 391.5h1.00M441.7 381.4h1.00M421.5 377.6h1.00M436.8 377.4h1.00M427.8 390.3h1.00M443.3 385.1h1.00M430.4 386.3h1.00M435.3 394.7h1.00M433.4 377.2h1.00M416.7 387.6h1.00M446.8 377.4h1.00M439.0 391.2h1.00M435.1 387.7h1.00M419.4 380.6h1.00M435.8 370.9h1.00M421.4 387.1h1.00M422.5 383.9h1.00M436.4 385.3h1.00M429.1 391.7h1.00M432.4 379.6h1.00M438.3 372.4h1.00M435.0 398.1h1.00M422.4 390.9h1.00M435.1 390.0h1.00M432.1 397.9h1.00M438.4 385.4h1.00M421.7 391.2h1.00M427.8 385.6h1.00M441.0 377.9h1.00M433.6 379.3h1.00M425.0 392.1h1.00M434.5 391.2h1.00M429.3 371.9h1.00M428.4 395.7h1.00M438.8 387.6h1.00M429.0 395.9h1.00M418.0 393.4h1.00M444.3 377.0h1.00M443.0 383.7h1.00M440.4 378.4h1.00M442.3 376.4h1.00M430.1 382.7h1.00M447.4 375.2h1.00M444.4 380.2h1.00M426.8 387.8h1.00M436.6 396.3h1.00M419.0 395.3h1.00M420.2 405.6h1.00M440.1 377.9h1.00M438.5 377.5h1.00M426.1 389.0h1.00M441.3 380.8h1.00M427.7 374.0h1.00M415.0 385.8h1.00M436.1 373.6h1.00M438.9 379.6h1.00M436.7 375.1h1.00M427.3 389.0h1.00M417.1 388.3h1.00M443.9 390.0h1.00M443.7 373.2h1.00M414.0 396.5h1.00M429.1 384.9h1.00M439.4 369.9h1.00M440.7 380.1h1.00M447.2 379.4h1.00M419.6 388.7h1.00M419.5 387.3h1.00M440.1 377.0h1.00M414.8 398.4h1.00M427.3 383.8h1.00M421.9 399.2h1.00M435.6 382.1h1.00M433.8 388.0h1.00M446.8 369.3h1.00M434.4 389.3h1.00M432.3 372.9h1.00M430.8 385.3h1.00M423.9 399.2h1.00M438.8 377.1h1.00M429.7 389.0h1.00M452.1 371.0h1.00M433.3 397.5h1.00M428.1 391.3h1.00M428.2 394.0h1.00M406.5 393.4h1.00M428.9 398.4h1.00M425.3 404.6h1.00M428.7 394.2h1.00M412.1 412.8h1.00M415.4 395.0h1.00M419.6 395.8h1.00M415.3 403.7h1.00M429.1 396.3h1.00M442.2 406.8h1.00M437.5 400.3h1.00M428.4 401.6h1.00M428.6 406.4h1.00M431.4 387.6h1.00M415.7 391.9h1.00M440.6 392.3h1.00M437.3 399.3h1.00M424.8 398.9h1.00M428.7 381.1h1.00M436.3 392.4h1.00M419.7 412.1h1.00M426.5 394.8h1.00M432.1 406.4h1.00M431.6 404.6h1.00M437.7 386.8h1.00M441.0 397.5h1.00M442.2 386.7h1.00M435.5 393.5h1.00M433.5 403.8h1.00M421.0 398.5h1.00M422.2 383.8h1.00M429.8 390.9h1.00M430.4 402.3h1.00M427.6 402.0h1.00M430.5 390.0h1.00M430.4 398.5h1.00M442.8 390.1h1.00M385.6 423.1h1.00M395.6 419.2h1.00M396.1 417.1h1.00M402.6 439.7h1.00M403.6 419.6h1.00M406.1 418.1h1.00M403.5 397.2h1.00M394.8 411.4h1.00M402.7 422.7h1.00M403.0 421.2h1.00M394.4 428.2h1.00M410.7 424.9h1.00M372.2 427.6h1.00M397.8 409.3h1.00M390.9 426.7h1.00M406.9 434.4h1.00M410.7 411.5h1.00M404.9 405.8h1.00M417.9 410.4h1.00M369.6 448.0h1.00M406.6 416.3h1.00M382.8 404.0h1.00M408.4 409.6h1.00M385.2 419.4h1.00M404.7 422.9h1.00M386.9 423.2h1.00M395.5 430.9h1.00M377.3 425.6h1.00M404.1 433.3h1.00M396.4 436.6h1.00M381.0 408.3h1.00M417.2 411.9h1.00M381.8 418.9h1.00M410.5 417.3h1.00M388.2 414.9h1.00M397.4 430.6h1.00M402.8 428.2h1.00M385.2 413.9h1.00M422.4 398.4h1.00M395.1 443.6h1.00M395.6 429.5h1.00M396.2 419.4h1.00M400.6 400.4h1.00M402.5 414.5h1.00M401.4 416.4h1.00M397.7 432.8h1.00M391.2 409.0h1.00M405.3 404.9h1.00M420.2 426.0h1.00M383.9 423.9h1.00M407.9 414.0h1.00M401.8 426.0h1.00M399.1 416.0h1.00M391.2 439.1h1.00M398.1 414.2h1.00M407.3 427.3h1.00M413.9 413.6h1.00M426.8 411.8h1.00M403.5 426.8h1.00M412.3 415.4h1.00M440.2 426.6h1.00M448.5 427.6h1.00M432.3 379.3h1.00M407.9 423.6h1.00M437.9 420.8h1.00M434.7 373.1h1.00M416.9 372.9h1.00M379.2 414.4h1.00M378.0 371.4h1.00M374.9 372.1h1.00M397.9 387.1h1.00" stroke="#000" stroke-width="1.0" stroke-opacity="0.42" fill="none" filter="url(#sb)"/>
<rect x="82.5" y="368" width="92.0" height="88.5" fill="none" stroke="#4a4a4a" stroke-width="1"/>
<path d="M121.3 368 V456.5 M82.5 431.3 H174.5" stroke="#4a4a4a" stroke-width="0.9" fill="none"/>
<rect x="177.5" y="368" width="91.0" height="88.5" fill="none" stroke="#4a4a4a" stroke-width="1"/>
<path d="M215.7 368 V456.5 M177.5 431.3 H268.5" stroke="#4a4a4a" stroke-width="0.9" fill="none"/>
<rect x="272.5" y="368" width="91.5" height="88.5" fill="none" stroke="#4a4a4a" stroke-width="1"/>
<path d="M310.7 368 V456.5 M272.5 431.3 H364" stroke="#4a4a4a" stroke-width="0.9" fill="none"/>
<rect x="368.3" y="368" width="91.69999999999999" height="88.5" fill="none" stroke="#4a4a4a" stroke-width="1"/>
<path d="M407.2 368 V456.5 M368.3 431.3 H460" stroke="#4a4a4a" stroke-width="0.9" fill="none"/>
<text x="94.4" y="429.29999999999995" font-family="Liberation Sans, sans-serif" font-size="10.1" font-weight="normal" font-style="normal" text-anchor="end" fill="#111">2</text>
<text x="94.4" y="440.59999999999997" font-family="Liberation Sans, sans-serif" font-size="10.1" font-weight="normal" font-style="normal" text-anchor="end" fill="#111">90</text>
<text x="168" y="429.29999999999995" font-family="Liberation Sans, sans-serif" font-size="10.1" font-weight="normal" font-style="normal" text-anchor="end" fill="#111">7</text>
<text x="167.3" y="440.59999999999997" font-family="Liberation Sans, sans-serif" font-size="10.1" font-weight="normal" font-style="normal" text-anchor="end" fill="#111">1</text>
<text x="187.5" y="440.59999999999997" font-family="Liberation Sans, sans-serif" font-size="10.1" font-weight="normal" font-style="normal" text-anchor="end" fill="#111">98</text>
<text x="262" y="429.29999999999995" font-family="Liberation Sans, sans-serif" font-size="10.1" font-weight="normal" font-style="normal" text-anchor="end" fill="#111">1</text>
<text x="262" y="440.59999999999997" font-family="Liberation Sans, sans-serif" font-size="10.1" font-weight="normal" font-style="normal" text-anchor="end" fill="#111">1</text>
<text x="282.8" y="429.59999999999997" font-family="Liberation Sans, sans-serif" font-size="10.1" font-weight="normal" font-style="normal" text-anchor="end" fill="#111">3</text>
<text x="358.6" y="429.79999999999995" font-family="Liberation Sans, sans-serif" font-size="10.1" font-weight="normal" font-style="normal" text-anchor="end" fill="#111">96</text>
<text x="359" y="441.2" font-family="Liberation Sans, sans-serif" font-size="10.1" font-weight="normal" font-style="normal" text-anchor="end" fill="#111">1</text>
<text x="379.8" y="430.0" font-family="Liberation Sans, sans-serif" font-size="10.1" font-weight="normal" font-style="normal" text-anchor="end" fill="#111">5</text>
<text x="455.3" y="430.0" font-family="Liberation Sans, sans-serif" font-size="10.1" font-weight="normal" font-style="normal" text-anchor="end" fill="#111">32</text>
<text x="380.2" y="441.29999999999995" font-family="Liberation Sans, sans-serif" font-size="10.1" font-weight="normal" font-style="normal" text-anchor="end" fill="#111">59</text>
<text x="453.6" y="441.29999999999995" font-family="Liberation Sans, sans-serif" font-size="10.1" font-weight="normal" font-style="normal" text-anchor="end" fill="#111">4</text>
<path d="M71.9 442.7 V381" stroke="#222" stroke-width="1.2" fill="none"/>
<path d="M71.9 375.6 L74.9 381.6 L68.9 381.6 Z" fill="#000"/>
<text transform="translate(69 412.6) rotate(-90)" font-family="Liberation Sans, sans-serif" font-size="10.8" fill="#000">PI</text>
<path d="M214 470.7 H316" stroke="#000" stroke-width="1.2" fill="none"/>
<path d="M322.6 470.7 L314.4 467.7 L314.4 473.7 Z" fill="#000"/>
<text x="224.2" y="481" font-family="Liberation Sans, sans-serif" font-size="11.7" font-weight="normal" font-style="normal" text-anchor="start" fill="#000">AnnexinV-FITC</text>
<text x="466.6" y="409.6" font-family="Liberation Sans, sans-serif" font-size="11.55" font-weight="bold" font-style="normal" text-anchor="start" fill="#000">Wild-type</text>
<text x="466.4" y="420.4" font-family="Liberation Sans, sans-serif" font-size="11.55" font-weight="bold" font-style="normal" text-anchor="start" fill="#000">(48 h)</text>
</svg>
</body></html>
